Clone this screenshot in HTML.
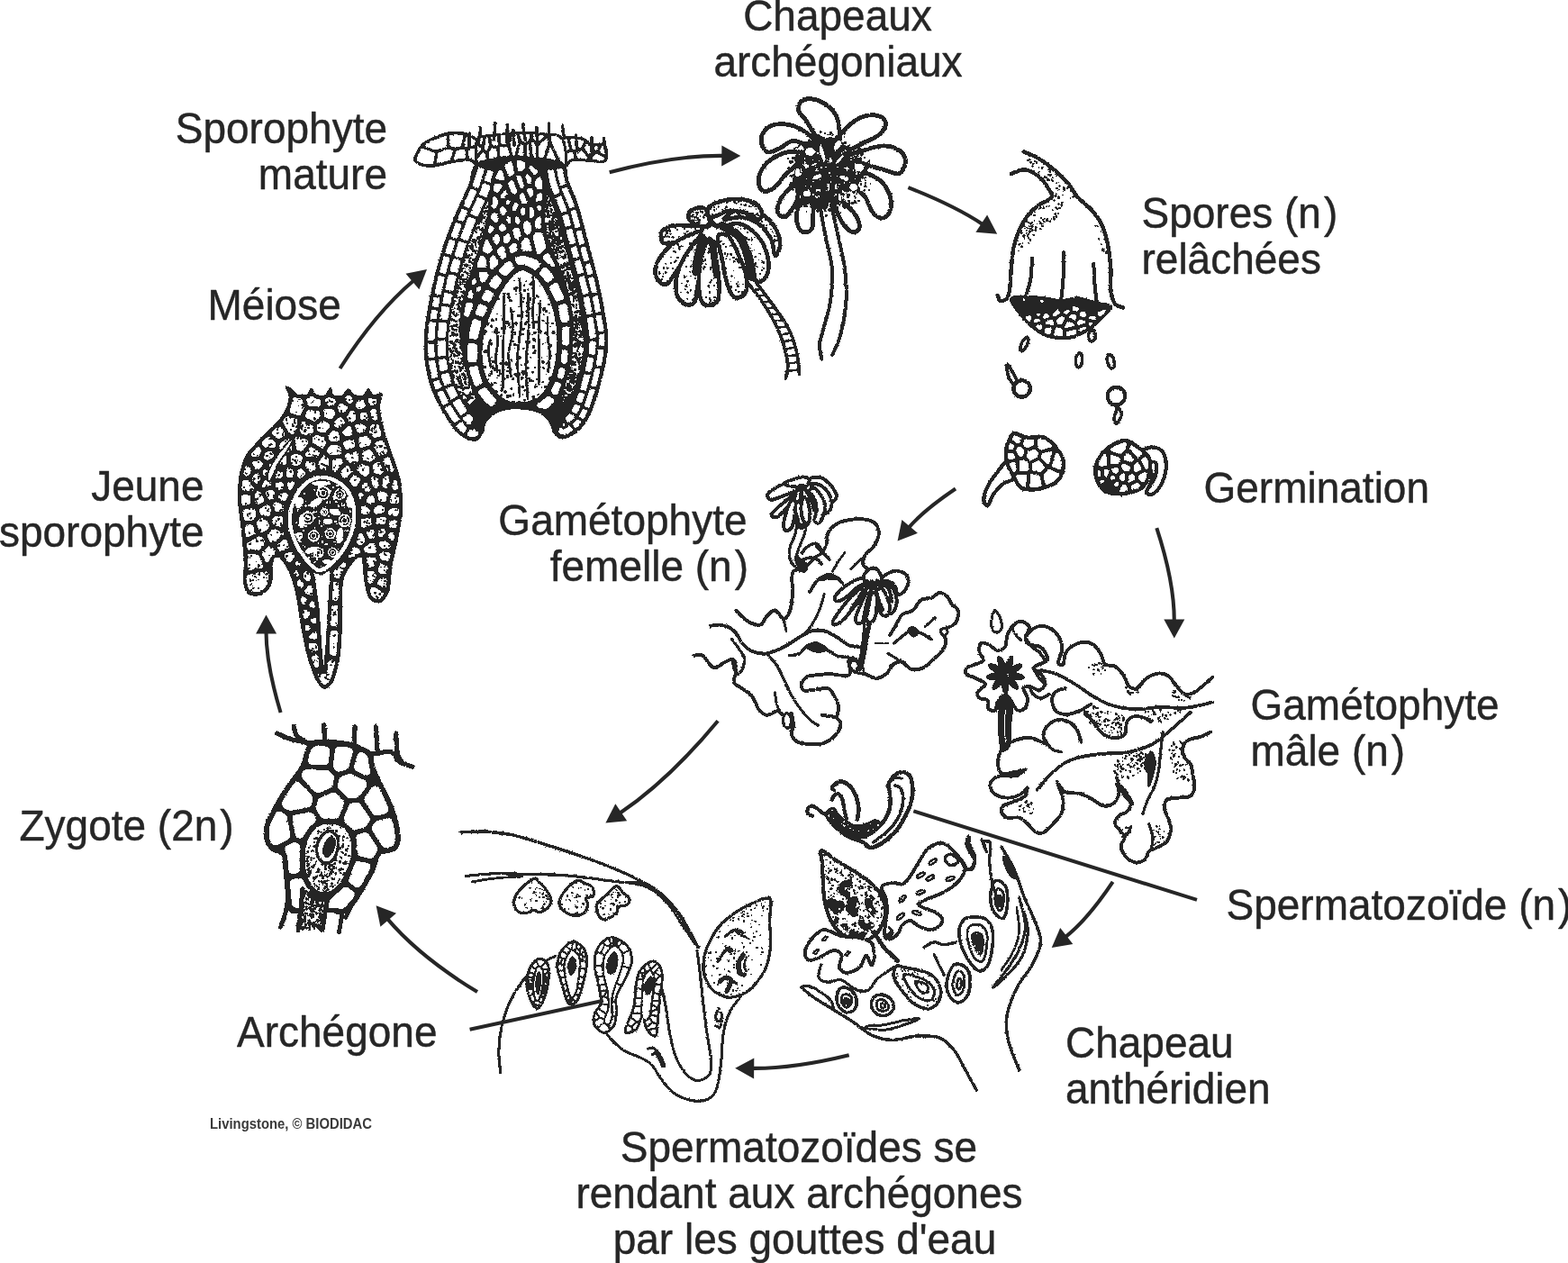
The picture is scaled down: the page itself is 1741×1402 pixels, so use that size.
<!DOCTYPE html>
<html lang="fr">
<head>
<meta charset="utf-8">
<title>Cycle de vie de Marchantia</title>
<style>
html,body{margin:0;padding:0;background:#fff;}
body{width:1741px;height:1402px;overflow:hidden;}
svg{display:block;will-change:transform;}
svg text{font-family:"Liberation Sans",sans-serif;fill:#262626;stroke:#262626;stroke-width:0.45px;stroke-linejoin:round;}
svg text.credit{font-family:"Liberation Sans",sans-serif;font-weight:bold;fill:#3a3a3a;stroke:none;}
.ln{fill:none;stroke:#231f20;stroke-linecap:round;stroke-linejoin:round;}
.fw{fill:#fff;stroke:#231f20;stroke-linecap:round;stroke-linejoin:round;}
.fk{fill:#231f20;stroke:#231f20;stroke-linejoin:round;}
</style>
</head>
<body>
<svg width="1741" height="1402" viewBox="0 0 1741 1402">
<defs>
<filter id="rough" filterUnits="userSpaceOnUse" x="0" y="0" width="1741" height="1402" color-interpolation-filters="sRGB">
<feTurbulence type="fractalNoise" baseFrequency="0.6" numOctaves="2" seed="7" result="n"/>
<feDisplacementMap in="SourceGraphic" in2="n" scale="2.2" xChannelSelector="R" yChannelSelector="G" result="d"/>
<feColorMatrix in="d" type="saturate" values="0" result="g"/>
<feComponentTransfer in="g"><feFuncR type="discrete" tableValues="0.149 0.149 0.149 0.149 0.149 1"/><feFuncG type="discrete" tableValues="0.149 0.149 0.149 0.149 0.149 1"/><feFuncB type="discrete" tableValues="0.149 0.149 0.149 0.149 0.149 1"/></feComponentTransfer>
</filter>
</defs>
<rect width="1741" height="1402" fill="#fff"/>
<g id="art" filter="url(#rough)">
<rect width="1741" height="1402" fill="#fff"/>
<!-- 10_sporo.svg -->
<g id="10_sporo">
<path class="fw" stroke-width="3.2" d="M461.1 175.6C461.8 172.1 466.1 164.4 469.8 160.7C473.5 156.9 478 155.2 483.4 153.1C488.8 150.9 496 148.1 502.4 147.7C508.7 147.2 516.4 148.2 521.3 150.4C526.3 152.5 530.1 155.1 532.2 160.7C534.2 166.2 535.3 180.9 533.5 183.7C531.7 186.5 526.5 178.2 521.3 177.5C516.1 176.7 509.1 178 502.4 179.1C495.6 180.2 486.8 183.5 480.7 184C474.6 184.4 469 183.2 465.8 181.8C462.5 180.4 460.5 179.1 461.1 175.6Z"/>
<path fill="#231f20" stroke="#231f20" stroke-width="2.0" fill-rule="evenodd" d="M461.1 175.6L461.1 177.4L461.5 178.9L464 181L470.7 183.3L477.1 184.1L484.6 183.4L502.4 179.1L514.4 177.4L521.3 177.5L524.4 178.7L532.1 184.2L533.5 183.7L534.3 180.8L534.4 176L533.3 164.9L532.2 160.7L530.7 157.7L528.9 155.3L524.2 151.7L518.1 149.2L510.3 147.8L502.4 147.7L494.5 149.1L483.4 153.1L474.6 157L469.8 160.7L467.6 163.3L463.4 169.9Z"/>
<path d="M503.6 175.3L503.9 176.8L505.3 177.3L516.8 175.7L517.5 174.4L516.7 166.5L515.7 165.8L512.8 165.4L506.5 166.9ZM469.5 164.8L467.8 165.4L464.6 170.6L462.5 175.6L462.9 178.4L466.2 180.5L470.9 182L477 182.7L480.7 182.5L481.5 181.4L483.2 170.5L482.7 169.2ZM520.8 165.6L519.8 166.5L519.6 167.2L520.5 175.4L525.1 177.5L530.5 181.6L531.9 181.9L532.5 181.5L532.9 180.4L533.1 175.9L532.7 170.5L531.4 163.8L530 163.4ZM472.1 160.4L471.6 161.9L472.7 163L484.4 166.7L495.5 163.2L496.5 161.7L495.8 152.1L494.8 150.7L491 151.7L478 156.8ZM484.5 179.9L484.9 181.3L486.3 181.6L499.7 178.1L503.1 168L502.7 166.5L497.6 165.3L486.3 169.4ZM506.3 148.9L499 149.7L498.4 151L499.5 162.5L505.6 164.1L511.8 162.6L514.8 151.4L514.3 149.9ZM515.1 161.3L515.6 162.8L518.4 163.4L528.8 160.9L529.9 159.7L529.5 158.3L526 154.5L520.9 151.6L518.5 151L517.4 152.1Z" fill="#fff"/>
<path fill="#231f20" stroke="#231f20" stroke-width="2.6" fill-rule="evenodd" d="M618.9 158L616.6 168L615.8 179.8L616.2 183.7L617.6 185.7L619.7 186.4L622.3 186.3L627.1 185.1L628.7 184L632.9 178.6L635.2 177.5L642.1 177.3L668.1 179.5L670.4 179.1L672 178.2L673 176.8L673.7 173.4L673.4 166.9L671.9 162.2L670.4 160.7L668.4 160.1L659.6 160.9L656.9 160.7L654.6 159.7L648.5 155L646 153.9L636.2 152.3L632.8 152.3L624.7 153.2L622.4 154L620.5 155.5Z"/>
<path d="M634.3 153.7L633.5 153.9L632.9 155.5L635.2 164.9L635.9 165.9L637.4 166.7L638.7 166.8L645.1 163.9L645.9 163.2L648.3 158.1L648.2 156.6L645.7 155.2L642.9 154.5ZM633.4 168.4L626.9 172L626.7 173.4L628.3 178.3L629.4 179.3L630.8 178.9L632.1 177.5L634.8 176.2L637.1 175.7L637.6 175L636.9 170.2L636.2 169.1L634.8 168.4ZM654.9 161.7L651.6 159.5L650.2 160.3L648.5 164.5L654 172.2L655.6 172.8L658.1 170.3L658.3 168.6ZM651 176.9L652.5 176.2L652.4 174.5L646.4 166.9L645.1 166.9L640.1 169.3L639.8 170.5L640.5 174.7L641.3 175.8ZM618.2 166.8L618.6 168.2L619.3 168.5L623.9 169.9L625 169.8L632 165.9L632.3 164.7L629.7 154.6L628.4 154.1L625.1 154.5L621.7 156.2L620.1 158.7ZM660.4 162.2L659.3 163L659.2 164.3L660.7 167L662.3 167L663.9 164.2L663.8 162.6L662.4 162ZM660.7 171.3L657.1 175.8L657.7 177.2L665 178.1L669.7 177.9L671.3 176.9L671.6 176L670.8 174.6L663.4 170.8L662.3 170.6ZM665.5 167.2L665.6 168.6L666.1 169.2L670.1 171.2L671.6 171.2L672.1 170.6L671.5 164.9L670.5 162.8L669.5 161.9L668.1 162.1L667.7 162.7ZM619.4 171.4L617.8 171.9L617.5 172.7L617.1 179.6L617.7 183.5L618.9 184.7L620.2 185.1L625.7 184.1L626.4 183.7L626.7 182.2L623.8 173.3L622.8 172.4Z" fill="#fff"/>
<path fill="#231f20" stroke="#231f20" stroke-width="2.0" fill-rule="evenodd" d="M529.5 155.2L528.2 160.2L527.8 167L528.1 174.3L529.2 180.6L530.8 184.5L533.2 185.3L536.2 183.9L544.1 178.7L548.4 176.9L558.6 175.2L570 174.3L575.6 174.2L586.5 175.2L602.7 178.3L608.2 180.1L619.4 185L624 186.1L627.1 185.1L628.6 180.8L628.8 174.1L628.1 166.3L626.5 159.1L624.4 153.9L621.3 151.1L617.3 149.7L592.2 147.4L581.1 147.1L570 147.4L535.2 151.2L531.8 152.6Z"/>
<path d="M555.6 159L556.8 160.1L562.8 160.2L563.8 159.8L565.4 150.6L565.1 149.6L564.1 149.2L556 150.3L555.5 151.3ZM591.2 152.6L595.8 158.1L597 158.4L603.7 151.9L604 150.7L603 149.9L592.5 148.9L591.3 149.4ZM574.8 171.3L575.3 172.6L575.9 172.8L580.1 173.1L581.2 172.6L581.8 162L581.3 160.9L579.4 159.8L578.3 159.7L577.6 160.5ZM539.3 171.5L537.3 169.3L536.1 169.1L530.2 175.8L530 176.7L530.5 180.1L531.9 183.3L533.5 183.6L535.5 182.7L540.4 179.2ZM529.3 169.3L529.8 170.3L530.9 170.4L534.4 166.3L534.2 165.2L531.1 161.8L530 161.8L529.4 162.8ZM537.5 164.9L537.9 166L539 167.1L540.4 167.3L543.4 162.2L542 152.9L541.3 152.1L540 152.1L539.4 153ZM588.7 172.6L587 161L585.9 160.6L584.8 161.4L584.2 172.4L584.7 173.4L587.3 173.9L588.3 173.6ZM613.1 150.6L611.9 151.1L611.8 151.8L611.9 157.6L624 183.3L625.5 183.9L626.3 183.2L627.1 180.8L627.4 174.2L626.7 166.6L625.2 159.4L623.3 155L620.8 152.5L617.1 151.1ZM545.9 151.5L544.9 152.3L544.9 152.9L546.4 160.8L551.3 162.3L552.4 162.1L552.9 161L552.5 151.3L551.3 150.8ZM542.2 170.3L543.2 176.7L544.6 177L551.8 174.7L552.2 173.7L551.6 165.5L546.7 164L545.3 164.6ZM591.8 157.9L590.2 157.8L589.7 158.9L591.6 173.8L592.6 174.8L594.6 175L595.3 173.9L595.2 162ZM587.8 148.8L577.4 148.7L576.9 150L578.8 156.1L583.2 158.6L586.8 156.3L588.4 153.1L588.4 149.8ZM531 155.6L531 157.1L533.4 160L534 160.4L535.2 160L536.4 154.2L535.9 153.1L534.7 152.9L532.9 153.7ZM598.2 175L599.1 176.1L602.1 176.7L603.5 175.9L609 157.7L609 153.5L608.2 152.4L606.9 152.7L598.1 161.6ZM555 173L555.7 174L556.4 174.1L565.6 172.9L566 171.7L563.9 163.5L563 163.1L555.4 163.1L554.6 164.7ZM566.5 161.4L569 171.9L569.6 172.7L571.1 172.7L571.8 172L575.6 157L573.9 149.5L573.2 148.7L569.5 148.8L568.6 149.3ZM612 164.4L611.2 163.8L609.8 164.6L606.1 177.3L606.9 178.2L618.5 183.1L619.6 183L620.1 181.5Z" fill="#fff"/>
<path class="ln" stroke-width="3.0" d="M521.3 148C521.3 149.5 521.2 153.8 521.1 156.6C520.9 159.5 520.6 163.8 520.5 165.3M533.5 142C533.4 143.5 533.2 147.9 532.7 150.9C532.2 153.9 531 158.3 530.7 159.8M549.8 136.4C549.7 138 549.6 142.8 549.3 146C549.1 149.2 548.4 154 548.2 155.6M563.4 138.5C563.3 140.2 563.3 145.3 563.3 148.6C563.3 152 563.2 157.1 563.2 158.8M570.1 144.2C570.2 145.6 570.3 149.8 570.4 152.6C570.6 155.4 570.9 159.6 571 161M581 137.7C581.1 139.2 581.3 143.6 581.7 146.6C582.1 149.6 583.1 154.1 583.4 155.6M595.9 141.2C595.9 142.8 596 147.4 596.2 150.5C596.4 153.6 596.9 158.3 597 159.8M609.4 136.9C609.5 138.4 609.5 143.1 609.6 146.2C609.7 149.3 610 154 610 155.6M624.4 139.1C624.5 140.3 624.7 143.7 625.1 146C625.5 148.3 626.5 151.7 626.7 152.9M639.3 150.2C639.4 151.8 639.6 156.4 640 159.5C640.4 162.5 641.4 167.1 641.7 168.7M656.9 152.5C656.9 154.2 656.8 159.1 656.7 162.4C656.6 165.7 656.3 170.7 656.2 172.3M670.4 153.4C670.6 154.7 670.8 158.9 671.3 161.6C671.8 164.4 673 168.5 673.3 169.9"/>
<path fill="#231f20" stroke="#231f20" stroke-width="3.0" fill-rule="evenodd" d="M528.1 184.5L526.6 187.2L525.5 190.5L522.8 202.4L521.3 206.8L507.8 236.6L500.8 253.7L494.2 271.8L485 303.3L478.8 330.8L473.8 360.5L472.9 369L472.5 382.1L472.9 395.6L473.9 404.7L476.5 418.2L479.1 427.3L482.5 436.4L486.9 445.7L491.7 454.7L499.4 467L505 474.6L510.5 480.6L513.3 482.8L519.1 486.2L521.9 487.3L526.8 488.2L528.6 487.9L531.6 485.7L535.7 478.6L536.9 471.6L539 467L542.9 462.8L548 458.8L553.9 455.6L560.6 453.7L568.1 452.6L575.6 452.4L583.1 452.9L590.6 454.1L597.2 456.2L602.7 459.2L607.2 463L610.8 467L613 471.7L615.1 478.8L617.6 482.1L620.8 484.7L622.7 485.5L624.7 485.8L627.1 485.5L633 483L636.4 481L643.1 475.6L648.7 468.9L651.1 465L655.5 455.9L661.7 439.2L669.1 410.8L673 390.3L673.7 377.6L673.3 369L671.3 355.8L666.9 331L662.3 309.8L642.4 234.4L638.7 223L629.8 201.3L628.9 197.8L627.5 186.6L626.5 184.5L623.8 181.5L622.2 180.5L617.2 179L602.5 176.9L581.9 175.7L563.7 176L547.4 177.6L534 180.2L529.9 182.5Z"/>
<path d="M530.6 186.2L524.2 205.8L525.1 206.9L530.5 208.9L531.7 208L533 204.3L538.2 187.9L537.2 186.8L531.7 185.2ZM522.2 210.1L514.2 227.8L515.1 229L520.4 231.2L521.6 230.4L529.6 212.4L528.7 211.2L523.3 209.3ZM512.5 231.5L507.5 243.2L508.5 244.4L513.8 246.3L515 245.4L519.4 234.7L518.5 233.5L513.2 231.3ZM505.5 247.6L500.2 261.9L501.1 263.1L506.6 264.9L507.7 263.9L513 249.8L512.1 248.7L506.7 246.7ZM498.3 266.4L493.9 280.4L494.9 281.5L500.4 283L501.5 282L505.9 268.4L504.9 267.2L499.5 265.5ZM492.3 285L487.7 301.9L488.8 303L494.4 304.2L495.5 303.1L499.9 286.5L498.9 285.4L493.4 284ZM486.3 306.6L482.2 325.6L483.3 326.6L489 327.6L490 326.4L494.1 307.8L493 306.7L487.4 305.5ZM481.4 329.6L479.4 339.8L480.6 340.8L486.3 341.6L487.2 340.5L488.8 331.1L487.7 330.1L482.8 329.2ZM478.7 343.9L477.2 353.2L478.3 354.1L484 354.8L485 353.6L486.2 345.2L485 344.3L480.1 343.4ZM476.3 358L474.8 373.7L474.9 377.9L476.1 378.7L481.9 378.5L482.7 377.3L484.1 358.4L482.9 357.4L477.2 356.8ZM474.6 382.7L475.3 396.9L476.7 397.6L482.4 396.8L483 395.4L482.4 382.1L481.1 381.3L475.3 381.4ZM475.7 401.8L478.3 416.5L479.4 420.2L480.9 420.6L486.4 418.8L486.8 417.4L483.3 400.2L482 399.6L476.3 400.4ZM480.6 424.2L483.5 432.6L485 432.8L490.2 430.4L490.4 428.9L488.2 422.7L487.2 421.7L481.6 423.1ZM485.2 437.1L491.7 450L493.2 450L498.1 447L498.2 445.5L492 433.4L490.6 433.3L485.3 435.6ZM494 454.3L501.7 466.6L504.1 469.5L505.6 469.4L510 465.8L509.9 464.3L500.4 449.8L498.9 449.8L494 452.8ZM507.6 474.4L513.1 480L514.7 480.9L516.1 480.2L518.9 475.2L518.3 473.9L513.2 468.7L511.8 468.1L506.7 472.1L506.6 472.8ZM521.1 484.7L525.5 485.8L526.6 485.7L530.1 483.6L531.6 481.5L531.8 480.1L526.6 476.1L525.8 476.3L524.6 477.6L522.9 476.7L521.5 476.8L518.1 482.3L518.9 483.6ZM541.1 188.9L537.5 199.9L538.5 201L545.8 203.3L546.9 202.3L550.1 191.8L549.1 190.7L542.6 188.6ZM536.2 203.7L531.7 215.4L532.5 216.6L539.6 219.5L540.8 218.6L545.2 206.8L544.2 205.7L537.7 203.4ZM529.5 219.7L521.8 236.7L522.7 237.9L529.8 240.8L531 239.9L538.6 223L537.8 221.7L530.7 218.8ZM519.7 241.1L510.7 264L511.7 265.1L518.9 267.6L520 266.7L528.8 244.2L528 243L520.9 240.2ZM508.8 268.5L504.1 283.3L505.1 284.4L512.4 286.4L513.5 285.4L518.2 271.1L517.2 270L510 267.5ZM502.9 287.2L499.1 300.5L500.1 301.6L507.5 303.4L508.6 302.3L511.9 290L510.9 288.9L504.3 286.8ZM497.6 305.2L494 321.1L495.1 322.1L502.6 323.5L503.6 322.4L507.2 306.9L506.1 305.9L498.7 304.1ZM493.1 325.1L490.9 335.9L492.1 336.9L499.6 338.1L500.6 337L502.4 327.1L501.3 326.1L494.6 324.6ZM490.2 340L487.8 353.7L489 354.6L496.5 355.6L497.5 354.4L499.5 341.7L498.3 340.7L491.6 339.5ZM486.9 358.5L485.6 374.1L486.9 374.9L494.5 374.9L495.3 373.7L496.5 359.2L495.4 358.2L487.8 357.3ZM485.2 378.9L485.8 395.3L487.2 396L494.8 395L495.4 393.7L494.9 378.5L493.6 377.7L486 377.7ZM486.3 401.6L488.4 412.2L489.8 412.6L497.2 410.7L497.6 409.3L495.6 398.5L494.3 397.9L487.5 398.6L486.2 399.4ZM489.6 418.3L493.1 428.1L494.6 428.3L501.6 425.3L501.8 423.8L498.9 414.7L497.9 413.6L489.7 415.5L489.3 416.2ZM494.7 432L500.3 443.6L501.8 443.6L508.4 439.8L508.4 438.3L503.4 428.3L501.9 428.2L495.6 430.8ZM502.5 447.9L511.2 461.3L512.7 461.1L518.7 456.5L518.6 455L510.6 442.6L509.1 442.6L502.5 446.4ZM514.7 466.5L519.6 471.6L521.4 471.9L525.6 465.4L525.8 464.1L521.8 459.5L520.5 458.9L513.7 463.9L513.6 464.6ZM622.1 482.3L627.9 482.9L633.1 480.5L635.9 478.6L636.5 477.2L633.2 472.9L631.8 473.1L625.6 476.4L623.7 475L622.2 474.8L619.1 479.2L619.7 480.5ZM636.2 469.8L635.6 471.2L635.9 471.9L638.3 474.9L639.8 475.5L643.1 472.5L645.9 468.8L645.2 467.4L641.2 465L639.9 465.7ZM649 464.3L652.7 456.5L651.8 455.3L647.4 453.7L646.2 454.6L642.7 461.8L643.3 463.1L646.6 465.2L648.1 465.3ZM654.7 452.1L661 433.2L660 432.1L655.5 431L654.4 432.1L648.3 450.2L649.2 451.4L653.5 453ZM662.5 428.5L666.8 410.4L665.7 409.3L661.1 408.5L660.1 409.6L655.9 427.5L656.9 428.5L661.5 429.6ZM668.1 405.7L670.6 391.8L670.8 388.3L669.6 387.4L664.9 387.2L664.1 388.4L661.4 405L662.5 406L667.1 406.8ZM671.5 382L671.1 371.2L669.7 370.5L665.1 371.2L664.5 372.5L664.7 383.7L665.9 384.5L670.6 384.7L671.2 384.2ZM670.8 366.3L668 349.7L666.6 349.2L662 350.2L661.5 351.6L664.2 367.7L665.6 368.3L670.2 367.7ZM667.3 344.9L664 328.3L662.5 327.8L658 329L657.6 330.4L660.9 346.8L662.3 347.3L666.8 346.3ZM663.2 323.5L659.4 307.4L657.9 307L653.5 308.3L653 309.7L656.8 325.6L658.2 326.1L662.7 324.9ZM658.4 303.4L655.5 292.5L654.1 292.1L649.6 293.5L649.2 295L652.1 305L653.5 305.4L657.3 304.5ZM654.4 287.7L650.4 273.8L648.9 273.4L644.5 274.8L644.1 276.3L648.1 290.2L649.6 290.6L654 289.2ZM649.3 269.1L645.6 255.6L644.2 255.2L639.7 256.5L639.3 257.9L643 271.6L644.5 271.9L648.9 270.5ZM644.6 250.8L639.6 233L638.1 232.6L633.7 234.2L633.4 235.6L638.3 253.2L639.7 253.6L644.2 252.3ZM638.3 228.2L629.7 207.6L628.3 207.4L624 209.3L623.8 210.8L632.1 231L633.6 231.3L638 229.7ZM628.2 203.1L624.5 186.9L623.1 186.4L618.6 187.3L618 188.7L619.3 196.6L620.8 202.5L622.2 206.1L623.7 206.4L628 204.5ZM625.2 472.9L626.9 473L627.7 472.3L627.7 470.8L626.9 470L625.5 469.9L624.8 470.7L624.6 472.2ZM631.2 470.1L635.3 467L638.2 463.1L637.5 461.7L632.9 459L631.5 459.6L627.7 463.4L627.1 464.7L630.5 469.9ZM634.5 455.1L634.5 456.5L635 457L639 459.5L640.5 459.6L644.5 452L644.3 450.5L639.4 448.2L637.9 448.4ZM646.2 447.4L649.7 437.8L648.6 436.7L643.4 435.3L642.3 436.3L639.4 444.6L640.4 445.8L644.7 447.6ZM651.3 433.2L655.5 416.9L654.4 415.9L649.1 414.8L648.1 415.9L643.9 431.8L644.9 432.8L650.2 434.3ZM656.9 412.2L659.7 397.9L658.6 396.9L653.2 396.1L652.2 397.3L649.4 411.2L650.5 412.2L655.8 413.3ZM660.8 393.1L662 381.8L661.8 379.2L660.5 378.4L655.1 378.7L654.3 379.9L653.3 392.6L654.4 393.5L659.8 394.3ZM661.8 370.8L658.7 351.9L657.3 351.4L652 352.5L651.5 354L654.5 375.2L655.8 375.9L661.2 375.6L661.9 374.3ZM658.1 347.1L654.5 329.3L653 328.8L647.7 330.1L647.3 331.5L650.8 349.1L652.2 349.7L657.6 348.5ZM653.7 324.5L649.3 306.4L647.9 306L642.6 307.5L642.2 308.9L646.5 326.8L647.9 327.2L653.2 325.9ZM648.3 301.6L644.5 288.5L643.1 288.1L637.9 289.7L637.5 291.2L641.2 304.2L642.7 304.6L647.9 303.1ZM643.4 284.5L640.4 273.5L639 273.1L633.8 274.7L633.4 276.1L636.4 286.5L637.9 286.8L642.4 285.6ZM639.4 268.8L635.4 253.8L633.9 253.4L628.7 254.9L628.3 256.4L632.3 271.4L633.8 271.8L639 270.2ZM634.3 249.8L631.1 237.7L629.6 237.3L624.4 239.1L624.1 240.5L627.3 251.6L628.7 252.1L633.9 250.5ZM629.8 233L623.5 217.3L622 217.1L617.1 219.5L617 221L622.9 235.9L624.3 236.2L629.5 234.4ZM621.8 212.8L617.6 200.8L615.2 188.4L613.7 187.9L608.4 188.9L607.8 190.3L610.1 202.6L612.9 211.4L615.2 216.4L616.7 216.6L621.6 214.3Z" fill="#fff"/>
<path fill="#fff" fill-rule="evenodd" d="M519.3 451.8L528.3 442.4L518.9 416.8L514.1 396.6L511.6 380.2L510.7 369.2L510.6 359.2L511.1 350.4L513.3 336.8L517.2 320.8L523.9 298.8L533.1 271.7L539 251.9L541.9 236.6L542.9 219.9L532.9 241.4L526.3 257.1L519.8 274.1L514.2 291.4L509.2 309.4L504.7 328.8L500.8 348.7L498.1 367.3L497.5 378.2L497.5 390L498.6 401.1L500.7 412.3L504 423L509.1 434.4ZM621.5 442.3L630.1 451.2L636.1 437L639.7 425.5L643.3 411.8L647.7 390.7L648.5 384.1L648.7 374.4L647.5 364.4L643.7 342.5L636.5 309.1L616.9 236.2L606.4 210.1L606.1 219.6L604.5 236.6L604.5 242L605.4 252L607.2 261.7L609.9 271.7L611.9 276.9L622.6 298.7L626.7 309.7L632.5 331.7L635 346.1L635.9 354.7L636.3 369.1L635.9 380.1L633.6 401.8L631.7 411.8L629.1 421.6Z"/>
<path d="M637.3 322.6h0M625.5 303.5h0M515 311.8h0M623 267.5h0M617.1 287.5h0M618.5 251.9h0M616.7 244.1h0M626.2 444.1h0M535.3 257.9h0M503.1 343.4h0M610.7 222.2h0M512.1 421.6h0M510 346.5h0M614.8 253.5h0M525.4 278h0M640.4 361.7h0M626.8 309h0M512.3 401.6h0M624.2 295.7h0M611.8 269.5h0M617.1 267.1h0M532.4 254.7h0M607.1 252.6h0M639.3 410.5h0M605.3 247.9h0M504.9 412.1h0M498.2 388.2h0M522.2 294.6h0M637.2 376.7h0M616.6 266.5h0M640.2 332.3h0M637.3 331.9h0M640.2 364.6h0M535.2 258.3h0M516.8 313h0M641.7 416h0M641.2 368.6h0M613.4 272.8h0M612.3 228.3h0M642.4 345.1h0M504 346.2h0M622.1 271.1h0M630.1 302.2h0M506.8 362.1h0M627 300h0M507.2 373.3h0M641 359.5h0M630.1 444.4h0M500 373.1h0M630.4 297.2h0M615 276.6h0M516.2 317.8h0M644.4 383.3h0M519.6 444.7h0M508.2 370.6h0M633.2 306h0M512.4 439.4h0M505 379.8h0M637.2 340.9h0M511 377.8h0M635.5 411.9h0M619.4 262.3h0M505.7 400.8h0M613.7 279.8h0M504.4 366.7h0M505.4 407.9h0M514 433.4h0M636.9 376.3h0M506.3 350.5h0M608.1 247.7h0M635.7 434.9h0M524.2 283.6h0M607.6 229.3h0M605.7 250.2h0M626.6 444.6h0M642.7 345h0M636.9 405h0M643.6 360.9h0M643.5 363.7h0M636.4 411.9h0M516.5 301.2h0M515.7 293.6h0M638.8 392.9h0M612 249.8h0M521.6 429.5h0M507.3 338.5h0M617 284.7h0M636.4 361.1h0M517.4 440h0M638.6 361.9h0M524 281.7h0M637.9 347.1h0M618.5 257h0M647.3 366h0M537.9 250.6h0M514.3 315.6h0M646.8 381h0M506.1 360.5h0M533.5 255.1h0M538.2 236.8h0M635.3 316.1h0M644.1 360.1h0M628.6 435.2h0M643.9 366.8h0M637.9 396.3h0M631.7 445.2h0M611.7 231.7h0M637.7 403.6h0M614.2 237.1h0M512.1 308.4h0M612.5 275.9h0M630.5 425.6h0M644.1 366.3h0M529.2 274.4h0M631.9 328.3h0M625.2 302.4h0M624.2 269.6h0M503.9 371.9h0M627.3 447.5h0M638.1 353.3h0M638.7 402.2h0M513.6 419.2h0M619.3 256.2h0M641.8 397.1h0M644.8 370.6h0M627 286.4h0M508.3 371.6h0M635.6 421.7h0M629.3 312.5h0M534.8 246.1h0M628.8 283.4h0M630.1 301.8h0M612 234.5h0M500.4 353.8h0M618.3 262.8h0M616.7 253.8h0M615.8 262h0M634.9 412.9h0M629.3 445.8h0M524.3 291.9h0M630.1 441.2h0M623.2 285.2h0M642.8 404.2h0M519 278.1h0M606.6 219.7h0M514.5 420.9h0M507.7 363.3h0M618.1 270h0M500.8 381.2h0M518.4 293.9h0M509.2 316.9h0M645.1 369.3h0M518.1 296.5h0M620.7 286.7h0M510.1 362.7h0M632.9 442.7h0M634.6 431.8h0M520.4 284h0M517.3 285.5h0M637.1 351.8h0M640.6 347.3h0M535.3 253.7h0M513.8 431h0M631.7 304.9h0M514.3 408.5h0M629 309.7h0M506.4 382.8h0M517.8 419h0M625.4 301.4h0M621.7 266.2h0M639.4 339.7h0M513.7 309.8h0M622.2 257.7h0M637.8 325.2h0M501.6 370.2h0M515.2 324h0M635.7 349.5h0M631.6 298.5h0M632.7 432.7h0M610.7 244.8h0M515.5 313.3h0M626.3 438.5h0M638.7 424h0M640.5 420.7h0M525.8 291.3h0M630.4 286.9h0M501.8 403.4h0M625.1 443.7h0M607.5 262.3h0M538.5 236h0M638.9 321.3h0M637 411.6h0M504.1 411.8h0M641.6 414.6h0M507 427.1h0M636.4 396.2h0M645 374.6h0M516.5 298.4h0M524.7 278.9h0M642.2 356.5h0M518.1 309.2h0M503.4 350.5h0M511.9 321h0M510.6 416.3h0M639.6 329.5h0M633.7 308.5h0M508.9 349.7h0M639.8 375.9h0M640.2 342h0M639.1 416.5h0M640.4 363.2h0M637.9 395.6h0M611.1 231.5h0M504.1 418.8h0M609.7 226.4h0M513.4 429.5h0M515.8 445.9h0M521.3 303.5h0M607.6 234.6h0M614.6 281.8h0M636.8 396.8h0M621.2 270.4h0M524.2 283.2h0M503.6 356h0M627 429.3h0M510.6 337.2h0M505.6 361.3h0M629 296.2h0M524.8 435.1h0M632.7 299.1h0M621.8 269.9h0M646.6 365.4h0M513.2 294.7h0M501.2 398.2h0M507.6 318.2h0M638.5 367h0M630.7 440.1h0M638.7 360.8h0M611.6 258.3h0M510.7 337.3h0M643.6 397.2h0M522.3 269.6h0M509.6 363.2h0M610 227h0M621.9 259.1h0M636.7 426.1h0M626.4 293h0M644.1 349.3h0M611.2 256h0M619.1 274.3h0M509.3 397.6h0M638.9 392.8h0M635.2 424.8h0M505.8 388.9h0M626.7 438h0M521.8 283.2h0M498.8 383.4h0M637.7 367.8h0M516.3 415.9h0M621.7 283.6h0M617 256.9h0M508.3 411.7h0M513 392.5h0M637.3 355.2h0M509.3 336.8h0M633.7 438.9h0M608.8 262.8h0M511.2 386.7h0M527.8 270.8h0M639.1 372.9h0M635.3 324.9h0M631.5 433.8h0M639.4 383.2h0M517.9 317.1h0M502.4 378.9h0M525.5 435.6h0M635.8 322.3h0M617.8 249.6h0M610.3 269.2h0M507.3 327.6h0M632.6 426h0M509.9 364.1h0M534.4 247h0M629.7 295.1h0M629.4 290.8h0M506.7 368.1h0M608.3 226.7h0M512.7 335.8h0M633.3 417.5h0M639.7 333.3h0M646.2 359.5h0M620.5 292.5h0M612.5 270.9h0M624.8 267.5h0M607.6 248.9h0M642.9 409.9h0M509.4 365.5h0M517.6 292.5h0M503.7 360.3h0M619.1 245.8h0M641.1 420h0M605.7 230.2h0M542.1 234h0M519.8 305.6h0M626.1 286.9h0M634.3 400h0M501.5 399.3h0M638.6 401.7h0M630.7 322.3h0M626.1 274.8h0M640.3 393.8h0M617.9 281.5h0M648.2 376.6h0M640.2 422.4h0M518.5 302.5h0M609.3 249.9h0M623.8 284.7h0M514.7 312.3h0M539 240.5h0M519.7 286.1h0M626.3 292.1h0M618.9 278.1h0M616.8 262.2h0M616.2 247.9h0M633.4 318h0M539.2 246h0M615.4 282.2h0M617.9 275h0M635.9 314.1h0M610.5 244.7h0M630.3 304.5h0M508.7 349h0M606.1 256h0M634 429h0M627.9 299.5h0M637.7 360.5h0M635.1 406.6h0M507.3 391.7h0M637 318.9h0M613 263h0M642.8 409.5h0M500.4 379.7h0M642.9 406.9h0M618.1 264.8h0M632.5 311.1h0" fill="none" stroke="#231f20" stroke-width="1.3" stroke-linecap="round"/><path d="M643.4 368.1h0M526.2 268.6h0M508 395.3h0M538.2 231.2h0M619 283.6h0M606.4 226.7h0M629.2 310.9h0M630.6 303h0M504.5 362.2h0M638.6 384.7h0M501.7 405.6h0M633.7 325.3h0M608 239.8h0M512.1 411.2h0M633.1 422.7h0M640.4 371.1h0M643.8 347.4h0M634.5 313.9h0M613.8 261.6h0M636.8 313.5h0M631.7 431.1h0M504.3 355h0M510.8 408.4h0M532.2 271.3h0M647.7 374.2h0M508.4 377.2h0M525 273.5h0M637.2 382.9h0M539.8 248.4h0M618.5 245.6h0M513.6 435.7h0M639.5 419.1h0M502.3 361.7h0M517.4 426.5h0M614.9 239h0M514.2 400.8h0M510.8 333.9h0M513.2 415.6h0M628.1 443h0M514.3 432.2h0M627.6 307.3h0M637.8 364.5h0M638.8 392h0M641.3 383.8h0M614.7 272.9h0M628.9 441.4h0M499.7 396.2h0M613 269.2h0M501.1 394.4h0M639 416.2h0M510.2 403.4h0M635.3 435.5h0M607.4 224.3h0M617.8 265.4h0M641.5 359.8h0M641 364.7h0M604.9 241.2h0M606.2 221.5h0M514.5 414.6h0M630.7 449.7h0M502.6 402.9h0M525.6 267.4h0M519.2 307.7h0M504.2 355.9h0M612.3 264.7h0M527.9 280.4h0M633.2 441.3h0M521.7 441.9h0M633.6 430h0M516.7 295.3h0M613.2 265.9h0M512.8 399.9h0M506.7 386.7h0M609.6 223.5h0M517.8 444.1h0M501.6 379.3h0M638.9 415.3h0M505.9 394.8h0M644 393h0M625.2 438.1h0M612.4 272.5h0M512.5 397.8h0M611.7 276.1h0M638.5 410.4h0M528.1 256.8h0M606.3 254.9h0M510.8 417.7h0M641.9 354.8h0M619.2 267.4h0M641.2 389.6h0M644 366.7h0M619.3 276.2h0M504.3 395.4h0M613.5 266.7h0M621.1 280h0M639.2 384.7h0M540.8 237.7h0M501.6 408.5h0M610.1 252.5h0M612.4 250.8h0M612.3 239.1h0M638.5 360.2h0M511.8 430.6h0M532.8 267.7h0M504.8 341.7h0M614.3 281.1h0M610.9 229.3h0M511.2 308.6h0M513.3 428h0M617.6 286.3h0M618.3 280.9h0M637.5 414.2h0M623.5 438.6h0M630.5 443.3h0M614.6 260h0M504.8 329.9h0M607.9 257.7h0M636.2 317h0M626.7 437.1h0M634.3 326.7h0M611.8 236h0M616.1 280.6h0M628 295h0M648 383.6h0M517.5 285.9h0M626.1 297h0M616.1 253.7h0M522.2 272.7h0M503.2 400.4h0M506.9 377.6h0M621.9 296.2h0M517.2 447.9h0M637 325.9h0M514.9 325.7h0M635.3 421h0M527.2 255.5h0M627.8 283.5h0M536.2 241.4h0M618.3 247.8h0M510.2 332.7h0M510.4 425h0M641.9 377.7h0M523.2 286h0M502.4 346.9h0M506.7 328.7h0M503.4 389.7h0M529.8 278.2h0M626.3 285.1h0M514.6 400.7h0M536 255.6h0M631.7 312.8h0M622.9 268h0M633.2 335h0M524.4 436.6h0M643.8 355.4h0M520.9 283.4h0M511.8 324.2h0M537.2 248h0M512.8 309.8h0M632 315.5h0M638.3 402.1h0M639.5 346.3h0M605.2 238.2h0M632.7 411.6h0M635 403.8h0M513.9 313.2h0M637.5 391.8h0M515.7 302.3h0M505.8 328.1h0M508.4 421.3h0M618.5 251.6h0M637.1 376h0M625.9 440.5h0M647 384.7h0M510.3 425.8h0M613.4 260.9h0M505.2 395.1h0M636.4 401.2h0M505.9 327.4h0M521 288.8h0M639.8 378.1h0M511 315.5h0M626.8 292.6h0M644.1 406.4h0M508.5 316.5h0M642.2 387.2h0M524 271.4h0M628.1 313.1h0M504.7 385.4h0M635.1 432.9h0M631.3 314.5h0M520.6 424.7h0M508.2 319.1h0M629.2 283h0M517 318.2h0M508.7 390.5h0M518.4 430.4h0M610.7 261.5h0M633.2 413.3h0M512.5 301.4h0M534.3 261.4h0M636.1 402.7h0M506.4 372.5h0M519.3 311.3h0M524.6 292.6h0M622.7 275.9h0M504.3 393.5h0M615.2 274.6h0M507 348.5h0M610.4 226.2h0M609.5 252.6h0M638.8 377.2h0M537 258.1h0M518.4 438.9h0M634.9 322.1h0M641.2 417h0M642.1 380.6h0M640.6 382.9h0M506.8 428.3h0M503 339.2h0M621 255.7h0M626.9 429h0M605.9 252.2h0M631.6 415.9h0M502.2 392h0M523 291.2h0M504.1 384h0M510.8 378.1h0M516.1 316h0M500.7 406.4h0M610.4 264.2h0M628.9 308.7h0M615.6 273.3h0M610.4 223.4h0M638.7 404.7h0M632.8 312.2h0M630.5 446.6h0M504.1 348.5h0M529.2 266.7h0M627.1 434.4h0M520.7 427.3h0M512.2 337.8h0M514.7 297.7h0M638.5 372.6h0M534.8 255.7h0M637.6 418h0M628.8 292.8h0M519.7 277.6h0M501.3 389.5h0M516.7 301.7h0M536.7 235.2h0M533.7 240.7h0M646.7 384.4h0M610 248.3h0M501.2 412.3h0M637.9 396h0M513 310.1h0M646.8 392.8h0M508 317.5h0M537.5 256.8h0M609.6 241.2h0M613.4 242.8h0M637.6 384.2h0M512.1 335.4h0M612.7 270.8h0M503.6 413.2h0M507.4 412.6h0M636.6 339.6h0M533.8 260.4h0M614.1 257.8h0M626.3 295.2h0M614 237.6h0M514.2 406.8h0M643.7 379.4h0M500.9 405.7h0M631.5 432.6h0M609.5 234.4h0M508.8 379.8h0M625.1 441.4h0M507.3 418.4h0M640.5 381.3h0M635.6 337.8h0M521.7 427.2h0M635 437.3h0M536.2 241.1h0M636.2 327.6h0M628.8 292.9h0M504.3 337.2h0M515 311.9h0M640.2 337.8h0M634.5 419.7h0M511.1 411.7h0M645 397.4h0M623.9 284.7h0M613 248.2h0M626.9 435h0M606.3 240.2h0M633.7 419.9h0M515.9 411.8h0M536.1 253.4h0M521.9 286.9h0M636.1 417.7h0M610.9 249h0M540.1 231.1h0M628.7 437h0M512.8 440.7h0M513.3 328.2h0M506.6 356.9h0M608.2 220.2h0M507.7 324.6h0M619.6 266.2h0M505.1 407.2h0M507.3 360.3h0M607.3 231.4h0M532.9 244.5h0M638 368.2h0M624.9 301.5h0M515.6 309.8h0M635.6 308.9h0M637.4 323.4h0M506.1 378.8h0M504.1 419h0M637.3 325.1h0M630 305.6h0M622.2 268h0M625.1 296h0M528.2 272h0M516.3 443.6h0M644.1 357.6h0M612.7 247.3h0M611.5 256.8h0M501 371.7h0M627.8 444.7h0M529 258.1h0M507.5 330.6h0M619 286.4h0M500.5 403.7h0M636.8 333.6h0M633 325.7h0M499.5 379.6h0M642.9 375.1h0M514.9 298.3h0M632.6 410.9h0M647.2 383h0M625.6 437.1h0M633.3 424.9h0M613.3 270.1h0M619.6 278.3h0M631.6 439.9h0M637.9 354.1h0M622.2 274.6h0M631.6 297h0M522.5 301.1h0M609.4 267.1h0M640.5 396.9h0M634.1 438.1h0M633.3 315.5h0M616.3 240.2h0M624 263.1h0" fill="none" stroke="#231f20" stroke-width="2.1" stroke-linecap="round"/><path d="M643.3 393.3h0M506.5 402.7h0M645.8 368.9h0M503.7 381.4h0M626.9 294.3h0M640.5 329.1h0M617 240.6h0M636 422.5h0M540.2 244.6h0M510.2 363.4h0M644 372.6h0M631.9 441.6h0M605.8 233.6h0M511.2 409.8h0M513.4 305.4h0M531.7 248.1h0M636.7 313.3h0M516.2 445.4h0M622.2 279.8h0M519 303.5h0M503.1 372.3h0M642.6 355.1h0M516.2 318.1h0M638 330.9h0M615.4 250h0M508.4 429.4h0M533.4 245.4h0M625 302.2h0M510 423.4h0M501.1 362.5h0M511 313.5h0M504.8 382.5h0M515.6 289.9h0M512.7 439.8h0M609.7 261.2h0M519 294.8h0M634.5 402.7h0M639.8 357.5h0M512.5 426.8h0M615.1 269.7h0M631.6 438.8h0M512.4 300h0M608.6 227.4h0M641.8 345.5h0M516.1 421.3h0M637.9 329.4h0M616.1 262.9h0M535.7 241.9h0M639.7 368.9h0M509.1 337.5h0M517.8 282.7h0M637.5 417.6h0M521.3 439.1h0M511 330.3h0M636.2 375.7h0M618.7 252.7h0M507.2 371.3h0M646.5 360.6h0M637.7 430.4h0M520.1 443.1h0M506.9 413.4h0M645.7 371.9h0M509.2 419.1h0M606.7 222.6h0M627.1 436.1h0M631.5 326.8h0M615.5 236.5h0M633.7 401.2h0M625.1 303.4h0M511.1 344.8h0M511.4 309.3h0M511.5 423.7h0M636.6 355.3h0M640.1 353.9h0M638.4 429.4h0M532 269.2h0M531.7 263.6h0M532.7 263.6h0M645.8 356h0M513.3 329h0M617.1 277.7h0M611.5 228.1h0M522.5 274.6h0M637.8 367h0M608.3 237h0M630.3 293.8h0M622.1 259.5h0M610.3 259.4h0M636 338.4h0M506.1 350.6h0M630.1 441.9h0M636.5 353.8h0M632.6 433.3h0M634.4 401.4h0M518.2 315.9h0M510.2 319.8h0M621 268.6h0M635.2 416.2h0M640.9 363.4h0M612.4 233.2h0M635.9 317.4h0M508 323.6h0M643.4 399.2h0M634.7 411.4h0M636.8 425.3h0M627.7 283.2h0M634.5 424.5h0M608 240h0M516 430.7h0M623.1 296.7h0M634.9 319.3h0M611.4 249.8h0M507.2 324.3h0M623 279.9h0M515.1 437.8h0M502.9 369.1h0M500.5 390.1h0M616.1 263.2h0M611.9 254.6h0M612.3 248.9h0M517.8 444.2h0M626.7 306.9h0M620.7 264.6h0M639.6 357.8h0M527.2 288.1h0M632.1 443.7h0M537.5 241.7h0M633.2 320.8h0M621.9 258.4h0M639 423.2h0M629 446h0M621.4 254.9h0M502.4 355.7h0M620.3 255.8h0M636.3 322.9h0M638.6 415.1h0M510.1 393h0M509.9 407.4h0M609.5 263.5h0M613.5 254.2h0M530.9 264.4h0M606.3 234.7h0M632.6 316.5h0M613.9 252.8h0M611.7 253.8h0M613.6 278.5h0M520.1 430.3h0M612.4 261.7h0M632 445.5h0M609.3 239.6h0M644.7 380.3h0M515.2 417h0M635.8 404.8h0M537.1 257.1h0M635.5 391.5h0M614.1 245.4h0M613.5 277.8h0M636.6 420.6h0M513.3 408.5h0M629.4 449.2h0M516.5 418.2h0M614.6 241.8h0M646.7 362.9h0M624.5 273.8h0M634.6 421.2h0M518.9 313h0M645.4 358.8h0M639.3 372.6h0M509.3 340.7h0M636.6 314.8h0M639.5 356.1h0M627.5 284.7h0M510.7 419.4h0M511 403.4h0M642.5 384.8h0M624.7 435.2h0M614.7 237.5h0M636.9 324.8h0M510.4 391.9h0M510.9 308h0M517.1 446h0M524 276.8h0M629.4 430.1h0M635.3 319.5h0M517.9 316.2h0M634.5 401.7h0M519.1 439.5h0M501.5 354.6h0M632.8 432.3h0M609.2 217.7h0M643 382.5h0M643.7 352.6h0M634.1 321.1h0M514.3 312h0M625.1 278.9h0M623.8 267.6h0M640.8 346.4h0M640.1 397.8h0M512.9 427.9h0M614.5 262.3h0M648 367.7h0M511.6 429.5h0M510.6 342.3h0M630.1 298.7h0M624.7 437.1h0M504.9 411.9h0M521.9 436.4h0M514.6 404.1h0M623.1 441.5h0M632.5 428.3h0M628.5 441.4h0M636.3 370.1h0M610.6 254.6h0M501.9 413.1h0M632.5 318.5h0M541.4 229.5h0M635 392.5h0M510.3 356h0M643 402.1h0M519.3 449.4h0M532.5 267.6h0M647.6 383h0M639.4 368.7h0M624.3 444h0M633 408.7h0M518.2 439.8h0M621.8 261.7h0M638.3 352.1h0M630.9 420.3h0M511.6 385.8h0M503.4 347.7h0M506.9 378.3h0M504.8 371.2h0M631.3 432.5h0M640.5 377.3h0M523.9 441.3h0M504.2 412.5h0M639.3 363.6h0M639.2 381.4h0M633.7 442.9h0M499.8 387.5h0M502.6 365.2h0M621.2 274.4h0M511.2 381.9h0M511.4 410.4h0M524.7 437.4h0M531.6 252.4h0M625.8 285.6h0M519.6 284.9h0M527.4 279h0M531.3 264.6h0M510.4 335.2h0M518.4 285.5h0M610.6 272h0M639 323.4h0M641 355.2h0M503.3 386.4h0M508.3 320h0M610.9 249.8h0M630.1 447.7h0M621.7 260.1h0M632 306.6h0M539.8 234.3h0M613.8 254.8h0M615.3 267.2h0M638.7 375.7h0M524.3 274.1h0M506.5 388.9h0M518 447.6h0M647.7 380.5h0M630.3 432.2h0M619.3 249.3h0M631.2 310h0M610.2 246.1h0M633.5 402.3h0M616.8 238h0M525.4 288.5h0M521.6 290.6h0M508.8 342.9h0M638.9 394.7h0M631 426.3h0M498.8 367.1h0M628.9 442.3h0M506 366.2h0M607.1 215.4h0M607.4 229.3h0M604.7 234.5h0M638.6 318.3h0M506.9 371.4h0M637.7 404.2h0M507.9 401.6h0M534.3 243.7h0M610.6 249.4h0M534.4 243.4h0M612.2 249.7h0M634.4 416.6h0M618.9 271.6h0M634.9 416.9h0M626.7 285.1h0M641.7 359.9h0M618.7 265.6h0M627.6 430.3h0M511.9 382.4h0M527.5 268.5h0M627.1 446.9h0M514.9 324h0M617.8 280.5h0M639.8 350.8h0M606.8 248.2h0M641.5 399.7h0M611 228.2h0M526.7 268.4h0M635.3 397.2h0M510.3 367.6h0M619.7 269.8h0M519.8 442.3h0M525 267.8h0M635.8 417.5h0M646.4 369.2h0M610.5 248.7h0M535.1 238.8h0M503.1 417h0M501.2 411.9h0M612.6 264.2h0M627 444.2h0M609.3 263.5h0M639.6 393.6h0M505 334.7h0M623.3 295h0M637.1 431.6h0M529.1 253.5h0M614.6 248.3h0M510.9 435.3h0M521.3 297.7h0M617.9 246.9h0M636.6 352.8h0M638.3 317.9h0M613.7 244.4h0M633.8 417.5h0M630.2 427h0M516.4 424.8h0M647.8 371.2h0M636.7 364.2h0M526 266.1h0M613 249.7h0M630 450.7h0" fill="none" stroke="#231f20" stroke-width="2.9" stroke-linecap="round"/>
<path fill="#231f20" stroke="#231f20" stroke-width="1.5" fill-rule="evenodd" d="M572.8 173.7L568.7 174.3L564.7 176L557.1 181.5L551.2 187.8L549.1 190.8L546.6 197.5L543.8 214.3L542.4 236.6L540.7 247.1L533.5 271.8L519.3 315.4L514.9 331.8L512.9 341.7L511.2 354.8L511 364L511.6 374.5L512.8 385.7L516.7 406.7L521 421.5L528.9 442.4L533.7 451.7L536.2 454.8L538.9 456.6L541.7 457.3L544.5 457.2L568.2 453.1L575.6 452.4L583 453.3L593.9 455.8L605.9 457.5L608.5 457.5L611 456.7L613.5 454.8L616 451.7L618.5 447.4L623.2 437L627.1 426.4L631.2 411.7L633.8 396.5L635.4 380.1L635.6 359.2L634.6 346.1L630.8 326.4L626.2 309.8L622.1 298.9L611.5 277.1L609.4 271.8L606.7 261.8L604.9 252L604 242L604.4 231L606 214.3L605.3 201.2L603.8 194L602.3 190.8L600 187.8L592.3 181.5L582.3 176L577.3 174.3Z"/>
<path d="M602.1 444.4L596.3 448.3L595.7 449.8L596 451.3L596.9 452.5L605.6 454.3L608.7 453.1L614.1 447.9L615.6 445.4L615.4 443.8L614.3 442.6L610.2 439.7L608.8 439.2L607.3 439.4ZM618.9 423.8L617.5 423.6L616.1 424.2L615.2 425.4L611.2 434L611.6 435.4L612.5 436.4L615.2 438.3L616.9 438.8L618.6 438.3L619.7 437L622.9 428.5L623.1 426.9L622.4 425.5ZM623.9 407.8L622.4 407.9L621.1 408.7L620.4 410L618.5 417.9L619.1 419.2L620.4 420.1L623.8 420.9L625.2 420.1L626.1 418.7L627.9 411.8L627.8 410.2L627 408.8ZM626.7 388L625.2 388.2L624 389.2L623.5 390.6L622.3 400.4L622.4 401.9L623.3 403.2L626.3 404.2L627.8 404.1L629.1 403.2L629.8 401.8L631.3 391.4L631 389.8L630 388.6ZM629.2 362.1L624.8 363.1L623.8 364.3L623.6 365.8L624 380.9L624.4 382.3L625.4 383.5L628.9 384.1L630.4 383.8L631.6 382.8L632.1 381.3L632.5 365.1L632.1 363.5L630.8 362.4ZM630.3 340.4L628.9 337.5L627.5 336.7L625.9 336.9L621.2 338.5L619.9 339.4L619.3 340.8L622.4 356L623 357.4L624.2 358.3L629.6 358.1L631 357.5L631.9 356.3L631.9 350.7ZM624.6 333.1L625.9 332.2L626.6 330.8L626.4 329.2L619.8 315.2L618.7 314.1L617.2 313.7L615.7 314.1L611.4 316.7L610.3 317.8L609.9 319.2L610.3 320.7L617 334.3L618.4 334.9L619.9 334.8ZM602.4 297.4L598.7 302.7L598.8 304.2L606.5 313.4L607.9 313.7L609.3 313.2L613.6 310.7L614.8 309.5L615.1 307.9L614.5 306.3L611.1 301.7L606.8 297.1L605.3 296.4L603.7 296.5ZM599.3 294.9L600 293.4L599.7 291.8L597.3 289.6L592.1 286.6L581.4 283.4L579.7 283.4L573.6 285.2L572.1 286.2L571.5 287.9L571.9 289.7L575.2 294.5L577.8 294.8L580.4 294L586.8 296.1L593.5 299.9L595 299.7L596.2 298.8ZM554.9 303L560.2 306.7L561.7 306.6L562.9 305.8L570.7 297.9L571 296.5L570.5 295.1L567.9 290.8L566.7 289.7L565.1 289.4L563.6 290L558.3 294.6L554.5 298.7L553.8 300.2L554 301.7ZM543.2 314.2L542.7 315.8L543.1 317.3L544.3 318.4L548.7 320.8L550.1 321.2L551.6 320.8L556.9 313.3L557.5 311.9L557.2 310.4L552.4 306.1L550.9 305.5L549.3 305.7L548.1 306.8ZM542.3 321.9L540.8 321.5L539.2 322L538.2 323.2L535 329.5L534.7 331L535.3 332.5L536.5 333.5L542.5 335.9L544 335.3L545 334.2L547.9 328.3L548.2 326.8L547.8 325.4L546.7 324.3ZM534.8 337.2L533.2 336.9L531.7 337.5L530.8 338.7L527.6 346.4L527.5 348L528.1 349.4L529.4 350.3L535.7 352.1L537 351.5L537.9 350.3L540.9 343.1L541.1 341.6L540.5 340.2L539.3 339.2ZM528.1 354.1L526.6 354L525.1 354.7L524.3 356L521.9 364.4L520.2 373L520.4 374.6L521.4 375.8L522.9 376.4L527.8 377L529.3 376.8L530.6 375.9L534.7 359.5L534.8 358L534.1 356.6L532.8 355.8ZM519.1 399.8L519.7 401.3L520.9 402.3L522.5 402.5L527.4 401.9L528.9 401.3L529.8 400.2L530 384.2L529.7 382.7L528.8 381.5L522.4 380.4L520.8 380.6L519.6 381.6L519.1 383.1L518.7 391.4ZM523.4 406.5L521.9 407.1L521 408.5L520.9 410.2L524 420.4L526.4 427.2L527.4 428.6L529.1 429.2L530.7 428.7L534.5 426.5L535.5 425.5L536 424.1L532.9 415.5L531.3 408.4L530.7 407L529.5 406.1ZM532.1 432.6L531 433.7L530.6 435.3L531.1 436.8L536.8 444.2L543.2 450.6L544.7 451.3L546.2 451.1L547.5 450.2L550.6 446.2L551.2 444.9L551 443.4L545 436.8L540.5 431L539.3 430L537.9 429.6Z" fill="#fff"/>
<path d="M576 241.3L575.1 240.4L573.9 240.1L572.7 240.5L571.9 241.4L571.8 246.6L573 248.5L575.1 248.9L576.5 248.5L577.4 247.3L578 244.9ZM590.2 197.1L586.4 193.1L585.1 193L584 193.6L583.3 194.6L585 202.7L585.6 203.8L586.7 204.4L588 204.4L589.2 203.7L590.7 199.3ZM567.2 213.1L568.1 214.3L571.2 215.9L572.5 215.6L573.4 214.7L574.6 212.2L570.4 201.3L569.7 200.3L568.6 199.8L565.1 201L563.8 203.9ZM533.5 313L536.6 314.5L538.6 313.3L542.6 306.8L543 305.5L542.7 304.2L541 302L533.9 301.2L532.8 301.4L531.3 303L533 312ZM552 276.7L551.2 278.7L551.5 279.8L556 286.9L557 287.8L558.3 288L561.5 285.9L562.2 284.9L562.3 283.6L561.1 276L560.1 274.4L557.1 273L555.7 273.5ZM565.5 279.5L566.8 281.3L567.9 281.5L574.2 279.1L575 277L574 270.7L571.8 269.4L570.3 269.2L569 269.9L565 274.5ZM550.1 196.6L550.1 197.9L550.8 199.1L552 199.6L559.3 200.4L560.3 199.7L560.8 198.6L558 190L557.3 189L556.2 188.5L554.9 188.6L553.5 189.8L551.8 192.5ZM602.8 284.6L602.2 285.8L602.3 287.1L603.1 288.2L612.1 296.1L613.3 296.8L614.7 296.8L615.8 296L616.3 294.7L616 293.4L609.4 280.8L607.2 280.4ZM544.8 241.7L545.5 243.8L548.8 247.1L550.1 247.7L551.5 247.5L552.6 246.6L554.4 243.1L551.7 237L550.7 235.9L549.2 235.6L546 236.6L545.3 238ZM542.8 251.5L541.4 258L542.1 259.1L543.2 259.7L544.5 259.6L548.6 255.2L549 253L546.8 250.4L545.7 249.8L544.5 249.8L543.4 250.4ZM566.5 225L566.6 223.7L565.9 222.5L564.8 221.9L563.4 222L562.4 222.8L561.4 224.4L562 226.5L563.2 227.4L564.5 227.5L565.6 226.9ZM577.2 254.4L576.4 253.2L575 252.7L572.2 252.6L570.3 253.4L568.9 255.5L571.1 264L571.6 264.8L573.6 266L575.7 266L579 261.4ZM514.9 349L515.6 351L516.5 351.5L519.5 352.2L520.6 351.7L525.6 339.6L525.7 338.3L525.1 337.1L519.9 335.2L518.6 335.2L517.5 335.9L516.8 337.5ZM582.7 245.6L581.6 246.9L580.4 250.2L580.4 251.7L582.4 258.5L583.2 259.6L584.5 260.2L587.8 260.1L590.6 256L590.8 254.3L589.6 248.5L588.6 247L586.1 245.3L584.8 244.9ZM595.4 198.3L594.6 199.5L593.3 204.1L593.6 206.1L596.4 209.9L600.3 210.3L601.5 209.9L602.4 209L602.7 207.7L601.6 197.7L600 196L598.9 195.9ZM578.1 270.7L579.2 277.6L581 278.7L587.7 279.7L589 279.8L590.1 279.2L590.8 278.1L590.8 276.9L588 265.9L587.2 264.6L585.8 264.1L582.4 264.1L578.5 269ZM568.4 231.3L568.4 232.6L569 233.7L570.1 234.4L571.3 234.4L573.1 233.6L575.3 228.8L575.4 227L574.1 224.7L573.1 224.1L570.9 224.7ZM575.9 177.2L574.8 177.4L573.3 178.9L574.6 188.7L575.8 190.5L579.5 190.5L582.6 187.3L583.1 186.1L583.8 182.2L583.6 180.6L581.2 178.9ZM566.1 260.6L564.6 259.1L563.5 259L559 262.2L558.8 267.7L559.1 268.8L560.7 270.2L562.9 270.5L566.7 266.8L567.3 265.7L567.3 264.5ZM587 186L587.5 188L592.9 193.9L594.1 194.1L595.2 193.6L597.3 191.5L597.4 190.1L596.7 189L590.8 184.3L589.7 183.8L588.5 184L587.5 184.7ZM554.7 232.2L554.7 234.3L556.5 237.9L557.3 238.9L558.4 239.3L559.6 239.1L560.5 238.3L563 234.7L562.4 232.6L558.7 228.9L556.4 229.2ZM567.8 242.1L566.6 240.2L565.5 239.8L564.3 240L562.4 242.2L561.9 243.5L562.2 244.8L564.4 248L565.6 248.3L566.9 247.9L567.7 247ZM523.2 313.4L523.2 314.6L523.7 315.7L524.7 316.3L526 316.4L527.1 315.9L529.1 313.6L529.2 312.4L528.2 309.3L527.2 308.7L525.9 308.6L524.8 309.2ZM554.2 269.8L555 268L554.9 262.7L553.3 259.9L552.2 259.2L550.8 259.2L549.6 259.9L546.7 263.4L546.2 264.6L546.4 265.9L549.3 271.5L551.4 271.9ZM555.8 219.2L556.5 220.2L557.7 220.7L558.9 220.5L559.9 219.8L563.4 214.7L563.1 213.1L562.3 212.1L561.1 211.6L559.8 211.8L558.9 212.6L555.9 216.7L555.5 217.9ZM580.2 209.3L581.7 208L582 206.1L579.4 196.3L578.2 194.8L574.5 194.8L573.4 195.9L573.3 198.1L577.2 207.9L579 209.4ZM597.7 228L596.6 228.6L596 229.7L596.5 232.5L597.2 233.6L598.4 234.2L599.7 234.1L600.8 233.3L601.2 232L601.2 229.2L599.4 227.7ZM595.8 281.1L596.4 282.2L597.5 282.8L598.8 282.8L599.8 282.2L606.1 275.7L606.7 274.5L603.1 259.9L602.4 258.5L600.9 257.9L594.3 257.8L591.6 261.9L591.3 263.7ZM544.1 297.6L545.2 299.5L547.5 299.7L553.9 292.5L553.7 290.4L549.8 284.2L548.8 283.3L547.5 283.1L546.2 283.7L544.1 285.8ZM546 229.4L546.3 230.7L547.4 231.7L548.8 231.9L550.6 231.3L553.5 225.8L553.6 223.8L551.8 219.7L550.1 218.1L548.9 217.8L547.7 218L546.8 218.9ZM562.1 252.3L559.1 247.7L558 247.4L556.8 247.7L553.7 251.9L553.4 253.3L553.9 254.7L556.6 257.5L558.9 257.2L562.1 254.6ZM598.7 240.3L597.3 240.5L596.3 241.4L593.6 245.9L593.3 247.7L594.2 251.9L595 253.2L596.4 253.8L599.2 254L600.5 253.7L601.5 252.7L601.7 251.4L601 242.5L599.9 240.7ZM550.9 203.3L549.7 203.4L548.7 204.2L547.4 210.4L547.6 211.8L548.6 212.8L551.7 214.3L553.7 213.3L558 206.7L557.8 205.5L557.1 204.5ZM560.9 182.4L560.1 183.6L560.2 185.1L563.8 194.7L564.5 195.7L565.6 196.2L568.6 195.5L570.8 193L571.1 191.3L569 179.5L566.9 178.6L565.8 178.9ZM529.3 294L529.3 295.4L530.1 296.7L531.4 297.2L537.7 297.7L539 297.4L539.9 296.5L540.3 295.2L539.7 286.1L535.9 283.6L534.6 283.3L533.3 283.8L532.5 284.9ZM580.8 230.2L579.3 230.5L578.2 231.7L577.1 235.2L578.9 238.6L579.7 239.4L580.9 239.7L582.1 239.4L582.9 238.6L583.5 232.8L582.5 230.7ZM535.2 276.7L535.6 278.8L536.4 279.5L540.3 281.7L541.6 282L543 281.4L546.9 277.9L546.9 275.8L542 266L540.9 265.6L538.8 266.2ZM518.9 328.6L518.9 329.8L519.5 330.9L520.5 331.5L523.8 332.1L524.8 331.6L525.6 329.4L524.3 322.8L523.3 322.1L522 322L520.8 322.6ZM596.2 215.8L594.6 222.3L595.3 223.4L596.4 224L600.6 223.1L601.8 222.4L602.5 219.4L602.4 215.4L601.6 214.4L600.3 214.1L597 214.5ZM576.5 217L576.3 219L579.3 225.9L582.6 226.6L583.8 226.5L584.8 225.7L585.3 224.6L585.1 223.4L582 215.2L581.2 214.1L580 213.7L578.7 213.9ZM587.4 231.5L587.2 241.1L588.4 242.3L589.6 242.7L590.9 242.4L591.8 241.5L593.9 237.6L592.1 231L591.4 229.8L590.2 229.3L588.9 229.4L587.8 230.3ZM586.4 208.8L585.3 209.5L584.7 210.7L584.9 212L587.8 218.8L590 219.3L591.7 217.7L592.9 212.4L591.1 209.2L589.9 208.3ZM528.4 320.1L529 323.8L529.9 324.6L531.1 324.8L532.2 324.4L534.5 320.7L534.7 319.5L534.3 318.3L533.3 317.4L531.9 317.2L530.7 317.8Z" fill="#fff"/>
<path fill="#fff" stroke="#231f20" stroke-width="3.0" fill-rule="evenodd" d="M575.6 299.5L569.7 304.2L566.4 307.6L559.7 315.9L553.4 326L546.9 338.9L541.2 352.4L537.2 364.3L534.8 375.4L533.5 391.1L534.1 401.6L535.8 411.7L539 420.9L543.9 429.4L550.2 436.9L553.4 440L559.6 444.7L565.6 447.4L568.8 448.2L575.6 448.6L583.6 447.8L588 446.9L596.4 443.7L600 441.3L603.1 438.2L606 434.4L611 425.5L614.9 415.5L616.4 410.2L618.8 398.5L620.3 380.3L619.4 362.3L616.2 345L612.5 334.1L605.1 319.2L600.2 311.8L597.7 308.9L590.1 302.6L581.9 298.1L580 297.9L578 298.3Z"/>
<path class="ln" stroke-width="2.2" d="M559.3 326C559.3 331.9 559.2 349.5 559.1 361.3C559 373 558.8 384.8 558.6 396.5C558.4 408.3 558.2 425.9 558.1 431.8M567.4 342.3C567.8 346.5 569.9 359.2 569.4 367.6C569 376.1 565.1 384.5 564.7 392.9C564.4 401.4 567 414 567.4 418.2M576.9 309.8C577.3 317 579.5 338.7 579.1 353.2C578.7 367.6 575 382.1 574.6 396.5C574.3 411 576.7 432.7 577.1 439.9M586.4 326C586.5 332.5 587.4 352 587 364.9C586.6 377.9 584.1 390.8 583.9 403.8C583.7 416.7 585.7 436.2 586 442.6M591.8 307.1C592 310.2 593 319.7 592.9 326C592.9 332.4 591.6 338.7 591.6 345C591.5 351.4 592.4 360.8 592.6 364M600 336.9C599.6 341.9 598.3 356.8 598.1 366.7C597.9 376.7 598.4 386.6 598.5 396.5C598.6 406.5 598.7 421.4 598.7 426.4M608.1 353.2C608.1 356.5 607.7 366.4 608.1 373C608.5 379.7 610.3 386.3 610.4 392.9C610.4 399.6 608.7 409.5 608.4 412.8M551.2 364C551.4 366.7 552.7 374.8 552.6 380.3C552.5 385.7 550.6 391.1 550.5 396.5C550.4 402 551.7 410.1 552 412.8M544.4 377.6C544 379.2 542.4 384.2 542.2 387.5C542 390.8 542.8 394.1 543.2 397.4C543.7 400.8 544.7 405.7 544.9 407.4"/>
<path d="M590.3 319.9h0M552 348.4h0M565.7 440h0M607.4 395.4h0M560.9 325.8h0M543.5 358.5h0M582 317.2h0M586.2 393.2h0M566.6 341.3h0M578.9 405.1h0M574.2 319.5h0M597.2 438.2h0M594.4 379.3h0M552.3 419.3h0M565.6 358.8h0M564.1 402.3h0M566 413h0M558.5 326.5h0M538.3 370.7h0M560.4 433.8h0M543.5 384.1h0M580.4 438h0M591.3 376.1h0M567.6 399.2h0M581.4 332.4h0M592.1 347.4h0M595.7 349.6h0M592.2 423h0M610.9 408.2h0M610.8 362.7h0M571.3 311.4h0M564.7 401.3h0M575.5 309h0M605.6 380.4h0M599.6 317.5h0M599 338.6h0M586.3 321.7h0M615.8 369.5h0M573.1 326.4h0M573.6 319.4h0M603.7 349.2h0M606.5 415.3h0M610 347.6h0M556.2 427.5h0M536.7 382h0M612 383.2h0M611.2 396.7h0M565.8 334.1h0M542.1 387.1h0M592.4 443.3h0M546.1 396.3h0M585.7 354.6h0M591 371.3h0M598.4 355.9h0M571.4 445.3h0M578.8 420.9h0M584 311.9h0M556.5 350.3h0M601.3 396.9h0M564.6 356.3h0M556.2 373.1h0M565 385.9h0M551.1 433.3h0M590.9 358.2h0M559.4 427.3h0M601.4 430h0M602.3 381.8h0M594.9 426.5h0M571.6 386.5h0M582.2 330.9h0M561 359.6h0M582.7 445.9h0M575.8 340.4h0" fill="none" stroke="#231f20" stroke-width="1.3" stroke-linecap="round"/><path d="M568 400.2h0M554.7 411h0M569.7 446.1h0M613.3 359h0M583.9 380.2h0M553.6 416.8h0M595.9 328.3h0M551.5 435h0M573.2 417.3h0M576.8 415.6h0M547 406.3h0M606.7 358.8h0M573.7 405.1h0M545.8 414.8h0M549.3 425h0M547.2 355.7h0M561 362.3h0M596.4 421.2h0M609.6 337.9h0M603.2 356.2h0M576.9 437.1h0M560.1 369.4h0M567 411h0M599.8 334.1h0M585.6 424.1h0M580.3 346.8h0M551.1 354.6h0M569.5 420.7h0M555.6 403.4h0M569.4 378.9h0M572 370.3h0M575.1 400.5h0M610.1 421.2h0M582.6 433.4h0M562.2 357h0M570.1 438.4h0M538.7 407h0M603.1 407.8h0M581.6 415h0M584 427.7h0M570.4 345.8h0M591 350.1h0M544.5 415.2h0M543.4 417.2h0M580.4 371.2h0M594.1 389.5h0M581.2 386.8h0M580.6 415.3h0M608.1 352.1h0M567.7 431.6h0M594.1 408.2h0M584.5 350.6h0M588.2 342.3h0M602.7 424.3h0M541.6 360.6h0M560.2 420.4h0M578.1 323.6h0M606.9 403.3h0M565.2 360.5h0M548.8 368.5h0M589 397h0M566.6 363.5h0M582.5 443.8h0M584.2 399.8h0M573 323.2h0M585.4 357.4h0M585.3 340.1h0M581.6 365.3h0M591.6 413.3h0M563.6 439.3h0M560.7 364.4h0M556.5 403.9h0M545.7 412.5h0M554.1 368.9h0M585.4 427.9h0M585.5 357.9h0M610.8 419.5h0M597.2 329.3h0M594.4 330.8h0M563.3 412h0M556.8 438.7h0M587.5 420.4h0M541.5 421.5h0M542.6 385.4h0M586.2 408.7h0M604.1 408.9h0M580.8 334.9h0" fill="none" stroke="#231f20" stroke-width="2.3" stroke-linecap="round"/><path d="M547.7 408.5h0M579.9 365.6h0M552.9 331.7h0M565 329.8h0M538 407.7h0M588.6 332h0M563.2 358h0M589.1 422.6h0M587.2 380h0M591.4 313.6h0M585.3 401.9h0M610.9 395.1h0M572.3 415.6h0M563.3 404.6h0M606.2 369.7h0M558.5 354.5h0M592.9 442.7h0M599.1 337.3h0M545.9 426.8h0M539.7 390h0M603.5 343.7h0M550.7 366.6h0M593 376.8h0M592.6 384.9h0M545.4 362.2h0M555.6 414.1h0M538.3 390.1h0M587.3 370.2h0M583.5 359.1h0M606.6 345.2h0M576.2 446.3h0M572 320.6h0M572.9 358.8h0M573.1 320h0M567.1 333.4h0M563.8 440.6h0M558.1 364.5h0M557 432.8h0M549.6 410.5h0M557.5 414.3h0M585.3 345.9h0M606 429.6h0M584.7 379.5h0M579.7 419.8h0M576.9 397.2h0M564.3 326.3h0M540.9 359.2h0M585.7 435.4h0M594.9 429.3h0M547.8 401.3h0M589.3 315.3h0M576.1 350.4h0M574.1 405h0M539 367.8h0M563.4 418h0M614.2 369.1h0M599.8 367.9h0M581 412.5h0M592.2 440.3h0M593.1 391.6h0M568.6 368.1h0M614.4 368.5h0M582.3 322.4h0M545.3 381.8h0M546.6 355.1h0M604.2 342.3h0M580.2 429.5h0M592.4 333.1h0M603 402.1h0M585.6 336.4h0M611.6 383.7h0M592.7 357.4h0M587.6 362h0M561.8 403.2h0M565 407.5h0M572 382.4h0M561 434.9h0M566.3 439.4h0M595.3 357.6h0M593.9 369.3h0" fill="none" stroke="#231f20" stroke-width="3.3" stroke-linecap="round"/>
</g>
<!-- 20_young.svg -->
<g id="20_young">
<path fill="#231f20" stroke="#231f20" stroke-width="1.6" fill-rule="evenodd" d="M317.9 429.8L321.3 437L321.8 441.3L320.1 449.8L316.8 457.2L311.3 465.4L292.8 483.9L277.2 501L274.3 505L272.2 509.2L270.3 514L267.4 524.1L266.4 528.8L265.3 539.8L265.1 557.9L269 589.5L271.4 615.7L271.7 626.6L271.2 647.6L272.8 653.6L275.4 658.1L277 659.5L279 660.3L284.8 660.7L290.2 659.5L294.8 656.1L297.2 653.6L299.3 650.8L300.7 647.6L301.5 643.2L302.2 625L302.8 621.2L304 619.2L305.7 618L307.6 617.5L309.5 617.8L311.3 618.6L315.4 623.3L321.8 634.4L325.2 643.8L328.5 655.4L330.9 666.8L334 688.8L337.5 708L340.3 721.3L343.2 732.2L347.2 744L350.9 753.2L354.5 759.1L356.5 761.4L358.4 763.1L360.1 763.8L361.9 763.5L363.9 762.4L367.8 758.4L369.4 755.9L372.3 747.8L376 732.1L377.4 720.4L378.6 700.4L378.6 663.5L379.6 648.2L381.3 639.7L385.5 631.5L393.1 621.2L397.2 618.2L399.3 617.4L401.1 617.4L402.4 618.6L403.2 621.6L405 642.3L407.7 656.3L410.3 663.5L412.2 665.5L414.7 667L420 668.5L422.2 668.2L424.1 667L428.3 662L431.4 655.5L432.2 651.4L434.1 629.1L440.7 600.1L445.3 574.3L445.9 568.4L446.1 555.8L444.6 536.7L443.5 531.6L440.2 520.5L427.5 483.9L422.9 466.2L421.3 457.1L420.9 449.6L423.6 439.2L423.5 437.7L422.4 437.4L415.9 439.5L414.3 439.6L413.1 438.5L409.9 433.1L409 432.4L408.1 433.1L405 438.5L403.7 439.6L402 440L397.3 439.9L393.1 439L391.7 438L387.7 433L386.5 432.4L385.4 433.1L381.4 438.5L379.9 439.6L373.2 440L369.4 439L368.5 437.8L367.3 431.8L366.7 431.1L362.7 437.8L361.5 439L359.7 439.6L354.9 439.8L350.9 439L349.6 437.9L346.4 432.3L345.6 431.7L344.9 432.2L342.8 437.4L341.7 438.5L334.4 439.1L329.8 438.5L328.5 437.8L324.5 433.2L319.9 430.3Z"/>
<path d="M294.4 622.9L295.3 624L296.6 624.5L298 624.3L299.2 623.4L300.2 620L301.7 617.5L305.4 614.4L305.8 612.9L305.3 611.5L302.7 607.5L301.2 606.4L298.3 605.9L296.9 606.7L291.6 612.7L290.9 614.1L291.2 615.7ZM329.7 633.2L328.4 633L327.1 633.3L326.2 634.2L325.7 635.5L326.5 638.5L327.3 639.8L328.7 640.4L330.2 640.3L331.7 639.4L332.6 637.4L332.7 636L332.2 634.8ZM362 453.6L360.4 454L359.3 455.1L358.9 456.7L359.8 462.4L365.2 465.5L367 465.8L368.5 465L372 461.3L372.7 459.9L372.5 458.3L370.5 454.7L369.1 454.2ZM307.5 508.4L308 510.7L311.8 515.5L314.1 516.6L315.8 516.3L317.8 514.9L318.9 507.9L318.7 506.7L317.1 505L311.9 503.2L310.4 503.1L309 503.8L308.2 505.2ZM409.2 597.3L410.2 598.5L413.4 599L414.9 598.6L415.9 597.4L416.2 595.8L415.4 589.6L414.7 588.1L413.3 587.3L411.6 587.4L407.2 589.6L406.7 591L406.9 592.4ZM392.1 480.1L389.5 473.3L388.3 472.7L386.9 472.7L380.9 477.6L380.1 478.9L380.1 480.5L381.5 483.7L383.8 484.5L389.8 483.8L391.3 483.1L392.2 481.7ZM385.9 438.2L382.4 442.1L382.4 443.7L383.4 445.1L387.5 448.1L389 448.6L390.6 448.2L391.7 447L392.8 443.7L392.5 442.5L388.9 439.1L387.5 438.2ZM422.1 586.5L420.5 587L419.5 588.1L419.2 589.7L419.8 594.3L420.4 595.8L421.8 596.6L423.4 596.6L426.1 595.5L428.3 590.4L428.5 589L428 587.8L427 586.9ZM342.9 693.9L341.7 693.2L340.3 693.2L339.1 693.8L338.3 695L338.6 698.5L339.2 699.8L340.4 700.7L341.9 700.8L343.2 700.2L345 698.1L345.1 696.5ZM279.1 503.3L278.6 504.8L279 506.3L280.1 507.4L281.7 507.7L286.9 507.2L288.4 506.5L289.3 505.1L290.4 499.6L288.9 497L287.6 496.1L286 496L284.6 496.8ZM431.4 582.9L431.4 584.5L432.3 585.8L433.8 586.4L439 586.7L440.1 585.9L440.7 584.6L441.5 580.3L441.3 578.7L440.3 577.5L438.8 577L434 577.3L432.4 579.1ZM316.6 614.6L315.4 615.7L315.1 617.3L315.6 618.8L319.9 624.2L321.1 624.5L322.4 624.3L326.7 619.5L327.3 617.9L326.9 616.2L325.1 613.4L324.1 612.4L322.8 611.9ZM359.9 747.9L355.6 746.7L354.2 746.9L353.2 747.8L352.7 749.2L352.9 750.6L355.1 754.9L358.4 759.2L360.1 760.3L361.4 760.3L363.7 758.8L365.3 756.9L368.1 751.3L372.4 735.5L372.3 734L371.5 732.8L369.2 732L367.9 732L366.7 732.7L365 734.3L364.2 736L363.6 742.1L362.7 746.1L361.6 747.2ZM390.8 487.5L381.6 489L380.7 490L380.2 491.7L383.1 498.6L384.2 499.2L385.5 499.2L393.8 496.8L394.6 495.6L394.7 494.2L393.3 488.5L392.1 487.7ZM423.5 613.3L422.2 613.7L421.2 614.8L420.8 616.3L422.1 620.3L422.9 621.4L429.6 623L431 622.8L432.2 622.1L433.9 616.2L433.9 614.9L433.3 613.8L432.3 613L431 612.8ZM398 503.4L397.4 501.9L396.1 500.9L394.5 500.9L384.9 503.2L383.7 503.9L383 504.9L382.9 507.3L384.7 511.2L386.1 512.7L391.9 515.3L393.5 515.5L394.9 514.8L398.4 511.4ZM408.8 618.4L407.3 618.8L406.3 620L406.1 621.5L407.1 628.6L408.1 629.5L409.5 629.9L415.1 629.5L416.1 628.5L418.9 623.3L417.9 620L416.8 618.6L415.2 618.2ZM346.2 471.5L337.1 467.1L334.9 468.2L332.6 478.3L332.7 479.6L333.3 480.7L334.4 481.5L341.6 484.1L343.2 484.2L344.6 483.4L348 479.5L347.7 473.7L347.2 472.4ZM364.7 440.4L361 442.5L360.1 444.7L360.6 448.5L361.5 449.4L369.3 450.4L370.8 450.1L373.2 446.8L373.6 445.5L373.3 444.2L372.5 443.2L368.3 441.7L366.2 440.5ZM388.6 531.9L387.9 533.2L387.9 534.7L391.6 539.6L393 540.6L395.6 540.3L397.1 539.1L400.6 533L400.4 531.7L399.6 530.6L395.2 527.2L393.8 527.3L392.6 528ZM322.9 450.5L321 456.5L321.6 457.9L322.9 458.8L331.2 461.4L333.7 461L337.8 453.7L338 451.6L335.9 444L335 442.6L327.2 440.8L325.9 441.2L324.9 442L324.4 443.2ZM345.2 439.6L340.9 442.1L340.1 443.4L340.1 444.8L341.3 449.1L342.2 450.5L343.8 451.2L353.5 451.6L355 451.2L356.1 450.2L356.3 445.3L356 444L355.1 443.1L349.8 441.7L346.6 439.6ZM287.8 567L289.2 571.4L290.6 572.1L296.9 573.6L298.4 573.5L299.6 572.7L301.7 569.9L301.7 568.5L299.8 561.8L298.9 560.4L297.3 559.8L295.7 560.2L289.2 564L288 565.2ZM374.9 489.9L376.4 489.4L377.6 487.8L377.8 485.7L376.2 480.8L374.7 479.1L371.3 477.7L369.6 477.5L368.1 478.4L364.7 482.3L364 483.7L365.3 488.3L366.4 489.6L368 490.1ZM420.3 554.9L421 556.1L422.3 556.8L425.3 557.5L426.7 557.5L428 556.7L428.7 555.4L430.1 549.5L430 548.1L429.3 546.8L423.7 544.9L421.6 545.1L419 546.8L418.6 549.3ZM371.2 633.2L370.1 635.4L370.4 640.2L371.2 641.2L372.4 641.8L376.2 642.2L377.4 641.5L380.4 634.6L384.2 628.2L384.6 626.9L384.4 625.6L383.6 624.5L382.3 623.9L380.9 624ZM434.7 590.4L432.4 591.2L430.7 594.9L430.7 596.6L431.6 598L433.6 599.6L434.9 600.2L436.3 600.1L437.5 599.3L438.1 598L438.9 593.9L438.8 592.4L437.9 591.2ZM337.7 662.4L336.2 662L334.7 662.5L333.7 663.8L333.6 665.3L334.7 670.5L335.9 671.4L337.3 671.6L338.6 671L339.5 669.9L341 665.7L340.5 664.4ZM305.2 526.7L305.4 529.8L306.4 530.9L308 531.3L312.9 530.7L313.9 529.6L314.2 528.1L313.4 522.9L312.2 521.9L310.7 521.7L309.3 522.3L306.2 524.9ZM385.2 455L386 453.6L385.8 452.1L384.9 450.9L380.6 447.8L379.2 447.2L377.7 447.5L376.6 448.6L374.5 452.6L376.3 457.4L377.1 458.5L378.3 459L380.8 459.2ZM302.3 575.5L301.7 576.7L301.7 578L302.6 581.8L303.4 583.2L304.8 583.9L311 585L313.4 584.3L314.3 582L314.1 575.5L313.7 574.1L312.8 573.1L311.4 572.7L305.2 572.6ZM329.6 529L330 530.5L331.2 531.6L332.7 531.8L338.2 528.2L339.1 527.1L339.3 525.6L338.7 524.2L336 520.9L334.6 519.9L332.9 520L330.2 521.5L329.7 523.1ZM327.7 624.2L327.1 625.8L327.5 627.4L328.7 628.6L331.3 629.3L332.7 628.8L333.6 627.6L333.8 626.2L333.2 624.8L331.1 622.9L329.4 622.9ZM370.9 671.3L369.5 671.6L368.5 672.5L368 673.9L367 693L367.3 694.4L368.3 695.5L372.9 696L374.4 695.7L375.4 694.7L375.8 693.2L375.6 674.1L375.3 672.8L374.3 671.8ZM309.8 495.9L310.6 498.3L311.6 499L319.6 501.9L320.9 502.1L323.4 500.8L324.4 499.6L324.6 498.1L322.8 487.4L321.8 486.5L320.5 486.2L319.2 486.6L311.7 491.1L310.3 493ZM402.3 508.9L402.9 510.4L404.3 511.3L411.2 513L415.8 509.7L416.6 508.7L416.9 507.3L412.6 500.2L411.2 499.1L409.4 499L402.7 501.2L401.8 503.5ZM298.6 585.8L299.1 583.4L298.1 579.3L297.3 578L296 577.3L289.7 575.8L288.1 575.9L285 579.2L284.4 580.6L284.6 582.1L288 589.8L289.7 591.3L293.1 591.9L294.5 591ZM393 456L391.8 455.5L390.4 455.6L389.3 456.3L385.3 460.5L384.6 462.1L384.9 463.7L387 467.5L388.7 468.9L390.7 469.1L391.8 468.6L395.3 465.6L395.8 459.6L395.5 458.3ZM318.9 537.4L319.4 542.8L320.4 543.8L321.8 544.2L323.2 543.9L327.1 538.6L327.7 537L327.4 535.5L326.2 534.4L324.6 534.1L320.1 535L319.2 536ZM400.1 583.2L400.9 585.6L402.1 586.3L404 586.3L411.7 583.3L413 582.1L413.4 580.4L412.5 575.8L411.4 574.9L409.9 574.7L402 576L400.8 578.1ZM413.8 471L412.1 471.8L411.1 473.4L410 478.7L410 480L410.7 481.1L414.6 485.5L415.9 486.3L417.5 486.3L423.1 484.3L423.8 483L423.8 481.6L420.8 471.6L419.8 470.8L418.5 470.6ZM417.2 580.2L417.7 581.5L418.7 582.4L419.9 582.7L426.5 582.5L428 580.7L429.1 575.3L428.4 574.1L427.2 573.3L425.8 573.3L419.1 574.8L417.9 575.4L417.2 576.5ZM362 493.1L362.2 490.8L360.4 486.1L359.7 485L358.5 484.4L352.4 482.8L351 482.9L349.7 483.6L346.1 487.6L346.6 491.3L356.2 497.6L357.6 498L359 497.6ZM291.8 522.5L291.1 524.1L291.4 525.7L293.3 528.5L298.1 529.1L299.5 528.8L300.5 527.9L301 526.6L300.8 525.3L296.5 521.3L295.2 520.7L293.8 520.8ZM423.6 641L422.1 641.4L421 642.5L419.2 646L418.8 647.3L419.2 648.7L425.2 652.6L426.5 653L427.9 652.7L428.9 651.8L429.4 650.5L429.9 644.2L429.6 642.8L428.7 641.7L427.3 641.3ZM414.9 541.3L415.9 542.3L417.3 542.7L419 542.2L420.1 541.2L420.5 539.8L420.5 532.8L419.5 530.7L414.8 529.1L413.4 529.1L411.5 530.4L410.5 532.6ZM280 532.7L284 537L285.4 537.2L286.7 536.7L289.2 532.1L289.2 529.6L287.8 527L286.8 525.9L285.4 525.5L283.4 525.7L282.4 526.4L279.5 530.2L279.4 531.5ZM396.1 521.5L397.1 523.4L404.8 529.6L406.1 529.6L407.2 529L410.6 525.7L410.1 518.8L409.5 517.3L408.1 516.4L401.2 514.8L396.9 518.1L396.2 519.2ZM427 508.5L426 509.4L425.5 510.7L425.7 512.1L429.8 522.5L430.7 523.6L432 524.2L435.4 524.4L436.7 523.6L437.3 522.3L437.2 520.8L433.2 509L432.3 507.7L430.8 507.1ZM305.2 538.6L305.8 540.9L307.5 543.2L308.9 544.1L310.6 544.1L313.2 543.3L314.7 542.3L315.2 540.5L314.7 536.3L313.6 535.3L312.2 534.9L306.9 535.4L306 536.2ZM377.9 524L377.3 525.4L377.6 527L378.7 528.1L381.9 530.2L384.4 530.4L391.5 523.8L392.1 522.7L392.3 521.2L391.8 519.8L390.6 518.8L385 516.6L382.9 517.7ZM413.4 454L411.9 454.6L411.1 455.9L411.1 457.5L413 464.9L414.7 466.8L416.9 466.9L418.3 466.4L419.3 465.1L418.3 456.2L417.7 454.8L416.5 453.9ZM421.1 635.9L422 636.8L423.3 637.2L427.5 637.5L429 637.2L430 636.2L431.1 629.8L430.9 628.4L430 627.2L424.2 625.9L422.5 626.1L421.3 627.2L419.1 631.8ZM292.3 534.4L290.5 539L290.9 540.2L291.8 541.2L293 541.7L294.3 541.5L301 538.7L301.8 536.3L301.7 534.7L300.7 533.5L299.2 533L295 532.8L293.4 533.2ZM351.2 687.8L350.8 686.5L349.9 685.6L348.6 685.2L347.3 685.4L345.3 687.3L344.7 688.5L344.8 689.9L346.6 692.1L347.7 692.8L349.1 692.8L350.3 692.3L351.1 691.2ZM333.6 500.9L335.3 500.9L336.7 499.9L341.9 492.9L342.3 489.9L341.7 488.6L340.5 487.7L330.2 484.2L328.5 484.9L327.3 486.1L327.1 487.7L328.4 497.6L329 499L330.3 499.9ZM270 525.6L270.2 527.3L271.3 528.5L273.9 528.9L275.9 528L278.8 524.7L279.5 523.2L279.2 521.5L277.1 517.8L276 516.6L274.4 516.3L272.9 516.9L272 518.3ZM314.5 598.8L307.2 605L306.9 606.4L307.4 607.7L309.6 611.1L310.6 612L311.9 612.4L319.6 608.9L320.7 608L321.2 606.7L318.9 600.1L318.2 599L317 598.4L315.7 598.3ZM273.7 607.6L274.9 609.7L276.1 610.1L287.3 611.3L294.1 604.2L294.8 602.7L294.6 601.2L292.3 596.5L287.4 594.9L274.8 602.4L273.7 603.5ZM318 528.1L318.5 529.5L319.7 530.5L321.2 530.7L324.6 529.9L325.5 529L325.8 527.7L325.9 522.9L325.5 521.4L324.3 520.3L321.5 519L320 518.8L318.7 519.3L317.8 520.4L317.5 521.8ZM331 644L329.9 644.8L329.3 646L330.5 651.8L331.3 653.1L332.7 653.8L334.3 653.7L337.2 650.3L337.7 649L337.5 647.7L334.3 644.4L332.9 643.7ZM297.7 553.8L298.7 555L300.2 555.4L303.5 553.9L304.7 552.2L305.6 547.4L303.6 544.2L302.1 543.3L300.4 543.3L296.7 544.7L295.4 545.6L294.9 547L295.1 548.5ZM277.5 614.2L275.9 614.4L274.7 615.5L274.4 617.1L274.4 630.4L274.8 632L276 633.1L277.7 633.3L290.2 631.1L291.7 630.4L292.5 628.9L292.3 627.2L287.5 616.8L286.6 615.7ZM342.2 634.5L339.8 633.8L338.1 634.7L337.1 636L336.2 638.7L336.1 640.3L337 641.7L340.6 644.9L341.8 645.5L343.2 645.5L344.4 644.9L345.1 643.7L345.2 642.4L344.7 637.8L343.8 636ZM415.2 551.3L414.4 550L413.1 549.3L411.6 549.4L408.7 550.7L406.5 555L406.3 556.3L406.7 557.6L410.9 560.4L412.6 560.7L414.1 560L416.5 557.2L416.5 555.7ZM410.1 633.7L408.7 634.1L407.6 635.2L407.3 636.7L407.9 641.8L408.6 645.9L409.3 647.3L410.6 648.1L412.2 648.1L414.6 646.4L417.8 640.4L418.1 639L417.7 637.7L415.1 634.1ZM343.5 649.6L341.5 650.8L338.6 655L338 656.4L338.4 657.9L339.4 659L343.4 661.3L345.5 661.6L346.9 660.9L347.6 659.7L346.7 651.9L346.1 650.6L345 649.8ZM342.9 523.2L344.4 524.2L349 523.1L350.2 522.4L350.9 521.2L351 519.9L350 514.6L349.2 513.1L347.7 512.4L340.7 511.4L338.9 513.1L337.9 516.6L338.5 518ZM271.2 565.5L270 566.1L269.3 567.2L269.1 568.5L270.6 577.1L271.6 578L272.9 578.3L279.4 578.3L281.6 577.3L284.9 572.7L283.4 565.3L280.6 563.5ZM354 729.6L353.4 728.1L352.2 727.2L350.6 727L346.7 728.3L345.9 729.6L345.9 731.1L348.7 739.5L349.4 740.7L350.7 741.3L352.1 741.3L353.3 740.6L354.5 739ZM425.8 529.6L424.7 530.6L424.3 532L424.3 539L424.9 540.7L426.3 541.7L429.4 542.1L430.7 541.2L431.3 539.8L432.4 531L432.2 529.5L431.3 528.4L429.8 527.9ZM304 587.6L302.5 587.7L301.3 588.6L297.2 593.7L296.6 595.1L298.4 600.5L299.1 601.4L301.6 602.5L303 602.6L304.2 602L314.3 594.2L315.2 592.9L315.3 591.3L314.5 590L313.1 589.3ZM416.3 651.7L413.9 651.5L411.2 652.7L410.5 653.9L410.5 655.3L411.6 659.3L412.5 661.4L414.3 663.4L417.9 665.2L420.6 665.5L422.5 664.5L425.6 660.9L426.1 659.5L425.8 657.9L424.7 656.8ZM276.3 637.4L274.3 638.8L274 640L274.1 647.5L274.6 650.2L276.4 654.4L278.9 657.2L284.5 657.8L288.6 657L293 653.9L296.9 649.1L298 646.4L298.6 643L298.9 637L298.5 635.4L297.2 634.4L295.5 634.1ZM399.5 443L398 443.4L396.9 444.6L394.3 450.9L395.4 453.1L398.2 454.8L404.1 453.3L405.4 452.4L406.1 451.1L405.9 449.6L404.1 444.7L403 443.4ZM417.9 490.1L416.1 491.8L414.7 496L420.2 504.9L421.2 505.8L422.5 506.2L423.8 505.9L429.7 502.7L430.2 501.4L430 500.1L426.5 490.4L425.8 489.2L424.5 488.6L423.1 488.6ZM413.8 442.4L411.2 441.4L409.8 441.7L408.7 442.6L408.2 443.8L408.3 445.2L410.3 449.5L412.6 450.3L415.9 449.8L417.5 449L418.6 446L418.7 444.7L418.1 443.5L417.1 442.7ZM398.3 592L394.9 601.5L395.4 602.8L399.2 605L400.9 605.2L402.4 604.4L405 601.8L405.8 600.3L405.6 598.6L402 591.7L400.8 591.2L399.5 591.3ZM404.4 479.6L405.7 478.8L406.4 477.4L406.9 474.9L406.9 473.6L406.2 472.4L399.2 469.4L397.8 469.2L395 470.9L394.1 472.3L394.1 474L396.6 480.4L397.9 481L399.3 481ZM271.2 532.8L269.9 533.2L268.9 534.1L268.5 535.4L268.1 541.8L268.4 543.2L269.3 544.2L270.6 544.7L278.2 545.6L280.5 544.9L281.9 543.1L282 541.7L281.4 540.4L275 533ZM369.4 699.7L368 700L367 701L366.5 702.4L365.2 723.6L365.4 724.8L367.5 727.3L370.5 728.4L372 728.3L373.3 727.3L373.9 725.9L375.6 702.8L375.3 701.3L374.3 700.3ZM302.5 478.4L301.8 479.7L301.8 481.2L302.6 482.5L307.5 486.8L309.1 487.5L310.8 487.1L316.2 483.5L316.6 482.1L316.2 480.7L312.3 473.8L310.2 472.4L307.9 473.2ZM404.8 561.3L403.3 561L401.9 561.4L400.9 562.6L401 569L401.5 570.4L402.7 571.4L404.2 571.6L410 570.5L410.8 569.5L411.1 568.1L410.7 565ZM274.2 582.1L272.7 582.5L271.7 583.7L271.4 585.2L272.5 594.6L273 595.9L274 596.8L275.4 597.1L282.7 593L283.6 592.1L284 590.8L281.2 583.8L280.2 582.6L278.6 582.1ZM440.5 563.7L432.7 563.5L431.6 564.3L431.1 565.6L430.6 569.1L431.7 572L433.9 573.2L441.3 572.9L442.3 572L442.8 570.7L443.1 566.6L442.8 565.2L441.8 564.1ZM405.4 483.2L398.2 485.6L397.5 486.8L397.4 488.1L398.7 494.9L399.4 496.3L400.7 497.1L402.2 497.1L410.6 494.4L412.3 491L412.5 489.4L411.8 488L408.2 484L406.9 483.2ZM426 599.8L421.4 601.5L420.7 602.8L420.7 604.2L421.5 607.3L423.2 609.2L431.3 609L432.5 608.6L433.5 607.6L433.9 606.4L433.7 605.1L428.5 600.4L427.3 599.8ZM350 673L348.9 668.1L347.8 667.3L346.4 667.1L345 667.6L343.1 671.2L343.2 673.6L345.6 675.7L347.1 676.2L348.7 675.8L349.7 674.6ZM302.6 513.2L299.1 514.9L298.5 516.2L298.7 517.7L299.5 518.8L302.9 521.3L304.2 521.3L306.7 519.6L307.5 518.4L307.7 517L305.8 514.1L304.3 513.1ZM322.2 513.1L322.5 514.8L323.8 515.9L326.9 517.3L329 517.4L332.7 516L334.3 514.4L336 510L336 507.8L334.7 505.5L333.6 504.9L328.4 503.3L326.1 503.6L323.2 505.8ZM350.4 713.8L343.9 713.6L342.3 715.5L343.1 720.7L344.1 723.1L345.3 723.9L346.7 724L352.2 722.5L353 721.4L353.3 720.1L352.6 715.1L351.7 714.2ZM368.4 521.5L368.8 523.2L370.2 524.3L372 524.4L373.5 523.4L380.4 514.7L381 513.3L380.1 510.3L378.9 509L377.1 508.6L371.3 509.5L369.2 510.9ZM283.1 547.7L282.2 549.9L282.7 558.6L283.2 559.9L284.2 560.9L285.6 561.2L292.4 557.7L293.4 556.7L293.8 555.4L290.2 547L288.8 545.7L286.4 545.1ZM347.6 701.5L343 705.7L342.8 707L343.2 708.2L344.1 709.2L349.3 709.9L350.9 709.6L352 708.5L352.4 706.9L352.1 703.4L351.6 702L350.5 701L349 700.8ZM416.9 604.9L416 603.4L414.3 602.8L410.7 602.8L408.7 603.6L403.9 608.8L403.9 610.2L405 613.6L407.3 614.6L415.5 614.4L417 613.9L418.2 612.3L418.4 610.3ZM415.8 563.6L414.8 565.8L414.9 568.4L415.5 570L416.7 571L418.3 571.1L424.9 569.6L426.3 568.8L427 567.3L427.3 563.2L426.5 562L425.3 561.4L419.8 560.4ZM354.3 504.8L355 503.4L354.8 501.8L353.8 500.6L345.9 496L344.6 496.3L343.5 497.2L339.4 502.7L338.9 504.1L339.1 505.5L340 506.8L349 508.7L350.4 508.6L351.5 507.9ZM414.9 515.3L414.1 516.5L413.9 517.8L414.4 523.3L415.1 524.8L416.5 525.7L421.1 526.9L423.2 526.7L425.4 525.1L425.9 523.8L425.7 522.5L421.6 513L419.2 512.3ZM304.5 504.5L304.4 502.9L303.4 501.6L301.8 501.1L295.3 501.3L293.7 503.1L292.7 508.3L293.8 510.3L295.3 511.3L297.1 511.2L303.2 508.5ZM405.2 467.6L406.7 467.8L408.1 467.1L408.9 465.8L408.9 464.3L407.6 459.2L406.8 457.9L405.5 457.2L404.1 457.3L401.5 458L400.1 459L399.5 460.6L399.4 463.4L399.9 465L401.2 466.1ZM314.7 556.2L316.1 556.4L317.5 555.8L319.9 551.1L319.8 548.6L316.8 546.5L311.1 548L309.9 548.7L308.9 551.1L308.9 552.4L309.4 553.6ZM373.1 645.8L371.5 646L370.2 646.9L369.7 648.4L368.6 664.5L368.9 665.9L369.9 667L371.3 667.5L374.2 667.2L375.3 666.2L375.7 664.8L376.6 649.1L376.4 647.8L375.6 646.7ZM268.1 559L268.7 560.5L269.9 561.4L271.5 561.5L277.8 559.7L278.6 558.7L278.8 557.4L278.1 550.6L276 549.2L271 548.6L269.5 548.8L268.3 549.9L267.9 551.4ZM432.4 556.1L432.5 557.6L433.5 558.9L435 559.5L440.2 559.8L441.7 559.5L442.8 558.5L443.2 557L442.6 549.3L441.6 548.3L440.3 547.9L435.4 548L433.8 550ZM366.2 471.4L364.7 469.5L359.6 467L358 466.7L356.5 467.3L351.6 471.9L351.8 476.9L352.5 478.4L353.9 479.3L359 480.6L360.5 480.6L361.8 479.8L365.9 475.2L366.5 474ZM435 540.9L435.3 542.4L436.2 543.6L437.7 544L440.9 543.7L442 542.5L442.2 541L441.8 537.3L440.5 533.5L439.2 532.8L437.6 532.8L436.4 533.7L435.8 535.1ZM355.2 457.9L354.8 456.6L353.9 455.7L352.6 455.4L343.3 454.9L341.7 455.3L340.6 456.4L338.4 461.5L338.9 462.9L339.9 463.9L347.4 467.8L349 468.1L350.5 467.5L355.4 462.9ZM362.9 499.4L362.5 500.7L362.8 502L367.8 506L377.4 504.8L378.9 504L379.7 502.6L379.6 500.9L377.3 495.4L376.2 494.1L374.6 493.7L367.5 493.9L366.1 494.3ZM382.8 467.9L380.2 463.6L377.7 462.8L376.3 462.8L375.1 463.6L370 469.5L369.9 470.8L370.8 473L375.4 475.3L376.9 475.5L378.3 474.8L383 470.3ZM314.3 466.3L313.8 467.8L314.1 469.3L321.5 481.9L323.4 482.5L325.4 482.3L328.1 480.5L330.8 467.8L330.7 466.5L330 465.3L319.9 461.8L318.1 461.9L316.7 462.9ZM392.2 607.3L386.4 616.8L386.7 618.2L387.5 619.3L388.7 619.8L390 619.8L395.7 615.7L399.6 613.9L400.2 612.7L400.1 610.7L398.6 608.9L394.9 607.2L393.5 606.9ZM397.4 549.1L398.9 553.5L400 554.2L401.4 554.3L402.6 553.7L403.9 551.5L403.9 549.1L401.9 547.2L400.5 546.7L399.1 546.8L397.9 547.7ZM307.6 557.2L306.2 557L304.9 557.4L303.5 559L303.5 560.8L305.2 566.7L306.1 568.1L307.7 568.7L313.4 568.7L314.4 567.8L315 566.6L315.6 563.3L315.7 562L315.1 560.9ZM354.2 510.6L353.6 511.7L353.5 513L355.3 520.7L357.4 521.8L361.4 522.1L362.9 521.9L364.1 521L364.7 519.5L365.2 510.6L364.9 509.3L364.1 508.2L361.6 506.3L360.4 505.7L359 505.9ZM401.6 539L401.2 540.3L401.4 541.6L406.3 545.9L407.6 546.4L409 546.3L410.8 545.2L411.4 543.7L411.1 542.1L408 536.6L407.1 535.6L405.7 535.2L404.3 535.5ZM290.4 512L289.3 511.1L287.9 510.9L282.4 511.4L281.1 511.9L280.2 512.9L279.9 514.2L280.2 515.5L283.8 521.3L285.2 521.7L287.2 521.5L291.4 517.1L292.1 514.8ZM292.9 496.1L295.1 497.2L304.6 497L305.6 496.2L306.2 495L306.4 491.4L299.6 484.9L298.4 484.3L297 484.3L294.9 485.9L290.5 491L290.4 492.3L290.9 493.5ZM336.4 684.8L337.1 686.2L338.4 687.1L340 687L341.3 686.2L344 682.9L344.7 681.5L344.5 680L343.5 678.8L339.4 676.2L336.6 677L335.8 678.1L335.6 679.5Z" fill="#fff"/>
<path d="M271.2 585.6h0M350 513h0M403.2 484.2h0M412.6 590.6h0M392.2 450.2h0M331.6 623h0M338.3 479.8h0M382.4 623.7h0M379 445.1h0M322.8 491.4h0M315.9 567.2h0M332.9 443.2h0M370 748.9h0M411.6 644.2h0M285.3 618.8h0M376.2 477.9h0M306.5 527.9h0M372.7 517.4h0M402.2 530.9h0M425.1 612.1h0M393.6 475.9h0M340.1 484.7h0M423.4 475.8h0M358.6 475.6h0M308 554.3h0M398 490.7h0M398.6 562.4h0M425.3 590.7h0M294.9 526.4h0M287.1 652.9h0M396.6 485.4h0M337.1 451.2h0M298.1 599.9h0M431 629.6h0M419.5 502.3h0M414 505.5h0M286.7 534.6h0M412.8 535h0M391.5 447.2h0M375.6 507.9h0M396.2 462.8h0M361 488h0M400.5 511.3h0M415 593.7h0M426.5 510.5h0M335.2 467.4h0M296 641h0M277.2 618.9h0M372.5 645.5h0M281 564.9h0M319 543h0M275 570.7h0M279.1 521.1h0M403.2 550.9h0M356.9 448.8h0M336.3 689.3h0M296.3 583h0M373.3 476.5h0M293.2 603.1h0M320 486.5h0M431.6 530.4h0M290.7 547.6h0M398.8 518.1h0M310 518.6h0M423 576.7h0M375.6 504.7h0M417.1 471.2h0M427.6 585.6h0M293.8 503h0M329.2 457.5h0M290.8 594.1h0M368.7 733.6h0M318.6 467h0M378.7 643.6h0M284.4 640.8h0M426.6 599.1h0M362.2 459h0M344.3 521.5h0M434.2 585.7h0M290 498.5h0M282 579.2h0M284.8 623.7h0M311.1 549.4h0M423.1 475.3h0M435 534.8h0M341.4 709h0M287.4 498.4h0M381.5 507.2h0M383.6 624h0M399.2 598.3h0M397.7 554.8h0M372.9 682.4h0M403.2 466.5h0M277.8 544h0M283.9 553.7h0M335.6 486.3h0M345.4 494.5h0M324.6 514.2h0M300.4 608.1h0M416.5 552.5h0M415.4 539.4h0M362.2 487.8h0M278.7 609.3h0M380 444.7h0M345.3 481.4h0M347.1 720.2h0M276.4 506.9h0M317.1 518.9h0M413.2 597.8h0M346.8 649h0M344.6 722.6h0M320.8 552.3h0M297.4 579.1h0M397.5 445h0M280.5 639h0M297 567.7h0M314.9 605.6h0M310.3 553.3h0M407.6 529.1h0M306.9 499.3h0M353.3 720.2h0M320.1 616.8h0M321.9 523.8h0M381.5 475.6h0M376 653.4h0M377.1 451.5h0M349.8 742.7h0M414.4 452.7h0M312.4 551.9h0M292.6 535.5h0M267.1 533h0M349.4 732.7h0M435.8 588.8h0M309.7 571.4h0M418.7 591.4h0M425.5 622.9h0M441.6 538.3h0M313.8 567.9h0M274.3 583.5h0M330.2 530h0M391.6 503.9h0M383.5 518.1h0M307.2 613.1h0M374.8 732.8h0M412.2 539.5h0M418.1 479.7h0M378.9 447.1h0M266.2 555.3h0M387 536.3h0M426.2 633.1h0M350.2 521h0M302.5 504.6h0M318.1 515.7h0M344.6 456.1h0M404.3 519.7h0M424.5 585.1h0M342.8 441.6h0M314.1 569.6h0M332.3 624.4h0M354.8 742.7h0M310.8 473.5h0M415.3 646.8h0M396.9 519.9h0M344.1 696.2h0M407.4 508.5h0M431.7 632.8h0M356.9 484.5h0M427 629.2h0M312.6 594.1h0M431.5 647h0M426.1 594.2h0M324.5 611.5h0M325 472.9h0M340.5 510.9h0M303.7 563h0M402.1 543.5h0M272.6 524.8h0M422 488.2h0M283.4 498.5h0M302 477.1h0M344.3 488h0M431.6 620.5h0M419.4 626.6h0M400.6 607.7h0M313.7 566h0M421.6 641.7h0M308.5 489.3h0M267.3 530.3h0M435.7 535.7h0M377.3 496.7h0M356.8 495.3h0M304 560.2h0M299.9 536.3h0M414.9 588.3h0M349 510h0M370.2 736.8h0M376.5 687.4h0M342.6 492.9h0M352.6 724.4h0M290.8 626.5h0M339.9 703.3h0M311.6 543.9h0M392.1 618.9h0M275.4 545.7h0M338.9 474.4h0M429.9 650.8h0M278.3 544.3h0M331.6 450.2h0M306.4 500.4h0M293.9 612.4h0M326.8 635h0M378.2 637.6h0M423.2 536h0M275.3 619h0M413.9 505.4h0M339.8 479.8h0M328.8 440.1h0M436.8 582.7h0M298.3 576.1h0M277.5 538.7h0M430 526.9h0M422.6 598.5h0M290.1 542.2h0M436.9 538.2h0M290.9 547.3h0M334.4 678.7h0M283 639.9h0M286.8 643.5h0M379 528.7h0M374.4 676.4h0M441.4 564.9h0M431.8 583.6h0M357.1 442.8h0M291.1 541.5h0M438.9 544.4h0M275.7 570.9h0M406.3 558.2h0M362.2 519.7h0M420.2 517.4h0M330.8 510.9h0M368.4 502.4h0M303.1 600.4h0M416 592.3h0M351.4 485.6h0M337.3 630.7h0M398 555.3h0M312.5 475.6h0M430.7 626h0M271.5 580.3h0M406 493.7h0M298.7 487.3h0M286 600.8h0M384.6 473.1h0M433.3 577.1h0M284.8 644.7h0M423.5 644.2h0M405.9 546h0M286.2 601.7h0M366.8 503.4h0M370.5 672.3h0M368.8 652.4h0M280.7 526h0M340.1 687.6h0M415.8 545.8h0M433.9 573.3h0M364.7 732.6h0M434.7 576.3h0M417.6 477.9h0M426.4 642.3h0M345.9 446.3h0M314.3 577.1h0M435.6 570.4h0M360.6 455.4h0M322.2 487.3h0M303.8 570h0M327.3 639.4h0M396.2 516.2h0M277.8 643.2h0M433.6 601.6h0M403.3 476.9h0M352.2 467.7h0M415.4 477.1h0M346.7 722.6h0M304.8 545.1h0M370.4 714.2h0M325.9 538.6h0M342 678.6h0M330.5 633.7h0M342.6 526.4h0M375 676.9h0M392 519.8h0M282.6 545h0M398.5 523.4h0M423 629.3h0M314.5 479.8h0M377.2 692.3h0M408.9 640h0M333.1 512.5h0M392.9 453.6h0M274.8 571.1h0M379.6 489h0M316.9 496.2h0M370.3 460.6h0M426.2 562.2h0M399.7 445.3h0M373 444.9h0M304.4 501.2h0M271.9 603.9h0M379.1 524.5h0M396.8 502.9h0M277.5 643.2h0M430.3 588.6h0M372.9 691.2h0M372.4 730.2h0M372.6 517.4h0M372.5 670.8h0M340.8 499.6h0M426.3 485.1h0M299.5 507.5h0M376.2 663.6h0M297 605.9h0M341.3 657.6h0M425 509.1h0M310 575.7h0M322.3 530.4h0M379.6 630.8h0M399.3 610.3h0M267.7 539.5h0M336.3 525.9h0M400.4 578.6h0M432.8 561.6h0M347.5 648.6h0M373.5 489h0M389.6 502.3h0M406.3 613.5h0M330.6 524.1h0M333.6 529.6h0M279.7 648h0M276.4 546.9h0M331 467.6h0M380.3 531.1h0M370.3 655.1h0M276.4 633.3h0M433.8 559h0M275.3 580.8h0M271.8 586.8h0M363.3 471.6h0M330.7 445.3h0M305.6 541.7h0M351 474.6h0M374.5 463.9h0M283.2 637.6h0M286.7 630.8h0M281.8 509.8h0M418.7 635.5h0M401.9 551.4h0M375.8 520.9h0M289 504.1h0M408.4 646h0M373.9 724.4h0M403 590.9h0M399.5 543.5h0M350.6 716.9h0M288.5 618.1h0M412.8 492.9h0M352.9 465.6h0M302.1 573.6h0M399 452.1h0M299.3 616.7h0M418.3 504.7h0" fill="none" stroke="#231f20" stroke-width="1.1" stroke-linecap="round"/><path d="M376.6 473.3h0M303.5 502.7h0M426.1 530.3h0M326.5 534h0M282.3 544.2h0M372.4 705.2h0M271.8 594.9h0M285.1 575.3h0M281.9 521.5h0M316.3 592.3h0M328.3 644.8h0M433.9 589.5h0M332.2 478.4h0M440.2 557.2h0M317.3 589.4h0M406.1 512.7h0M399.2 470.4h0M272.5 514.9h0M352.3 733.5h0M418.6 496.4h0M411.4 453.9h0M407.8 651.2h0M292.8 633.7h0M285.3 557h0M369 677.3h0M293 640.6h0M372.4 510.3h0M308.1 541.7h0M335.1 476.5h0M414.9 646h0M410.1 574.9h0M418.5 602.8h0M350.2 726.2h0M423.7 481.7h0M331.2 534.6h0M295.2 511h0M339.5 446.2h0M364.2 759.3h0M427 594.1h0M301.8 526.1h0M332.9 463.9h0M400.8 615.6h0M426.5 648.1h0M402.8 616h0M372.8 465.6h0M411.9 570.3h0M337.8 478.7h0M408.8 538.7h0M299.1 560.2h0M370 683.1h0M394 533h0M394.3 455.1h0M335.9 490.3h0M429 634.6h0M320.7 520h0M403.3 505.7h0M428.1 531.5h0M293.2 635.4h0M334.4 527.6h0M407.3 622.1h0M417.9 603.4h0M282.4 549.2h0M281.2 523.8h0M379.9 443.2h0M385.4 472.1h0M299.1 573.5h0M313.1 612h0M397 475.5h0M276 597.2h0M272.8 559h0M303.1 581.7h0M327.3 478.9h0M413.6 595.1h0M371.5 470.2h0M401.1 517h0M401.8 602.2h0M342.1 637.3h0M382.5 489.2h0M425.4 519h0M334.8 642.2h0M284.6 569.2h0M403.7 469.3h0M411.3 606.6h0M345.4 735.4h0M326.2 627.4h0M397.1 598.7h0M408.6 484.1h0M416 445.6h0M277 517.6h0M418.4 635.9h0M281.9 504.3h0M408.1 569.2h0M282.9 632h0M330.9 478.9h0M292.6 572.3h0M364.5 748.8h0M401.6 589.6h0M409.9 580.9h0M413.4 507.4h0M405.5 533.9h0M387.4 472.2h0M278.7 654.8h0M283.1 545.9h0M327.3 500.5h0M417.5 620.1h0M272.1 582.6h0M294.9 541.4h0M376.9 712.2h0M297.7 588.6h0M348 523.4h0M432.9 564.5h0M344.3 634.7h0M384 512h0M326.6 634.1h0M274.1 596.9h0M321.8 513.4h0M267.8 532.3h0M429.3 616h0M370.7 506.9h0M426.3 577.8h0M375.8 446h0M401.1 506.4h0M443.6 538.6h0M292.2 592.6h0M376.2 662.9h0M383.8 617.5h0M329.4 514.1h0M359.8 520.4h0M284.8 576.9h0M422.5 536.4h0M426.4 571.9h0M331.7 480.1h0M354.3 500.7h0M275 572.4h0M421 591.3h0M424.7 529.8h0M279.1 523.9h0M388 444.2h0M283 496.3h0M354.2 487.8h0M300.6 569.4h0M370 644.7h0M375.3 666.6h0M369.2 469.3h0M328.6 474h0M402.8 559.6h0M279.1 616.8h0M407.4 622.3h0M333.4 469h0M349 500.9h0M299 574.3h0M295.9 514h0M326 486.2h0M432.5 506.7h0M362.9 517h0M401.7 553.2h0M407.5 583.8h0M353.5 744h0M315.8 545.3h0M336.2 452.8h0M324.9 510.3h0M338.8 639.2h0M423.3 554.8h0M292 657h0M398.3 554.3h0M355.5 456h0M420 640.4h0M425.1 513.7h0M408.7 561.1h0M369.4 506h0M319.2 488.2h0M421.8 571.7h0M327.3 481.6h0M347.1 645.4h0M406.3 599.5h0M355.3 748.1h0M288.4 506h0M431.7 605.8h0M353.5 730.8h0M301.3 593.9h0M313.7 499.1h0M406.2 617.9h0M390.4 522.3h0M341.2 471.2h0M287.1 513.1h0M421.1 545.5h0M386.1 520.9h0M370 522.6h0M380.4 496.3h0M348.4 684.9h0M301 481.3h0M303.5 509.3h0M372.5 664.4h0M272.8 623.5h0M300.8 557.4h0M337.6 493.8h0M397.1 528.2h0M313.4 514.4h0M317.5 609.8h0M433.4 620.3h0M316.2 562.9h0M349.5 486.9h0M319.1 457h0M424.7 600h0M439.5 566.3h0M271.5 584.4h0M354 475.1h0M354.7 510.6h0M278.5 530.5h0M362.9 506.9h0M355.8 450.6h0M357.8 489.7h0M351.4 497.7h0M367.5 696.8h0M427.9 517h0M422.9 506.7h0M366.5 493.7h0M366.1 445.2h0M369.6 666.5h0M289.6 634.2h0M435.9 534.1h0M408.1 578.4h0M385.7 623h0M362.4 516.9h0M376.4 496.5h0M363.4 753.8h0M292.7 503.7h0M415.3 623.2h0M423.6 505h0M399.8 444h0M392.8 453.9h0M291.5 599.3h0M345.4 643.4h0M374 631.6h0M279.6 529.7h0M296.7 636.9h0M401.7 571.2h0M357.5 514.7h0M420.7 463.5h0M415.8 625.6h0M302.5 538h0M290.3 498.1h0M341.9 635.9h0M362.9 749.4h0M422.9 541.4h0M380.4 502.3h0M429.3 609h0M425.8 654.4h0M381.1 483.4h0M322.6 604.6h0M286.2 553.4h0M378.1 630.2h0M374.9 500.4h0M280.5 543h0M408.7 509.2h0M423.9 641.8h0M354.7 482.7h0M427.5 588.1h0M394.9 453.2h0M362.9 495.9h0M317.5 562.1h0M276.9 626.8h0M284.2 541.8h0M377.4 659.6h0M317.3 489.7h0M442.7 577h0M417.3 472.6h0M405.3 477.5h0M417.7 609.8h0M347.9 445.5h0M391.1 443.3h0M280.7 644.2h0M335.9 440.5h0M301 554.5h0M348.1 504.8h0M286.7 530.8h0M374 638h0M349.7 668.1h0M397.5 469.7h0M362.9 519.7h0M355.8 748.2h0M282.5 521.5h0M320.8 494.8h0M428.6 516.3h0M379.3 456.3h0M389.4 519.8h0M369.1 670.7h0M424.4 596.8h0M324.7 484.1h0M425.2 566h0M399.7 492.1h0M412.6 482.2h0M342.5 669.1h0M394.6 477.7h0M362.8 732h0M278.3 648.8h0M343.5 504.3h0M422.4 597h0M426 526.1h0M357.8 468.4h0M406.7 442.2h0M397.4 588.4h0M376.7 695.1h0M346.8 509.1h0M321.6 534.9h0M272.9 544.2h0M371.2 485.9h0M371.5 681.7h0M426.8 606.2h0M353.7 498.9h0M358 444.7h0M363.6 446.1h0M321.3 455.3h0M421.3 534.5h0M422.4 503.3h0M399.6 578.8h0M332 531.1h0M322 482.1h0M406.5 540.8h0M275.3 612.6h0M370.8 718.4h0M308.5 474.7h0M407.1 464h0M308.3 477.3h0M373.9 451.3h0M395.3 525h0M444 544.1h0M402.1 586.3h0M391.1 480.5h0M317.6 611.2h0M367.5 738.3h0M284.5 599.1h0M398.3 512.3h0M379.5 471.6h0M320.8 611.2h0M328.9 637.4h0M430.2 639.2h0M295.6 525.4h0M311.3 519h0M294.4 590.1h0M292.3 600.4h0M308.1 606h0M438.9 552.7h0M370.8 670.5h0M346.9 720.3h0M391 488.3h0M299.6 628.1h0M377.7 501.1h0M330.5 629h0M289.9 600.2h0M396.5 595.6h0M378.6 467h0M306.2 550.3h0M337.7 691.6h0M344.9 488h0M270.3 577.5h0M340.3 489.7h0M417.1 594.9h0M307.2 542.9h0M348.6 723.1h0M300.9 608h0M419.8 533.6h0M315.2 471.7h0M280 579.3h0M321.3 491.9h0M273.7 525.6h0M369.6 669.2h0M284.5 554.9h0M306.9 578.4h0M268.8 548.8h0M292.8 610.7h0M362.9 447.2h0M411.9 532.4h0M414.4 446.4h0M288.4 659h0M375.2 670.7h0M377 653.9h0M285.7 505.5h0M274.9 517.5h0" fill="none" stroke="#231f20" stroke-width="1.7" stroke-linecap="round"/><path d="M408.8 477.3h0M330.7 486.3h0M322.7 490.1h0M338.7 509.9h0M416.2 474.5h0M440.8 581.6h0M348.9 702h0M421.8 659.4h0M396.8 488.2h0M405.8 623.8h0M345 646.8h0M350.5 506.3h0M375.6 626.9h0M375.9 462.7h0M412.6 570.2h0M287.8 637.4h0M313.9 482.6h0M381.5 631.4h0M319.1 606.9h0M347.6 735.1h0M293.5 625.5h0M391.6 447.5h0M416.8 503.9h0M377.5 445.7h0M434.1 555.3h0M313.1 614.1h0M281.2 652.7h0M423.1 590.5h0M413 477.6h0M349.4 464.3h0M311.5 523.2h0M308.1 591.1h0M350.5 744.7h0M311.7 566.3h0M281.1 535.3h0M285.3 610.9h0M333.4 638.5h0M345.2 702h0M334.5 474.4h0M289.3 549.7h0M370.7 705.4h0M287.1 536.4h0M429.9 584.1h0M361.4 752.7h0M352.3 723.6h0M336.3 502.7h0M315.6 497.9h0M329 513.5h0M418.2 636.2h0M427.3 497.3h0M377.6 696.6h0M331 628h0M281.6 549.2h0M432.5 522.3h0M303.4 602.5h0M389.4 614.7h0M424.9 501.8h0M298.9 494.3h0M277 591.9h0M416.6 589.3h0M284 495.4h0M287 629.2h0M333 657.9h0M354.7 750.4h0M319 470h0M283.2 589.6h0M358.6 448.9h0M427.6 645.1h0M341.5 521.1h0M279.2 557.6h0M375.3 694.1h0M346.4 675.3h0M364.8 706.3h0M414.5 638.7h0M335.6 639.7h0M426.7 489.9h0M277.4 658h0M278.4 644.5h0M291.9 520h0M427.3 615.3h0M312.4 549.8h0M403.9 542.8h0M417.2 624.4h0M395.7 517.7h0M320 491h0M285.3 600.8h0M349.5 465.3h0M364.7 753.8h0M342.6 500.6h0M334.4 641.4h0M430.6 539.2h0M311.9 587.2h0M316.5 541.9h0M418.8 650.5h0M345.6 658.7h0M416.6 480.1h0M409.8 589.3h0M376 668.6h0M389.5 503.2h0M347.6 685.7h0M276.4 630.8h0M430.6 632.8h0M372.5 462.5h0M358.9 458.6h0M315.8 580.3h0M309.6 527.5h0M282.2 531.6h0M432.8 528h0M342.3 474.9h0M405.5 532.8h0M305.6 582.4h0M406.2 515.8h0M296.3 520.7h0M312.5 583h0M437.5 592.7h0M385 625h0M287.3 627.5h0M374.4 648.5h0M271.5 520.7h0M294.9 563.9h0M306.9 524.4h0M312.1 590.4h0M352.9 480.8h0M331.9 635.6h0M432.4 523.2h0M367.8 728.4h0M351.7 470.2h0M403.2 611.2h0M320.5 458.7h0M284.6 510.2h0M307.8 535.2h0M415.9 628h0M303.4 509h0M277.4 604.2h0M298.5 578.9h0M296.6 505.9h0M300.8 504h0M435.6 576.7h0M377.4 626.6h0M398 538.1h0M313.5 540.8h0M390.7 521.9h0M407.6 626.3h0M339 519.6h0M423.5 495.3h0M410.6 608h0M433.5 540.1h0M443.4 543.7h0M335.8 472.6h0M388.5 454.6h0M327.9 511.6h0M424.2 656.9h0M428.1 627.8h0M292.7 498.4h0M312.1 594.9h0M413.4 463.2h0M419.3 663.7h0M297.6 496.5h0M430.1 518.1h0M327.4 466.5h0M359.6 515.9h0M432.4 587.7h0M279 543.7h0M414.1 616.3h0M300.6 486.6h0M377 474.5h0M379 458.7h0M310.7 556.2h0M365.5 489.8h0M301.3 578.1h0M415.8 643.9h0M385.5 512h0M346.8 510.5h0M426.3 651.1h0M289.5 577.7h0M392.3 482h0M348.9 508.4h0M409.6 476.1h0M361.6 751.5h0M390.9 519.2h0M332 653.8h0M309.7 532.5h0M355.1 475.1h0M386 522.4h0M339 444.8h0M397.5 528.8h0M309.9 497h0M416.8 594.2h0M305.2 539.1h0M379 635.1h0M297.7 645.2h0M373.4 485.3h0M370.8 450h0M402.3 528.5h0M395.4 469.8h0M278.6 575.5h0M325.4 472.5h0M275.9 611.2h0M297.9 566.1h0M352.8 441.9h0M347.8 662.8h0M325.2 445.1h0M350.3 440.1h0M380.5 503.9h0M421.7 588h0M361.1 496.8h0M350.1 457.7h0M442.9 541.7h0M320.9 518.7h0M282.8 554.4h0M277 565h0M413.7 559.6h0M335 687.6h0M295.8 531.2h0M404.9 454.8h0M422.7 608.2h0M301.5 604.4h0M300.2 527.7h0M321.6 502.8h0M318.2 617.6h0M315.7 620.3h0M369.2 734.4h0M393.4 544.5h0M337.1 679.5h0M395.5 491.3h0M327.2 510.9h0M349.9 677.9h0M285 631.3h0M411.4 527.1h0M282.6 558.2h0M412.9 579h0M415.9 494h0M407.3 604.3h0M406.7 614.5h0M405.3 466.7h0M300.5 586.1h0M312.5 591.1h0M308.4 480.8h0M283.9 597.9h0M312 581.5h0M441.3 587.8h0M297.2 547.4h0M430 568.6h0M355.3 498h0M295.7 637.3h0M376.3 644.1h0M346.8 711.7h0M335.2 672.6h0M299.8 557h0M408.3 454.9h0M319.2 461h0M440.8 550.5h0M291.3 606.9h0M391.4 492.1h0M287.6 529.6h0M343 471.3h0M431.8 520h0M298 549.3h0M345.3 722.5h0M340.4 469.8h0M352.6 752.8h0M300.8 493.2h0M362.2 746.8h0M391.7 507.9h0M284.6 560.5h0M348 722.8h0M361.7 508.5h0M362.9 518.5h0M311.2 598.9h0M317.6 486.9h0M290.3 537.1h0M325.5 614.9h0M309.1 576.5h0M370.7 732.4h0M399.9 615.1h0M329 507.2h0M405.4 452.9h0M406.9 641.2h0M299.8 633.7h0M350.1 663.1h0M388.4 464.3h0M359.3 521.2h0M375.2 463.2h0M377 711.8h0M351 718.5h0M303.6 508.7h0M377.6 517.1h0M403.1 521.5h0M442.9 582.1h0M303.9 549.8h0M434 563.6h0M357.7 504.5h0M403 536.7h0M322.1 499h0M385.6 466.2h0M295.9 539.2h0M326.9 628.3h0M409.1 628h0M393.6 458.9h0M344.2 512.5h0M385.5 460.5h0M318.4 461.6h0M288 534.2h0M355 748.6h0M277.5 570.3h0M346.5 507.7h0M398.5 591h0M308.8 473.1h0M401.5 615.2h0M339.4 669.2h0M332.3 652.1h0M368.2 466.4h0M334 486.6h0M297.4 525.9h0M370 733h0M343.1 470.5h0M420.6 515.1h0M351.9 696.3h0M423.8 521.6h0M416.5 494.6h0M408.8 514.2h0M432.9 599.1h0M360.7 447.6h0M303.9 550.9h0M407.4 580.3h0M426.2 610h0M282.4 632.6h0M405.1 461.8h0M339.2 477.3h0M370.9 518.8h0M342.7 482.4h0M296.1 577.1h0M352 675.8h0M325.3 496.8h0M416 624.5h0M316.9 533h0M267.6 543.2h0M305.1 514.7h0M383.8 512.4h0M427 569.9h0M319.3 517.4h0M301.8 499.1h0M427.7 582.8h0M330.4 618.4h0M316.7 561.5h0M273.2 514.2h0M323.1 518.9h0M297 517.6h0M416.3 586.1h0M394.7 513.2h0M413.7 545h0M327.7 628.2h0M318 465.5h0M331.7 623.6h0M300.3 524.2h0M322.5 463.5h0M368.3 446.2h0M374.4 695.5h0M270.8 541.1h0M306.7 522.6h0M391.8 513.5h0M425.6 570.2h0M335.8 449.6h0M435.4 572.3h0M320 508.7h0M270.5 527.6h0M338.5 513.6h0M397.7 481.2h0M314.2 563.2h0M422.1 475h0M324 513.9h0M399.4 564.9h0M358.6 501.1h0M329.7 534h0M327.3 469.3h0M330 501.2h0M347.8 515.7h0M426.1 503.1h0M421 582.1h0M321.4 601.4h0M404.6 579.4h0M416.6 658.3h0M322.9 523.4h0M380.6 635.1h0M309.8 605.7h0M335.5 484.9h0M289.1 588.7h0M323.1 477.3h0M357.7 453.2h0M383.7 443.3h0M431.1 565.9h0M421.7 495.4h0M415.9 531.4h0M363.2 521.4h0M324.2 519.1h0M413.6 475.6h0M418.3 662.3h0M412.3 600.1h0M308.3 471h0M371.5 680h0M431.7 517h0" fill="none" stroke="#231f20" stroke-width="2.3" stroke-linecap="round"/>
<path fill="#fff" fill-rule="evenodd" d="M348.3 633.9L354.1 674L357.7 727.3L359.3 744L362 713.6L365.9 647.3L366.2 633.9L365.2 633L357.5 638.6L351.1 634L349.2 633Z"/>
<path fill="#fff" stroke="#231f20" stroke-width="1.8" fill-rule="evenodd" d="M356.2 526.2L348.6 527.8L341.4 531.3L335 536.2L329.7 542.5L325.2 550.1L320.6 561.7L318.9 569.4L318.4 577.5L319.3 585.9L321.7 595L325.2 603.9L329.4 612L337.7 623.3L345.2 631.4L349.3 634.8L351.3 635.9L355.6 636.5L360.8 634.9L369.3 629L377.6 620.5L383.1 613.2L387.9 605.4L393.2 592.5L395.6 583.4L396.6 574.5L396.4 565.3L395.8 560.8L393.7 552.6L390.3 545.4L385.7 539.2L379.9 534.1L372.7 530L364.3 527.1Z"/>
<path fill="#231f20" fill-rule="evenodd" d="M356.4 532L350.6 533.2L344.5 536.3L339 540.4L334.4 545.8L330.4 552.7L326.2 563.3L324.7 570.3L324.2 577.4L325 584.8L327.2 593.2L330.5 601.5L334.3 609L339.4 616.2L347.1 625.1L352.4 629.9L355.1 630.7L360.5 628.4L368 622.3L375.8 613.4L380.7 606.3L384.5 598.9L387.7 590.7L389.9 582.3L390.8 574.3L390.6 565.8L389.2 558L386.9 551.4L383.4 545.6L379.1 540.8L373.7 537L366.6 533.8L362.9 532.7Z"/>
<circle cx="341.7" cy="575" r="6.3" fill="none" stroke="#fff" stroke-width="2.2"/>
<circle cx="341.7" cy="575" r="2.9" fill="none" stroke="#fff" stroke-width="1.6"/>
<circle cx="348.3" cy="594.8" r="5.8" fill="none" stroke="#fff" stroke-width="2.2"/>
<circle cx="348.3" cy="594.8" r="2.6" fill="none" stroke="#fff" stroke-width="1.6"/>
<circle cx="358.8" cy="547.3" r="6.9" fill="none" stroke="#fff" stroke-width="2.2"/>
<circle cx="358.8" cy="547.3" r="3.1" fill="none" stroke="#fff" stroke-width="1.6"/>
<circle cx="377.3" cy="548.6" r="5.3" fill="none" stroke="#fff" stroke-width="2.2"/>
<circle cx="377.3" cy="548.6" r="2.4" fill="none" stroke="#fff" stroke-width="1.6"/>
<circle cx="382.6" cy="577.7" r="6.3" fill="none" stroke="#fff" stroke-width="2.2"/>
<circle cx="382.6" cy="577.7" r="2.9" fill="none" stroke="#fff" stroke-width="1.6"/>
<circle cx="366.7" cy="592.2" r="5.3" fill="none" stroke="#fff" stroke-width="2.2"/>
<circle cx="366.7" cy="592.2" r="2.4" fill="none" stroke="#fff" stroke-width="1.6"/>
<circle cx="353.5" cy="613.3" r="5.3" fill="none" stroke="#fff" stroke-width="2.2"/>
<circle cx="353.5" cy="613.3" r="2.4" fill="none" stroke="#fff" stroke-width="1.6"/>
<circle cx="369.4" cy="613.3" r="4.8" fill="none" stroke="#fff" stroke-width="2.2"/>
<circle cx="369.4" cy="613.3" r="2.1" fill="none" stroke="#fff" stroke-width="1.6"/>
<circle cx="360.1" cy="568.4" r="3.7" fill="none" stroke="#fff" stroke-width="2.2"/>
<circle cx="360.1" cy="568.4" r="1.7" fill="none" stroke="#fff" stroke-width="1.6"/>
<circle cx="332.4" cy="594.8" r="3.2" fill="none" stroke="#fff" stroke-width="2.2"/>
<circle cx="332.4" cy="594.8" r="1.4" fill="none" stroke="#fff" stroke-width="1.6"/>
<ellipse cx="350.9" cy="557.9" rx="7.9" ry="4.2" transform="rotate(-30 350.9 557.9)" fill="#fff"/>
<ellipse cx="372" cy="568.4" rx="6.9" ry="3.7" transform="rotate(20 372 568.4)" fill="#fff"/>
<ellipse cx="335" cy="579" rx="3.7" ry="7.9" transform="rotate(0 335 579)" fill="#fff"/>
<ellipse cx="364.1" cy="579" rx="5.8" ry="3.2" transform="rotate(0 364.1 579)" fill="#fff"/>
<ellipse cx="377.3" cy="594.8" rx="4.2" ry="9" transform="rotate(10 377.3 594.8)" fill="#fff"/>
<ellipse cx="345.6" cy="610.7" rx="7.4" ry="3.7" transform="rotate(-20 345.6 610.7)" fill="#fff"/>
<ellipse cx="364.1" cy="623.9" rx="6.3" ry="3.2" transform="rotate(10 364.1 623.9)" fill="#fff"/>
<ellipse cx="332.4" cy="557.9" rx="4.2" ry="6.9" transform="rotate(20 332.4 557.9)" fill="#fff"/>
<ellipse cx="387.9" cy="557.9" rx="3.7" ry="6.9" transform="rotate(-10 387.9 557.9)" fill="#fff"/>
<ellipse cx="356.2" cy="536.7" rx="9.5" ry="3.2" transform="rotate(0 356.2 536.7)" fill="#fff"/>
<path d="M349.6 596.9h0M357.4 595.8h0M386.4 580.3h0M362.6 603.5h0M379.7 581.7h0M359.4 582.3h0M358 600.8h0M350.8 549.1h0M336.2 575.1h0M363.3 560.9h0M350.2 588.5h0M379.2 553.3h0M333.1 589.2h0M339.8 552.1h0M354.1 543.5h0M373.3 595.6h0M379.9 551.9h0M380 563.2h0M344 592.3h0M351.8 567.9h0M377.8 590.7h0M378.8 568.6h0M375.7 609.7h0M369.5 541.4h0M331.2 591.7h0M381.1 596.1h0M345.9 536.7h0M372.1 591h0M345.9 561.7h0M336.6 605.5h0M361.6 623.5h0M382.6 589.6h0M379.8 584.1h0M350.7 536.4h0M349.2 624.4h0M352.7 594h0M334.3 601.7h0M361.5 562.2h0M375.8 604.7h0M367.5 566h0M371.1 549.8h0M374.3 554h0M331.4 582.4h0M368.2 566.5h0M341.6 600.1h0M350.9 600h0M342.2 583.5h0M338.7 600h0M377.4 596.4h0M357.2 602.2h0M345.6 596.2h0" fill="none" stroke="#fff" stroke-width="1.4" stroke-linecap="round"/><path d="M354.5 580.9h0M331 555.6h0M349.7 544h0M383.5 589.2h0M348.3 617.9h0M339.4 556.6h0M338.3 607.1h0M354.1 573.4h0M332.1 583.4h0M348.5 611.1h0M355.8 547.9h0M354.5 545.2h0M353.6 603.2h0M371.5 578.6h0M350.7 567.9h0M372.1 601.5h0M374.1 581.6h0M370.8 552.4h0M339.7 561.7h0M349.1 624h0M379.4 559h0M342.7 573.6h0M377.2 581.8h0M350.3 596.3h0M334.1 592h0M348.3 564.6h0M358.8 544h0M371.8 566.7h0M350.4 574.7h0M375.8 542.6h0M361.1 604.2h0M346.3 618.3h0M333.8 564.6h0M351.6 549.3h0M388 584.6h0M385.8 561h0M374.8 612.8h0M364.1 596.4h0M356 549.4h0M377.4 569.3h0M382.8 563.3h0M367 609h0M379.6 561h0M380.8 576.2h0M348.6 591.1h0M350 585.9h0M372.8 604.3h0M362.4 594.9h0M346.5 615.6h0M356.3 628.4h0M370.2 554.8h0M364.2 572.3h0" fill="none" stroke="#fff" stroke-width="2.2" stroke-linecap="round"/><path d="M333.4 601.2h0M330.7 556.9h0M366.7 577.4h0M351.6 620.2h0M329.3 593h0M347.1 599.9h0M382.2 560.6h0M331.5 599.7h0M338 547.5h0M342.5 573.9h0M349.6 613.7h0M382.8 549.9h0M374.6 566.1h0M340.2 572.7h0M357.9 601.5h0M373.3 567h0M353.8 541.1h0M364.3 581.1h0M364.7 535.2h0M348.8 574.8h0M340.1 583.8h0M380.2 582.9h0M375.8 561.6h0M379.7 599.2h0M378.3 591.5h0M348.6 574.3h0M356.9 584.2h0M342.9 561.2h0M343.2 618.9h0M373.5 557.2h0M355.1 617h0M367.5 568.4h0M335.6 557.7h0M339.6 561.3h0M378.5 587.1h0M372.8 579.3h0M374.5 538.9h0M364.9 573.1h0M385.7 588.9h0M356.9 568.4h0M345.2 598.8h0M356 545.4h0M379.4 581.3h0M339.3 583.9h0M367.1 545h0M347.7 600.6h0M365.4 546.8h0M369.7 540.7h0M337.2 589.1h0M388.9 567.6h0M340.5 568.3h0M347.6 568.9h0M365.9 536.7h0M348.5 568.4h0M363 558.2h0M365.9 581.3h0M362.6 604.2h0M354.7 578.5h0M366.3 557.5h0M382.2 552.1h0M371.7 553.5h0M352 621.1h0M383.8 574.1h0M363.8 596.5h0M329.4 580.2h0M370.5 551.3h0M330.6 566.4h0" fill="none" stroke="#fff" stroke-width="3" stroke-linecap="round"/>
<path stroke-width="1.5" fill="#fff" stroke="#231f20" d="M296.8 527.5C297.5 523.5 301.4 515.8 304.7 510.3C308 504.8 313 498.4 316.6 494.5C320.1 490.5 325.4 485.7 325.8 486.6C326.2 487.4 322.1 494.9 319.2 499.8C316.3 504.6 311.8 509.9 308.6 515.6C305.5 521.3 302.2 532.1 300.2 534.1C298.2 536.1 296 531.5 296.8 527.5Z"/>
</g>
<!-- 30_zygote.svg -->
<g id="30_zygote">
<path class="ln" stroke-width="4.6" d="M307.8 814.1C310.3 815.2 317.1 818.8 322.7 820.6C328.2 822.5 337.7 822.3 341.2 825.3C344.8 828.2 343.4 834.2 344 838.2C344.6 842.3 344.8 847.5 344.9 849.4M326.4 805.8C326.8 807.5 326.7 812.7 329.2 816C331.6 819.2 339.2 823.7 341.2 825.3M359.8 804.8C360.1 807.9 359.5 818.8 361.6 823.4C363.8 828 370.3 828 372.8 832.7C375.2 837.3 375.9 848.1 376.5 851.2M341.2 825.3C344.6 824.9 353.3 823.1 361.6 823.4C370 823.7 382.7 824.9 391.3 827.1C400 829.3 406.5 835.1 413.6 836.4C420.7 837.6 429 833 434 834.5C438.9 836.1 439.2 842.9 443.3 845.7C447.3 848.4 455.6 850.3 458.1 851.2M394.1 806.7C393.9 810.1 393.6 819.7 393.2 827.1C392.7 834.5 391.6 847.2 391.3 851.2M417.3 806.7L419.1 834.5M439.6 814.1C439.9 817.8 440.2 830.8 441.4 836.4C442.6 841.9 446 845.7 447 847.5M413.6 836.4C413 837.9 409.9 840.4 409.9 845.7C409.9 850.9 413 864.2 413.6 867.9"/>
<path class="ln" stroke-width="4.2" d="M319.9 994.1C319.4 997.2 318.5 1006.8 317.1 1012.6C315.7 1018.5 312.5 1026.5 311.5 1029.3M333.8 1008.9L331 1031.2M361.6 1008.9L357.9 1033M380.2 1012.6L376.5 1034.9M391.3 1003.4L383.9 1018.2"/>
<path fill="#231f20" stroke="#231f20" stroke-width="4.6" fill-rule="evenodd" d="M344.9 827.1L342.4 830.5L340.7 835.1L337.9 845.9L335.7 851.2L332.5 856.4L320.6 872.2L314.1 882L306.3 895.4L298.7 909.9L296.3 916.2L295.6 919.3L295.1 925.4L295.8 931L297.6 936L298.9 938.3L302.3 942.1L304.5 943.4L312.4 945.8L314.3 947.7L315.5 950.4L316.1 953.7L320.8 1005.2L321.5 1007.8L322.7 1009.9L324.3 1011L326.2 1011.3L335.7 1010.8L369.1 1010.8L372.7 1011.2L378.3 1012.9L380.2 1012.6L384.6 1010.1L389.1 1005.9L393.5 1000.6L398 994L411.6 970.3L415.2 962.2L419 950.5L421 947.7L423.9 945.8L435 943.4L437.7 942.1L439.5 940.4L441.6 936.3L442.3 931L441.4 920.5L438.4 908.2L433.9 894.7L430.1 885.6L421 867.9L414.8 854.4L412.8 848L412.2 841.8L411.5 839L409.9 836.4L407.2 834.1L399.9 830L391.3 827.1L386.8 826.2L377 825.4L352.8 824.6L348.5 825.3Z"/>
<path d="M341.8 842.9L341.9 845.9L343.7 848.2L346.4 849.2L360 849.8L362.5 849.3L364.4 847.7L365.2 845.4L366.5 833.5L366.1 830.9L364.4 828.9L362 828L353.5 827.6L348.7 828.5L346.2 830.4L344.8 832.6ZM369.6 849.6L369.8 851.6L370.8 853.4L372.6 855.4L375.1 856.9L378.1 856.8L384.6 854.4L386.6 853.1L387.7 851L392 835.8L392 833.1L390.6 830.8L386.6 829.2L376.5 828.4L374.2 828.9L372.3 830.5L371.5 832.8ZM393 850.1L392.9 852.4L393.8 854.5L395.6 855.9L404.6 860.4L406.9 860.9L409.2 860.3L410.9 858.7L411.8 856.5L409.9 848.7L408.9 840.9L407 837.9L403.8 835.4L401.6 834.7L399.3 835L397.4 836.3L396.3 838.3ZM340.6 853.8L338 854.4L336.1 856.1L335 858L334.2 861.1L335.5 864L349.1 879.1L351.8 880.6L354.8 880.3L367.1 874.9L369.1 873.4L370.1 871.1L371.2 863.9L371.1 861.7L370 859.8L365.6 855.3L363.6 854.8ZM374.8 872.1L375 874.5L376.2 876.5L384.9 885.1L386.8 886.3L389 886.5L396.3 885.7L398.3 885L399.8 883.6L407 873.4L407.9 870.7L407.2 868L405.2 866L390.8 858.9L388.9 858.4L386.9 858.7L379.1 861.5L376.9 863.1L375.8 865.5ZM421 874.6L419.3 872.7L416.9 871.9L414.4 872.4L412.5 874L404.8 884.8L403.9 887.7L404.8 890.6L414 903.7L416.4 905.5L419.4 905.7L428.1 903.5L430.4 902.1L431.7 899.6L431.5 896.9L429.3 891.3ZM312.8 889.9L312.2 892.4L312.8 894.9L314.5 896.7L319.3 899.6L322.8 900.3L342.4 896.6L344.9 895.3L346.3 892.9L347.6 887.9L347.6 885.5L346.5 883.3L333.9 869.4L331.5 867.9L328.6 868L326.2 869.7L323 874.1ZM355.9 906.8L358.1 908.7L360.8 909.1L366.2 908.7L373.8 909.1L375.8 908L377 906.1L381.9 893L382.1 890.2L380.7 887.7L373.7 880.8L371.1 879.4L368.2 879.7L355.2 885.4L353.4 886.7L352.4 888.7L350.6 895.6L350.5 897.6L351.2 899.5ZM381.5 907.8L381.2 910L381.9 912.1L387.3 916.9L389.6 919.7L392 921.5L395.1 921.5L405.1 918.5L408 916.3L410.5 912.2L411.2 909.4L410.3 906.7L400.5 892.7L398.4 891L395.8 890.6L390.6 891.2L388.1 892.2L386.5 894.4ZM312.6 901.1L310 900.4L307.5 901.1L305.6 903L300.2 913.9L298.6 919.6L298.2 925.6L299.3 932.2L301.2 936.3L303 938L305.4 938.7L307.8 938.2L320 932.2L322.3 929.9L322.7 926.7L318.7 906.8L317.9 904.9L316.4 903.5ZM327.6 927L328.8 929.4L331.1 930.8L333.9 931.1L336 930.2L343 919.3L350.6 912L351.1 909.4L350.3 907L348.2 903.6L345.9 901.7L343 901.4L328.2 904.1L325.9 905.3L324.4 907.4L324.3 910ZM418.5 910.8L415.5 913.1L413 917.2L412.3 919.9L413.2 922.6L424.3 939.3L426.5 941.1L429.3 941.5L435.2 940L436.8 938.9L438.3 936.6L439.3 930.6L438.4 921.2L436.2 911.4L434.9 909.2L432.7 907.9L430.1 907.9ZM398.3 925.6L396.2 926.8L395 928.9L396.5 948.1L397.9 950L400 951L410.2 953.2L412.5 953.2L414.5 952.1L418.7 945.8L419.8 942.9L418.9 939.9L409.6 925.9L407.1 924L404 923.9ZM318.4 938.3L316.3 940.3L315.6 943.1L318.4 949.8L319.1 953.4L320.1 966.1L321.2 968.7L323.4 970.3L326.2 970.4L329.7 969.6L331.9 968.5L333.3 966.5L333.6 964.1L332.8 953.6L333.5 938.8L332.2 936.8L328.2 935L324.6 935.3ZM393.4 959L386.7 976.5L387.2 978.7L388.6 980.5L393.7 984.5L396.3 985.5L399.1 984.9L401.1 983L402.1 981.3L410.9 964.8L411.4 961.4L410 958.9L407.6 957.6L399.2 955.7L396.8 955.8L394.7 957ZM325.4 975.5L323.3 976.6L321.9 978.5L321.6 980.9L323.7 1003.6L324.6 1006L326.6 1007.7L329.1 1008.1L347.7 1007.8L350.1 1007.2L351.8 1005.6L352.7 1003.3L353.2 998.9L352.6 996L350.5 993.9L345.7 990.5L343.3 988L339.9 983.1L335.6 975.3L333.5 974.2L331.2 974.2ZM357.7 1002.1L358.1 1004.8L360 1006.9L362.6 1007.7L373.1 1008.2L378.6 1009.6L380.5 1009.2L384.9 1005.8L391.2 998.6L393.1 996L393.9 993.7L393.6 991.2L392 989.2L386.8 985.2L384.6 984.2L382.1 984.5L375.1 990.5L370.2 993.7L367.1 995L360.1 996.9L358.6 998.4Z" fill="#fff"/>
<path fill="#fff" fill-rule="evenodd" d="M335.7 986.7L365.3 986.7L357.9 1033L331 1033L333.8 1009.9Z"/>
<path class="ln" stroke-width="4.2" d="M335.7 986.7C335.3 990.5 334.6 1002.1 333.8 1009.9C333 1017.6 331.5 1029.2 331 1033M365.3 986.7C364.7 990.5 362.9 1002.1 361.6 1009.9C360.4 1017.6 358.5 1029.2 357.9 1033"/>
<path d="M353.4 1001.5h0M346 1005.2h0M344.4 1026.8h0M348.9 1012.5h0M348.5 1031.5h0M353.5 996h0M355.4 1027.5h0M362.4 995.2h0M347 1011.2h0M348.2 1024.2h0M360.8 1001.6h0M352.8 1013.7h0M342.3 997.2h0M358 1019.7h0M355.7 990.7h0M352.9 1000h0M339.7 1026.1h0M345.8 1019.3h0M338 1017.3h0M351.7 1020.4h0M336.2 1002.8h0M350.8 1005.2h0M348.4 1030.8h0M354.6 999.3h0M348.8 1008.3h0M342.3 1016h0M345.4 1009.2h0M344.2 1028.7h0M338.6 1013h0M357.4 999.8h0M345.9 1017.6h0M341.9 998.2h0M353.4 1017.7h0M360.3 1008.2h0M338.3 1010.3h0M354.5 1008.7h0M339.7 1015.1h0M345.1 1017.1h0M354.7 1026.5h0M352.8 1023.6h0M355.2 1014.5h0M339 1030.1h0M343.1 999.7h0M356.9 1005.7h0M353.6 1022.3h0M359.4 994h0M337.7 1004.7h0M342.2 1016.3h0M358.7 992.2h0M357.3 1015.4h0M342.2 998.3h0M336.2 1023.7h0M344.4 1004h0M343.3 1026.3h0M355.6 1020.7h0M341.7 1015.2h0M347.4 1026.9h0M338.5 1029.8h0M341.5 1015.8h0M351.6 1002.8h0M344.2 1021.5h0M359 1006.8h0M356.8 993.9h0M351.6 1005.3h0M349.3 1030.9h0M346.7 1006h0M357.3 988.5h0M353.4 992.1h0M353.8 1026.1h0M361 995.2h0M352.1 997.3h0M344.4 1001.1h0M345 1022.8h0M357.8 1012.6h0M356.3 1031h0" fill="none" stroke="#231f20" stroke-width="1.2" stroke-linecap="round"/><path d="M351.4 1014.5h0M356.3 1022.4h0M350.2 1028.1h0M354.3 995.4h0M352 991.4h0M357.8 995h0M344.6 990h0M356.4 1020.3h0M353.1 1001.9h0M348.6 994.4h0M351.4 1006.4h0M339.9 1007.5h0M340.5 1013.8h0M339.9 997.6h0M339.3 1027.5h0M346.1 1010.4h0M350.7 990.4h0M357.5 1004h0M339.1 1013.7h0M344.8 1008.3h0M356 1005.3h0M335.2 1025h0M352.5 1029.8h0M354.1 989.2h0M355 1009.8h0M341.9 998.2h0M347.8 999.4h0M358 992.3h0M337.2 1006.2h0M352.7 993.7h0M346.3 1010.9h0M354.8 999.3h0M354.6 1028.8h0M356.2 1025.1h0M333.2 1029.1h0M335.8 1023.5h0M355.7 1013.6h0M346.1 999.2h0M350.2 1008.4h0M347.7 1024.5h0M353 1020.9h0M348.2 989.4h0M349.3 1004.7h0M358.2 1001.4h0M352.7 1022.7h0M352.3 1005.1h0M349.1 1025.1h0M341.3 1029.7h0M346.4 1000.8h0M357.3 998.3h0M345.1 1023.9h0M353.4 1004.1h0M349.5 998.4h0M358.4 1005.1h0M337.4 1001.9h0M361.3 992.3h0M337.1 997h0M340.5 1006.4h0M340.4 1003h0M340.3 998.6h0M348.9 990.2h0M336.7 1028.8h0M353.7 1027.9h0M338.1 994.5h0M334.2 1027.1h0M350 994.2h0M338.9 1028h0M336.8 993.2h0M336 1023.6h0M346 1006.7h0" fill="none" stroke="#231f20" stroke-width="2" stroke-linecap="round"/><path d="M350.7 995h0M355 1031.3h0M346.4 999.8h0M347.1 1002h0M340 989.2h0M342.7 994.1h0M343.6 1030.7h0M356 1019.2h0M347.8 1028.3h0M343.6 1026.5h0M355.1 1009.3h0M339.6 1002.2h0M360.7 999.8h0M348.3 1010.6h0M348.5 1028.7h0M360.7 996.5h0M336 1010.8h0M359.1 998.8h0M339.2 1026.4h0M335.3 1029.6h0M338.4 1018.2h0M347.3 997.9h0M335.9 1007.6h0M359.7 993.7h0M337.1 990.6h0M335.7 1015.7h0M352 1022.9h0M345.8 1011h0M345.3 993h0M355.1 998.6h0M345.6 1010.9h0M338.3 992.2h0M348.7 1028.1h0M351.6 1000.7h0M358.7 1017.3h0M335.1 1020.9h0M353.1 1021.9h0M343.8 1008h0M349 1008.9h0M343.7 1031.4h0M336.2 1011.6h0M335.7 1010.6h0M354.4 1005.7h0M350.4 994.4h0M346.3 989.4h0M351.1 1026.4h0M347.6 1005.7h0M355.7 1016.7h0M356.4 996.8h0M338.6 1023h0M337 1014.7h0M347.7 1017.4h0M335.2 1020.9h0M338.1 1020.7h0M347.1 1001h0M346.4 1025.9h0M347.6 1011.5h0M361 991.5h0M352.9 1005.2h0M346.8 998.2h0M342.5 991.5h0M346.8 995.4h0M346.4 1015.9h0M338.6 1017.6h0M344.3 1003.6h0M357.7 1015.6h0M354 1029.3h0M356 1030.6h0M344.9 995.7h0M343.5 1003.7h0M356.2 1007.1h0M348.9 1024.8h0M343.1 1021.5h0M347.3 1015h0M342.5 1024.5h0M351.2 1013.7h0M336.1 1031.3h0M336 1003.4h0M340.2 1009h0M348.2 990.8h0M358.1 1010.8h0M337 1009.5h0M344.4 1015.2h0M354.9 1010.2h0M347.3 1000.5h0" fill="none" stroke="#231f20" stroke-width="2.8" stroke-linecap="round"/>
<path fill="#fff" stroke="#231f20" stroke-width="1.6" fill-rule="evenodd" d="M363.5 913.4L358.2 914.4L353.1 916.6L348.6 919.9L346.7 922L343.2 927.3L340.4 933.5L338.6 939.8L337.6 946.7L337.5 957L338.1 963.5L340.2 972.8L342.4 978.1L346.9 985.1L350.5 988.5L354.6 990.6L359 991.6L363.5 991.3L368 989.6L374.5 985L378.3 980.7L383.1 972.3L388.2 960.2L390.9 950.8L391.5 944.5L390.9 934.8L389.5 929.1L387.2 924.3L384.1 920.2L380.2 917.1L375.1 914.9L369.2 913.5Z"/>
<path d="M351.3 955.7h0M369.7 961.8h0M361.7 984.8h0M361.3 961.9h0M381.1 957.9h0M357.1 967.8h0M355.5 942.3h0M350.6 975h0M344.5 939.2h0M371.6 975.2h0M355.2 938.7h0M360.8 980.7h0M358.2 982h0M352.6 949.8h0M359.1 942.6h0M363.4 943.7h0M351.2 968.6h0M351.5 929.4h0M369.4 956.5h0M362.4 938.5h0M341.5 952.8h0M380.3 970.9h0M370.9 940.9h0M372.2 982.2h0M376.2 977.4h0M376.1 940.1h0M344.7 957.6h0M350.4 957.1h0M360.6 963.5h0M356.2 947.3h0M370.1 984.5h0M359.8 989.4h0M356.7 970.4h0M362.6 954.4h0M366 955.1h0M340.1 947.4h0M359.9 941.5h0M353.5 925.1h0M359 988.7h0M388.5 933.6h0M356.7 970.9h0M381.5 927.8h0M358.1 938.9h0M361.5 961.2h0M360.7 978.3h0M358.7 988.2h0M383.3 958.7h0M366.4 983.8h0M376.4 976.8h0M358.9 953.3h0M354.4 982.2h0M366.1 961.4h0M385.2 944.8h0M361.6 957.3h0M356.4 969.7h0M376.3 941.4h0M366.3 983.9h0M368 953.3h0M364.7 966.4h0M363.7 970.2h0M366.7 965h0M383.7 925.6h0M343.6 973.6h0M353.5 967.2h0M352.7 971.9h0M360.8 938.2h0M385.8 958.5h0M340 950.5h0M343.6 965.4h0M360.5 968.1h0M353.1 931.6h0M350.9 982.3h0M367.5 944.9h0M385.2 956.7h0M349.5 983.8h0M356.6 927.9h0M377.9 951.2h0M347.9 978.3h0M383.3 956.1h0" fill="none" stroke="#231f20" stroke-width="1.2" stroke-linecap="round"/><path d="M369 937.7h0M379.5 945.8h0M343.3 959.9h0M365.5 956.1h0M360.2 958.4h0M345.5 954.7h0M381.3 964.6h0M353.9 940.6h0M376.8 928.1h0M363.3 973.4h0M367.3 968.5h0M361 943h0M378.2 918.6h0M368.4 974.6h0M380.9 933.3h0M348.7 935.2h0M368.8 938.7h0M354.2 967.7h0M382.2 958.7h0M363.4 959.8h0M387.5 950h0M381.2 937h0M356.2 947.7h0M353.2 964.7h0M358.2 972.7h0M357.1 968.7h0M366.6 970.3h0M353 922.7h0M378.4 969.3h0M351.9 973.4h0M375.5 942.6h0M349.2 930.9h0M347.7 961.5h0M369.1 915.6h0M385.7 942.3h0M350.9 973.2h0M369.8 968.1h0M343.5 963.5h0M343.3 941h0M354 984.7h0M353.8 923h0M360 921.1h0M342 955.9h0M360.4 934.7h0M360.9 961.9h0M367.1 936.1h0M340.9 958h0M386.7 938.9h0M371 976.1h0M366.8 918.8h0M373.2 963.4h0M348.9 976.4h0M366.2 943.7h0M365.7 972.2h0M353.6 987.1h0M361 979.8h0M355.5 936.3h0M369.4 921.6h0M370.9 964.3h0M356.5 923.6h0M370.9 948.2h0M361.8 951.9h0M380.7 930.4h0M381.3 970.9h0M367.6 943.9h0M348.1 944.6h0M364.7 927.7h0M365.2 944.8h0M363.3 947.6h0M368.8 944.1h0M347.9 962.9h0M381.9 969.3h0M385.6 930.4h0M362.3 989.2h0M341.1 953.8h0M366.8 959.7h0M379.2 952.5h0M345.5 952.4h0M351.8 984h0M374.9 979.9h0M363.1 937.6h0M346.1 961.8h0M348.4 952.6h0M363.4 943.4h0M349.2 981.5h0M361.2 926.1h0M381 946.7h0M377.2 976.2h0M359.8 940.1h0M363.8 973.2h0M340 955.8h0M362 970.6h0M353.5 964.5h0" fill="none" stroke="#231f20" stroke-width="1.9" stroke-linecap="round"/><path d="M363 977.4h0M364.8 944h0M367.9 968.3h0M341.6 961h0M384.3 943.4h0M365.5 963.1h0M370.3 962.3h0M357.9 959.6h0M358.3 972.7h0M367.9 969.9h0M383.8 948.8h0M353 941h0M342.8 959h0M384.5 958.2h0M372.6 954.3h0M371.8 958.9h0M349 939.7h0M358.5 974.8h0M379.1 964.9h0M357 946.4h0M364.5 987.6h0M377.3 965.4h0M368.5 965.5h0M359 955.7h0M354.2 965.5h0M342.9 968.5h0M377.9 941.6h0M357.1 978.2h0M346.8 944.9h0M365.9 957.5h0M372.6 951.8h0M369.5 984.2h0M361.3 971.5h0M365.9 959.6h0M359.6 927.8h0M364 919.7h0M342 945.3h0M362.7 984.6h0M354.1 978.4h0M373.4 922.5h0M371.7 958.8h0M366.2 929.3h0M369.2 975.8h0M360.4 985.7h0M344.2 969h0M365.4 962.8h0M358.1 927.3h0M357.4 978.7h0M362.6 981.2h0M369.6 946.1h0M360.1 978.5h0M350.9 930.2h0M353.6 986.7h0M352.8 951.2h0M342.2 971.7h0M367.9 949.8h0M366.5 948.1h0M381.1 929h0M380.8 939.9h0M368.6 981h0M365.7 957.9h0M372.6 954.6h0M361.1 938.5h0M359.5 944.2h0M359.2 955.4h0M364 958.3h0M377.6 956.4h0M359.9 958.1h0M342.2 951.1h0M344.4 967.6h0M355.8 971.9h0M358.1 980h0M352.6 967.4h0M361.7 964.9h0M372.6 969.9h0M341.8 965.5h0M343.6 970.6h0M363.3 930.4h0M368.7 960.7h0M383.7 957.3h0M349.3 960.3h0M354.1 978.8h0M361.6 984.3h0M352 930.4h0M369.1 934h0M358.2 942.2h0M364.3 948.9h0M348.2 974.4h0" fill="none" stroke="#231f20" stroke-width="2.6" stroke-linecap="round"/>
<path stroke-width="3" fill="#fff" stroke="#231f20" d="M364.4 922.7C361.3 923.3 357.3 927.4 355.1 931C353 934.6 351.3 940 351.4 944C351.6 948 353.9 952.8 356.1 955.1C358.2 957.4 361.8 958.5 364.4 957.9C367 957.3 370 954.7 371.8 951.4C373.7 948.2 375.2 942.4 375.5 938.4C375.9 934.4 375.5 929.9 373.7 927.3C371.8 924.7 367.5 922 364.4 922.7Z"/>
<path stroke-width="1" fill="#231f20" stroke="#231f20" d="M367.2 928.2C365.4 929.1 362.1 933.6 360.7 936.6C359.3 939.5 358.5 943.4 358.8 945.8C359.2 948.3 361 951.1 362.6 951.4C364.1 951.7 366.6 949.9 368.1 947.7C369.7 945.5 371.3 941.2 371.8 938.4C372.4 935.6 372.1 932.7 371.3 931C370.5 929.3 369 927.3 367.2 928.2Z"/>
<path class="ln" stroke-width="1.2" stroke="#fff" d="M363.1 936.6C362.9 937.6 361.4 941.4 361.6 943.1C361.8 944.8 363.5 946.6 364.4 946.8C365.3 946.9 366.7 944.5 367.2 944"/>
<path stroke-width="1" fill="#231f20" stroke="#231f20" d="M342.2 982.9C342.2 981.4 346.9 987.1 350.5 988.5C354.1 989.9 359.2 992.1 363.5 991.3C367.8 990.5 375.5 983.1 376.5 983.9C377.4 984.7 371.5 993.3 369.1 995.9C366.6 998.6 364.7 999.3 361.6 999.6C358.5 1000 353.7 1000.6 350.5 997.8C347.3 995 342.2 984.5 342.2 982.9Z"/>
</g>
<!-- 40_arch.svg -->
<g id="40_arch">
<path class="ln" stroke-width="2.8" d="M512.1 923.8C516.2 923.6 527.1 922.6 536.4 923C545.7 923.5 557 924.5 567.9 926.7C578.8 928.9 590.5 932.9 601.9 936.4C613.2 939.8 624.5 943.4 635.8 947.3C647.1 951.1 658.8 955.2 669.8 959.4C680.7 963.7 691.2 967.7 701.3 972.8C711.4 977.8 721.9 983.3 730.4 989.7C738.9 996.2 746.1 1003.9 752.2 1011.6C758.3 1019.2 762.9 1029.1 766.8 1035.8C770.6 1042.5 773.8 1048.9 775.2 1051.6"/>
<path class="ln" stroke-width="2.5" d="M517 972.3C522.2 971.9 537.6 970.2 548.5 969.8C559.4 969.5 571.1 970.1 582.5 970.3C593.8 970.5 605.9 970.5 616.4 971.1C626.9 971.6 635 972.3 645.5 973.5C656 974.7 671.4 977.1 679.5 978.1C687.5 979.1 688.3 979.2 694 979.5C699.7 979.9 706.9 978.1 713.4 980C719.9 981.9 725.9 984.9 732.8 990.9C739.7 997 748.6 1007.7 754.6 1016.4C760.7 1025.1 766.8 1038.6 769.2 1043.1"/>
<path class="ln" stroke-width="2.2" d="M524.3 978.8C528.3 978.2 539.2 976.2 548.5 975.2C557.8 974.2 574.8 973.2 580 972.8"/>
<path class="ln" stroke-width="2.0" d="M694 979.5C698 980.4 710.6 981.2 718.3 984.9C725.9 988.6 733.6 995 740.1 1001.9C746.5 1008.7 751.8 1018.4 757.1 1026.1C762.3 1033.8 769.2 1044.3 771.6 1047.9"/>
<path class="ln" stroke-width="2.5" d="M774 1055.2C774.6 1060.1 776.5 1073.8 777.7 1084.3C778.9 1094.8 779.9 1106.5 781.3 1118.3C782.7 1130 784.7 1144.5 786.2 1154.6C787.6 1164.7 789.6 1172.4 789.8 1178.9C790 1185.3 790 1190 787.4 1193.4C784.7 1196.9 778.5 1199.9 774 1199.5C769.6 1199.1 764.7 1195.6 760.7 1191C756.6 1186.4 752.6 1178.9 749.8 1171.6C746.9 1164.3 745.3 1155.4 743.7 1147.4C742.1 1139.3 741.3 1130.4 740.1 1123.1C738.9 1115.8 737.7 1109 736.4 1103.7C735.2 1098.4 733.4 1093.6 732.8 1091.6"/>
<path class="ln" stroke-width="2.5" d="M822.5 1106.1C820.5 1109 813.6 1116.2 810.4 1123.1C807.2 1130 804.7 1138.1 803.1 1147.4C801.5 1156.6 801.9 1168.8 800.7 1178.9C799.5 1189 798.3 1201.1 795.9 1208C793.4 1214.8 791 1217.9 786.2 1220.1C781.3 1222.3 773.2 1222.5 766.8 1221.3C760.3 1220.1 753 1217.1 747.4 1212.8C741.7 1208.6 736.8 1201.1 732.8 1195.9C728.8 1190.6 726.7 1184.9 723.1 1181.3C719.5 1177.7 715.8 1176.5 711 1174C706.1 1171.6 699.3 1170 694 1166.8C688.7 1163.5 683.5 1158.7 679.5 1154.6C675.4 1150.6 671.4 1144.5 669.8 1142.5"/>
<path class="ln" stroke-width="2.5" d="M616.4 1061.3C613.2 1063.1 603.1 1067.5 597 1072.2C590.9 1076.8 585.3 1082.3 580 1089.2C574.8 1096 569.3 1104.9 565.5 1113.4C561.6 1121.9 558.9 1131.2 557 1140.1C555 1149 554 1158.3 553.8 1166.8C553.6 1175.2 555.5 1187 555.8 1191"/>
<path class="fw" stroke-width="2.7" d="M593.4 975.2C590.5 976.4 583.7 981.2 580 984.9C576.4 988.5 572.8 993 571.5 997C570.3 1001 570.9 1006.3 572.8 1009.1C574.6 1012 579.2 1013.8 582.5 1014C585.7 1014.2 589.3 1010.5 592.2 1010.3C595 1010.1 596.6 1013.4 599.4 1012.8C602.3 1012.2 607.1 1009.3 609.1 1006.7C611.1 1004.1 612.4 1000.6 611.6 997C610.7 993.4 606.7 988.1 604.3 984.9C601.9 981.6 598.8 979.2 597 977.6C595.2 976 596.2 974 593.4 975.2Z"/>
<path d="M591.8 991h0M602.1 987.4h0M590.5 997.5h0M595.9 985.5h0M584.2 1002.7h0M590.3 980.1h0M582.3 1005.4h0M599.7 990.8h0M603.7 1000.5h0M579.7 996.9h0M581.5 1011.3h0M594.7 992.5h0M595 990.3h0M594.2 986.9h0M590.5 979.7h0M599.1 986.4h0M606.3 997.7h0M589.5 1000.2h0M595.6 994h0" fill="none" stroke="#231f20" stroke-width="1" stroke-linecap="round"/><path d="M588.4 985.8h0M583.1 1003.7h0M606.5 1001.1h0M588.9 998.4h0M590.5 1007.6h0M603.2 1007h0M608.4 997.3h0" fill="none" stroke="#231f20" stroke-width="1.6" stroke-linecap="round"/><path d="M604.4 1003.7h0M606.8 994.6h0M603.1 1008.9h0M584.8 1007.8h0M602.8 992.6h0M576.6 996.3h0M599.2 996.2h0M603.3 995.9h0M608.9 998.2h0M595.6 1000.1h0M601.1 1008h0M592.9 990.5h0" fill="none" stroke="#231f20" stroke-width="2.2" stroke-linecap="round"/>
<path class="fw" stroke-width="2.7" d="M640.7 977.6C637.4 978.8 631.8 983.7 628.5 987.3C625.3 990.9 622.1 995.8 621.3 999.4C620.4 1003.1 621.3 1006.4 623.7 1009.1C626.1 1011.9 631.8 1015.1 635.8 1015.9C639.8 1016.7 645.1 1015.9 647.9 1014C650.8 1012 652.4 1007.1 652.8 1004.3C653.2 1001.4 649.3 998.6 650.4 997C651.4 995.4 657.6 996.6 658.8 994.6C660.1 992.6 659.4 987.3 657.6 984.9C655.8 982.5 650.8 981.2 647.9 980C645.1 978.8 643.9 976.4 640.7 977.6Z"/>
<path d="M649.5 988h0M640 995h0M645.6 1007.1h0M638.2 1004.7h0M655.8 992.5h0M638 996.6h0M645.2 985.5h0M633.2 999.9h0M640.4 1000h0M650.7 993.7h0M635.7 994.6h0M642.4 994.1h0M642.7 986h0M628.7 999.8h0" fill="none" stroke="#231f20" stroke-width="1" stroke-linecap="round"/><path d="M652.1 994.4h0M623.4 998.3h0M630.1 994h0M648 1004.4h0M655.7 994h0M628.6 998.5h0M640.9 992.9h0M636.4 984.9h0M640.3 1014.1h0M640.7 1013h0M642.9 995.3h0M632 998.5h0M640.4 996.2h0M635.1 991.3h0M641.5 1001.2h0M644.2 995.3h0M631.5 1009h0" fill="none" stroke="#231f20" stroke-width="1.6" stroke-linecap="round"/><path d="M627.2 1009.2h0M630.2 995.3h0M647.4 1003h0M640.5 1006.8h0M639.8 979.9h0M624 1004.1h0M653 987.2h0" fill="none" stroke="#231f20" stroke-width="2.2" stroke-linecap="round"/>
<path class="fw" stroke-width="2.7" d="M684.3 983.7C681.1 984.3 675.8 991.1 672.2 994.6C668.5 998 663.7 1000.6 662.5 1004.3C661.3 1007.9 663.3 1013.7 664.9 1016.4C666.5 1019.1 668.9 1021.2 672.2 1020.8C675.4 1020.4 681.9 1016.3 684.3 1014C686.7 1011.6 684.7 1008.3 686.7 1006.7C688.7 1005.1 694.4 1005.9 696.4 1004.3C698.4 1002.7 699.7 999.2 698.9 997C698 994.8 694 993.2 691.6 990.9C689.2 988.7 687.5 983.1 684.3 983.7Z"/>
<path d="M686.4 995.7h0M684.2 1005.9h0M683.4 990.6h0M678.3 998.6h0M678.7 994.4h0M679.4 996.1h0M676.5 1015.6h0M694.6 995.8h0M685.7 1005.2h0M670.8 1015.2h0M664.5 1010.1h0M683.5 998.6h0M681.1 990.2h0M672.1 1005.4h0M678 1003.1h0" fill="none" stroke="#231f20" stroke-width="1" stroke-linecap="round"/><path d="M679.3 1003.3h0M680.6 1013.5h0M675.6 1015.3h0M687.4 990.9h0M685.8 994.5h0M671.3 1015h0M669.9 1008.8h0M666.9 1006.8h0M671.5 1000.4h0" fill="none" stroke="#231f20" stroke-width="1.6" stroke-linecap="round"/><path d="M681.5 1004.3h0M686.5 991.4h0M694.2 1000.9h0M688.2 1001.8h0M680.7 1002.9h0M684.8 987.8h0M667.2 1003h0M678 1009.6h0M669.5 1008.1h0M679.7 992.9h0M686.1 996h0M684.2 999.5h0M687.7 994h0M688.2 993.5h0" fill="none" stroke="#231f20" stroke-width="2.2" stroke-linecap="round"/>
<path class="fw" stroke-width="2.7" d="M854.1 997C849.8 995.4 830 1004.9 822.5 1009.1C815.1 1013.3 803.5 1022.4 798.3 1028.5C793.1 1034.7 786 1048.4 783.7 1055.2C781.5 1062 780.3 1073.6 781.3 1079.5C782.3 1085.3 787.1 1095.1 791 1098.9C794.9 1102.6 804.9 1107.3 810.4 1107.3C815.9 1107.3 827.1 1102.9 832.2 1098.9C837.4 1094.8 846.1 1083.5 849.2 1077C852.3 1070.6 854.8 1057.8 855.5 1050.4C856.2 1042.9 854.7 1028.4 854.5 1021.3C854.3 1014.1 858.3 998.6 854.1 997Z"/>
<path d="M815.9 1038.7h0M822.4 1064.6h0M834.7 1015.8h0M825 1081.3h0M802.9 1085.1h0M845.7 1004.9h0M847.6 1011h0M818.3 1096.9h0M828.5 1009h0M831 1061.8h0M814.5 1033.6h0M790.2 1082.4h0M784.6 1082h0M833.5 1025.4h0M811.5 1038.7h0M843.1 1026.6h0M823 1013.6h0M846.3 1017h0M834 1081.1h0M845.8 1051.6h0M820.6 1017.5h0M821.1 1099.1h0M804.3 1076.1h0M786.6 1063.1h0M809.5 1092.4h0M835 1065.5h0M826.3 1018.3h0M784.6 1081.5h0M806.7 1082.2h0M816.2 1054.5h0M804.3 1084.1h0M805.5 1025.3h0M807.6 1088h0M811.6 1033.6h0M827.5 1035h0M808.5 1027.7h0M805.7 1040h0M844.9 1059.7h0M836.3 1036h0M825.8 1057h0M849.2 1001.8h0" fill="none" stroke="#231f20" stroke-width="0.9" stroke-linecap="round"/><path d="M833.1 1047.1h0M819 1097.2h0M797 1093.3h0M788.8 1056.4h0M786.7 1058h0M826.2 1014.9h0M799.7 1064h0M838.2 1008.3h0M807.6 1090.9h0M824.6 1047h0M811.6 1103.8h0M835.6 1044.2h0M799.3 1101.5h0M844.3 1038.3h0M815.1 1073.9h0M820.2 1056.1h0M847.9 1006h0M834.3 1010h0M832.8 1047.3h0M817.9 1066.7h0M799.3 1086.5h0M845.4 1002.9h0M825.5 1064.2h0M816.4 1056h0M800.8 1089.6h0M852 1009.1h0M826 1051.3h0M811.3 1021.3h0M802.6 1048.1h0M826.5 1059.5h0M835.3 1021.5h0M816.4 1091.2h0M805.9 1087.6h0M834.1 1029.3h0M846.3 1052.8h0M815.1 1071.3h0M799.4 1034.2h0" fill="none" stroke="#231f20" stroke-width="1.5" stroke-linecap="round"/><path d="M792.7 1091.1h0M847.1 1007.6h0M810.2 1078.3h0M831 1076.2h0M809.9 1051.3h0M825.5 1011.9h0M824.2 1094.2h0M812.8 1041.4h0M824.3 1017.4h0M840 1034h0M813.8 1021.7h0M789.1 1066h0M840.6 1051.9h0M830.5 1017.2h0M797.7 1040.4h0M789 1058.1h0M832.6 1006h0M837.5 1039.8h0M838.6 1022.7h0M815.5 1058.5h0M817.3 1099.6h0M846.4 1056.9h0M828.8 1056.7h0M831.3 1042.3h0M799.3 1081.9h0M809.4 1077.8h0M809.2 1066.5h0M819.8 1020h0M814.2 1099.4h0M840 1005.2h0M826.1 1022.5h0M814.3 1018.9h0M795 1056.9h0M796.3 1074.7h0M829.9 1013.7h0M814.8 1063.5h0M821.6 1034.7h0M829.2 1041.1h0M792.4 1072.4h0M795.8 1064.1h0M783.5 1071.8h0M844.7 1071h0" fill="none" stroke="#231f20" stroke-width="2.1" stroke-linecap="round"/>
<path class="ln" stroke-width="2.8" d="M805.6 1039.4C806.8 1038.4 810.4 1034.6 812.8 1033.4C815.3 1032.2 818.1 1031.8 820.1 1032.2C822.1 1032.6 824.1 1035.2 825 1035.8"/>
<path class="ln" stroke-width="2.0" d="M815.3 1032.2C816.5 1033.2 820.5 1037 822.5 1038.2C824.5 1039.4 826.6 1039.2 827.4 1039.4"/>
<path class="ln" stroke-width="3.0" d="M797.1 1067.3C798.1 1065.7 801.1 1060.1 803.1 1057.6C805.1 1055.2 807.6 1053.2 809.2 1052.8C810.8 1052.4 812.2 1054.8 812.8 1055.2"/>
<path class="ln" stroke-width="2.2" d="M805.6 1050.4L811.6 1058.8"/>
<path class="ln" stroke-width="5.0" d="M825 1060.1C824.1 1061.7 820.7 1066.5 820.1 1069.8C819.5 1073 820.3 1077.4 821.3 1079.5C822.3 1081.5 825.4 1081.5 826.2 1081.9"/>
<path class="ln" stroke-width="1.9" d="M828.6 1062.5C828.2 1064.1 826.2 1069.5 826.2 1072.2C826.2 1074.8 828.2 1077.2 828.6 1078.2"/>
<path class="ln" stroke-width="4.4" d="M799.5 1089.2C800.5 1088.5 803.5 1085.7 805.6 1085.5C807.6 1085.3 811 1086.1 811.6 1087.9C812.2 1089.8 810 1094.4 809.2 1096.4C808.4 1098.4 807.2 1099.5 806.8 1100.1"/>
<path class="ln" stroke-width="2.5" d="M811.6 1087.9L817.7 1091.6"/>
<path class="ln" stroke-width="2.5" d="M798.3 1119.5C797.7 1120.9 794.8 1125.5 794.6 1128C794.4 1130.4 795.9 1133.6 797.1 1134C798.3 1134.4 801.3 1132 801.9 1130.4C802.5 1128.8 800.9 1125.3 800.7 1124.3"/>
<path class="ln" stroke-width="2.2" d="M801.9 1130.4C801.5 1132 800.7 1138.7 799.5 1140.1C798.3 1141.5 795.4 1139.1 794.6 1138.9"/>
<path class="ln" stroke-width="2.5" d="M719.5 1164.3C720.5 1164.1 723.9 1162.5 725.5 1163.1C727.1 1163.7 729.4 1166.8 729.2 1168C729 1169.2 725.1 1170 724.3 1170.4"/>
<path class="ln" stroke-width="5.0" d="M729.2 1168C730 1169.4 732.8 1174 734 1176.5C735.2 1178.9 736 1181.5 736.4 1182.5"/>
<path class="fw" stroke-width="2.5" d="M597 1064.9C594.4 1066.3 590.5 1070.2 588.5 1074.6C586.5 1079 584.9 1085.9 584.9 1091.6C584.9 1097.2 586.7 1103.9 588.5 1108.6C590.3 1113.2 593.6 1118.7 595.8 1119.5C598 1120.3 599.8 1117.6 601.9 1113.4C603.9 1109.2 606.7 1100.5 607.9 1094C609.1 1087.5 609.7 1079.2 609.1 1074.6C608.5 1070 606.3 1067.7 604.3 1066.1C602.3 1064.5 599.6 1063.5 597 1064.9Z"/>
<path fill="#231f20" fill-rule="evenodd" d="M597 1064.9L591.6 1069.7L588.5 1074.6L585.6 1084.4L584.9 1091.6L585.6 1098.7L588.5 1108.6L592.8 1116.6L595.8 1119.5L597.1 1119.6L598.3 1118.9L600.7 1115.7L603.1 1110.4L605.8 1102.4L608.6 1089.9L609.3 1077.8L609.1 1074.6L607.7 1070.1L604.3 1066.1L601.6 1064.6L600.1 1064.3ZM598 1072.9L600.1 1073.6L601.9 1075.8L602.8 1079.3L603.1 1086.7L602 1097.3L600.6 1103.7L597.8 1109.9L596.7 1110.9L595.8 1111L594 1107.6L592.5 1101.7L592.2 1093L592.9 1087L594.6 1079L596.2 1074.7L597 1073.4Z"/>
<path d="M604.7 1076.7L603.5 1077.4L604.3 1080.1L605.3 1080.1L607.7 1078.6L607.5 1077.3ZM599 1109.9L599.1 1111.2L600.8 1112.2L601.5 1111.6L602.5 1108.7L601.9 1108L600.7 1107.6ZM605.8 1081.4L605.3 1082.2L605.6 1083.1L607.1 1084.1L608 1083.7L608.3 1081.8L607.8 1080.9ZM587.3 1085.3L586.3 1086.2L587.2 1087.3L590.8 1087.8L591.9 1086.9L591.5 1085.4ZM588.4 1077.5L589 1078.8L592.7 1080L593.5 1079.3L594.1 1076.8L593.6 1076L590.3 1074.4L589.5 1074.9ZM588.1 1088.8L587 1089.7L588.3 1091.3L589.6 1091.5L591.2 1090.8L591 1089.4ZM587 1082.7L587.4 1083.7L588 1083.9L591.7 1083.8L592.4 1083.4L592.7 1082.1L592.1 1081.4L588.2 1080.2L587.4 1080.8ZM601.2 1105.2L601.8 1106.4L603.4 1106.5L604.1 1104.4L604 1103.5L603.2 1103.1L602 1103.4ZM596.8 1066.3L596.5 1067.6L598.9 1071.7L600.1 1072.3L600.9 1072L604.3 1068.2L603.7 1066.9L601.2 1065.5L598.9 1065.3ZM591.3 1071.9L591.6 1073.3L594.4 1074.7L595.2 1074.2L597.1 1071.6L595.5 1068.8L594.8 1068.3L593.9 1068.6ZM596.6 1116.5L595.4 1117.3L595.8 1118.2L596.6 1118.5L597.7 1117.6L597.4 1116.8ZM602.1 1072.8L601.9 1074L602.9 1074.9L606.9 1075.6L608.1 1074.9L607.6 1072.3L606 1069.6L604.9 1069.8ZM593.8 1112.6L593.5 1113.6L594.2 1114.3L598.7 1115.6L600 1114.9L599.8 1113.7L597.6 1111.8L594.8 1111.8ZM605.3 1091.4L604.5 1092.2L604.6 1092.7L605.1 1093.3L606.6 1093.3L607.2 1092.3L606.9 1091.5ZM587.8 1098.3L586.9 1099L586.9 1099.5L588.2 1104L589.1 1104.2L591.4 1103.4L591.7 1102.5L591 1098.7L589.9 1098.2ZM589.6 1105.5L588.9 1106.3L589.4 1108.2L591 1111.6L592.2 1112.1L593.9 1110.4L592.4 1105.8L591.7 1105.1Z" fill="#fff"/>
<path fill="#fff" stroke="#231f20" stroke-width="1.2" fill-rule="evenodd" d="M597 1073.4L595.3 1076.6L593.9 1081.7L592.5 1090L592 1096L593.2 1104.8L594.9 1109.8L595.8 1111L596.7 1110.9L597.8 1109.9L600.6 1103.7L602 1097.3L603.1 1086.7L602.8 1079.3L601.9 1075.8L600.1 1073.6L599 1073L598 1072.9Z"/>
<path stroke-width="1" fill="#231f20" stroke="#231f20" d="M597.5 1079.5C596.7 1081.1 595.1 1087.5 595.1 1091.6C595 1095.6 596.2 1103.3 597 1103.7C597.8 1104.1 599.4 1097.6 599.9 1094C600.4 1090.4 600.3 1084.3 599.9 1081.9C599.5 1079.5 598.3 1077.8 597.5 1079.5Z"/>
<path class="fw" stroke-width="2.5" d="M635.8 1045.5C631.8 1045.9 626.5 1050.8 623.7 1055.2C620.8 1059.6 618.8 1066.1 618.8 1072.2C618.8 1078.2 621.7 1084.7 623.7 1091.6C625.7 1098.4 628.1 1110.2 631 1113.4C633.8 1116.6 637.8 1115 640.7 1111C643.5 1106.9 646.1 1096.4 647.9 1089.2C649.7 1081.9 651.6 1073.4 651.6 1067.3C651.6 1061.3 650.6 1056.4 647.9 1052.8C645.3 1049.1 639.8 1045.1 635.8 1045.5Z"/>
<path fill="#231f20" fill-rule="evenodd" d="M633.3 1046.2L628 1050L623.7 1055.2L620.7 1061.4L619.7 1064.9L618.8 1072.2L620 1079.6L629.3 1110.5L631 1113.4L632.8 1114.8L634.8 1115.1L636.8 1114.5L638.8 1113.1L640.7 1111L643.9 1103.6L650 1080.1L651.6 1067.3L651 1060.6L650.3 1057.7L647.9 1052.8L646 1050.6L641.1 1046.8L638.4 1045.8L635.8 1045.5ZM636.3 1055.3L638.3 1056.2L641.9 1060.1L643.1 1062.5L643.9 1068.3L642.6 1083.8L640.4 1097.9L639.4 1101.3L637.2 1105.8L635.9 1107.1L634.6 1107.3L633.4 1106.1L632.1 1103L629.3 1092.3L627.3 1081.9L626.5 1072.5L627.3 1067.3L628.3 1064.4L631.2 1058.5L632.9 1056.3L634.6 1055.2Z"/>
<path d="M630 1106.4L629.3 1107.7L630 1109.2L631 1109.4L632.5 1108L632.7 1107.1L631.7 1106ZM625.6 1054.3L625.8 1055.8L629.7 1058.1L630.6 1057.7L632.5 1055.2L632.1 1054.1L628.6 1051.5L627.7 1051.8ZM642.6 1098L641.5 1098.2L641.2 1098.7L640 1102.8L640.6 1103.6L642.1 1104.1L642.9 1103.5L644.1 1099.7L643.9 1098.7ZM645.7 1091.1L646.6 1090.3L647.5 1086.2L646.7 1085.5L644 1085.1L643.4 1085.9L642.8 1090.6L643.4 1091.2ZM628.2 1100.5L627.5 1101.7L628.2 1104.4L629 1105.1L630.5 1104.7L631.2 1103.9L630.4 1100.9L629.7 1100.2ZM645.5 1075.5L644.4 1076.4L643.8 1083L644.5 1083.6L647.6 1084.1L648.3 1083.4L649.5 1076.4L648.7 1075.8ZM637.1 1107.4L636.8 1108.5L637.3 1109.3L638.6 1110.3L639.7 1110.3L641.8 1106.2L641.2 1105.4L639.4 1104.8ZM623.6 1068.8L624.2 1070L625.6 1069.9L626.8 1065.9L626.3 1064.7L624.6 1064.9ZM639.6 1054.4L639.2 1055.1L639.5 1056L641.8 1058.1L642.8 1057.9L643.1 1056.9L642.5 1054.6L640.8 1054ZM649.7 1062.4L648.1 1063L647.1 1065.6L647.8 1066.5L649.7 1066.8L650.5 1065.8L650.4 1063.2ZM646.1 1067.4L645.1 1067.8L644.9 1068.4L644.7 1073.5L645.5 1074.1L649.5 1074.4L650.1 1073.6L650.4 1069L649.7 1068.4ZM622.1 1060.7L622.2 1061.6L624 1062.9L627 1063.2L628 1062.6L629.1 1060.1L628.6 1059.2L624.6 1056.8L623.7 1057.3ZM634.9 1112.1L634.6 1113L635.3 1113.8L636.5 1113.5L637.9 1112L636.8 1110.8ZM636.6 1054.3L639.1 1053L639.6 1052.2L639.6 1047.5L638 1046.7L637.1 1046.8L636.5 1047.5L635.5 1053.1L635.9 1054.1ZM643.1 1092.8L642.2 1093.6L641.9 1095.8L642.5 1096.5L644.2 1097L645 1096.3L645.7 1093.4L645.1 1092.7ZM648.3 1057.4L646.5 1058.7L646.7 1059.9L648.1 1061L649.5 1060.7L649.8 1059.7L649.2 1057.7ZM642.6 1049L641.2 1049.3L641 1051.8L641.3 1052.6L643.1 1053.1L645 1051.5L644.6 1050.7ZM621.8 1078.5L621 1079.8L622.6 1084.4L623.5 1084.6L626.2 1083.9L626.5 1083L625.7 1078.3L624.7 1077.9ZM645.4 1060.5L644.4 1060.3L643.7 1061.2L644.6 1064L645.5 1064.4L646.2 1063.8L646.8 1062.1ZM625.5 1072.7L624.9 1071.8L622.7 1070.9L620.3 1071.2L619.8 1072.2L620.5 1076.8L621.4 1077.1L625.2 1076.3ZM624.1 1085.9L623.4 1087.2L624.9 1091.8L625.9 1092.1L627.6 1091.5L627.9 1090.6L626.8 1085.8L625.9 1085.5ZM644.5 1056.5L645.6 1057.3L647.9 1055.7L647.9 1054.7L646.8 1053.1L645.8 1053.1L644.2 1054.3ZM626.3 1093.4L625.6 1094.7L626.6 1098.4L627.3 1099.1L628.8 1098.8L629.5 1097.6L628.7 1093.9L628 1093.2ZM632.7 1052.8L633.6 1052.9L634.3 1052.2L635 1048.3L634.9 1047.8L634 1047.1L631.3 1048.6L630 1049.9L630.3 1050.9ZM620.1 1068.4L620.8 1069.5L621.8 1069.3L622.1 1068.8L623.1 1064.7L622.5 1063.6L621.6 1063.5L621 1064.1Z" fill="#fff"/>
<path fill="#fff" stroke="#231f20" stroke-width="1.2" fill-rule="evenodd" d="M634.6 1055.2L632.9 1056.3L629.6 1061.4L627.3 1067.3L626.5 1072.5L627.3 1081.9L629.3 1092.3L632.1 1103L633.4 1106.1L634.6 1107.3L635.9 1107.1L637.2 1105.8L639.4 1101.3L640.4 1097.9L642.6 1083.8L643.9 1068.3L643.1 1062.5L641.9 1060.1L638.3 1056.2L636.3 1055.3Z"/>
<path stroke-width="1" fill="#231f20" stroke="#231f20" d="M634.6 1062.5C633.3 1063.5 631.2 1068.9 631 1072.2C630.7 1075.4 632.2 1081.1 633.4 1081.9C634.6 1082.7 637.3 1079.7 638.2 1077C639.1 1074.4 639.3 1068.5 638.7 1066.1C638.1 1063.7 635.9 1061.5 634.6 1062.5Z"/>
<path class="fw" stroke-width="2.5" d="M679.5 1040.7C674.2 1040.7 668.1 1045.5 664.9 1050.4C661.7 1055.2 660.1 1062.5 660.1 1069.8C660.1 1077 663.7 1086.7 664.9 1094C666.1 1101.3 668.1 1108.1 667.3 1113.4C666.5 1118.7 661.3 1121.5 660.1 1125.5C658.8 1129.6 658.4 1134.2 660.1 1137.7C661.7 1141.1 666.3 1145.7 669.8 1146.1C673.2 1146.5 678.2 1143.5 680.7 1140.1C683.1 1136.6 683.7 1131.2 684.3 1125.5C684.9 1119.9 682.7 1112.6 684.3 1106.1C685.9 1099.7 691.2 1093.2 694 1086.7C696.8 1080.3 700.9 1073.4 701.3 1067.3C701.7 1061.3 700.1 1054.8 696.4 1050.4C692.8 1045.9 684.7 1040.7 679.5 1040.7Z"/>
<path fill="#231f20" fill-rule="evenodd" d="M676.2 1041.2L673 1042.7L669.9 1044.8L664.9 1050.4L661.8 1057.2L660.2 1065.4L660.4 1074.4L664.9 1094L667.5 1110.1L667.3 1113.4L666.4 1116.3L661.2 1123.2L660.1 1125.5L659 1133.1L660.1 1137.7L661.4 1139.8L665.3 1144L667.6 1145.4L669.8 1146.1L672 1146L676.8 1143.8L680.7 1140.1L681.9 1137.8L683.5 1132.1L684.3 1125.5L683.7 1110.1L684.3 1106.1L685.7 1102.2L692.1 1090.6L697.7 1078.8L700.6 1071.1L701.3 1067.3L700.8 1060L699.8 1056.5L698.4 1053.2L696.4 1050.4L690.4 1045L686.6 1042.8L682.9 1041.2L679.5 1040.7ZM682.5 1050.1L686.3 1051.9L689.2 1055.2L690.1 1057.1L691.4 1061.8L691.6 1067.3L689.2 1076.9L680.5 1101.7L679.5 1106.1L679 1110.7L679.5 1128L677.5 1135.4L675.8 1137.7L674.8 1137.8L672.3 1136.1L671.3 1134.6L671 1132.8L671.4 1130.6L675.1 1121.6L675.8 1118.3L675.9 1110.8L674.6 1098.9L669.8 1079.5L669.6 1068.8L671 1062.5L674.3 1056.5L678.7 1051.6L680.7 1050.4Z"/>
<path d="M667 1094.3L666.2 1095.5L666.8 1098.6L667.4 1099.3L672.5 1098.5L673.2 1097.8L672.5 1094.2L671.9 1093.6ZM668.4 1112.9L669.3 1113.9L674.5 1114.2L675 1113.3L674.6 1108.7L670.8 1107.1L668.7 1107.4L668.3 1108.3ZM678.1 1048.6L678.2 1049.6L679.1 1050L680.3 1048.9L679.4 1047.8ZM660 1131.1L661.1 1132.1L664.5 1130.1L664.5 1129L662.1 1126L661.6 1125.9L660.8 1126.7ZM682.3 1112.5L680.5 1112.6L680.1 1113.5L680.5 1126.5L680.9 1127.3L682 1127.6L683.2 1126.7L683.4 1121.9L682.8 1113.3ZM687.9 1050.7L687.6 1051.7L691.2 1056.8L692.2 1056.9L697.4 1054.7L697.4 1053.6L695.7 1051.1L691.6 1047.4L690.7 1047.7ZM671 1045.3L670.7 1046.8L672.4 1048.5L675.2 1049.4L676.4 1048.9L677 1047.2L675.6 1043.2L674.5 1043.1ZM676.6 1138.3L676.4 1139.5L677.8 1141.2L679.9 1139.4L681.9 1134.8L682.7 1130.1L682.4 1129.2L681.3 1128.9L680.4 1129.3L678.5 1135.8ZM692.6 1058.2L692 1058.9L692.7 1064.5L692 1071.5L692.7 1072.2L698.3 1073.5L699 1072.8L699.6 1070.9L700.3 1067.2L699.8 1060.3L698.9 1057L697.6 1056.3ZM663.6 1058.1L662.4 1058.8L661.8 1061.4L661.2 1065.5L661.2 1070.5L662.1 1071L668 1070.8L668.5 1070L670.1 1060.9L666.8 1058.7ZM667.9 1105L668.6 1105.7L670.1 1105.5L672.2 1101.6L672.1 1100.5L671.1 1100.2L667.7 1101L667.4 1101.9ZM669.8 1047.8L668.3 1047.7L665.8 1050.8L663.5 1055.5L663.8 1056.5L665.8 1057L666.8 1056.5L670.5 1049.7L670.6 1049.2ZM662.7 1122.9L662.7 1124.1L666.3 1129.1L669.7 1130.1L670.5 1129.8L672 1126.6L671.6 1125.4L664.9 1120.9L664 1121.2ZM666 1118.6L666.3 1120L672.4 1124L673.3 1123.4L674.1 1121.4L674.8 1116.2L674 1115.7L668.1 1115.3ZM670.2 1059.2L671.6 1058.9L676 1052.8L676.3 1052.3L675.8 1051.1L672.8 1050.1L671.6 1050.6L668.1 1057.3L668.6 1058.2ZM662.4 1072.4L661.5 1072.9L661.4 1074.2L663.6 1083.7L664.6 1083.9L668.8 1082.8L669.2 1081.9L668.3 1072.8L667.4 1072.3ZM669.8 1134.9L670.2 1134L669.7 1131.6L666.6 1130.9L660.8 1134.1L660.3 1135.1L662.1 1139.2L663.4 1140ZM665 1140.7L664.6 1141.8L664.9 1142.2L667.9 1144.4L669.7 1145.1L671.6 1145L673.9 1144.3L675.7 1143.2L676.3 1142.4L674.5 1139L671.1 1136.4L670 1136.6ZM680.8 1110.4L681.7 1110.9L682.6 1110.5L683.3 1105.9L684.7 1101.9L688.3 1095.2L688.2 1094.1L685.7 1092.9L684.4 1093.5L681.5 1101.9L680.2 1109.2ZM680 1041.8L677.5 1042.2L677.2 1043.2L678.2 1046.1L679.3 1046.2L680.8 1044.5L680.8 1042.6ZM685.5 1048.6L686.3 1049.6L687.2 1049.4L689.4 1047L689.6 1045.9L687.8 1044.6L686.6 1044.8L685.7 1046ZM688.7 1092.7L689.6 1092.6L691.2 1090.2L696.7 1078.5L697.8 1075.5L697.1 1074.7L692.3 1073.6L691.1 1074.3L685.6 1090.3L686.2 1091.6ZM665 1085.3L664.2 1086.5L665.8 1092.6L666.7 1093L671.3 1092L671.6 1090.9L669.6 1084.7L668.7 1084.4ZM674.4 1104.5L673.8 1103.7L672.8 1103.8L672.1 1104.9L672.2 1106L673.1 1106.5L674.1 1106.3Z" fill="#fff"/>
<path fill="#fff" stroke="#231f20" stroke-width="1.2" fill-rule="evenodd" d="M680.7 1050.4L676.5 1053.7L672.4 1059.5L671 1062.5L669.6 1068.8L669.8 1079.5L674.6 1098.9L675.9 1110.8L675.8 1118.3L675.1 1121.6L671.4 1130.6L671 1132.8L671.3 1134.6L672.3 1136.1L674.8 1137.8L675.8 1137.7L677.5 1135.4L679.5 1128L679 1110.7L679.5 1106.1L680.5 1101.7L689.2 1076.9L691.6 1067.3L691.4 1061.8L690.9 1059.3L689.2 1055.2L686.3 1051.9L684.4 1050.7L682.5 1050.1Z"/>
<path stroke-width="1" fill="#231f20" stroke="#231f20" d="M680.7 1057.6C679 1058.8 675.5 1063.7 674.6 1067.3C673.7 1071 673.9 1077.4 675.1 1079.5C676.3 1081.5 680.1 1081.1 681.9 1079.5C683.6 1077.8 685 1073 685.5 1069.8C686 1066.5 685.6 1062.1 684.8 1060.1C684 1058 682.4 1056.4 680.7 1057.6Z"/>
<path class="fw" stroke-width="2.5" d="M723.1 1067.3C719.7 1068.3 713.8 1072.6 711 1077C708.1 1081.5 707.3 1087.1 706.1 1094C704.9 1100.9 705.7 1109.8 703.7 1118.3C701.7 1126.7 693.6 1140.9 694 1144.9C694.4 1149 702.9 1145.3 706.1 1142.5C709.4 1139.7 711.4 1128 713.4 1128C715.4 1128 715.8 1138.9 718.3 1142.5C720.7 1146.1 725.9 1151.8 728 1149.8C730 1147.8 729.6 1137.7 730.4 1130.4C731.2 1123.1 732 1113.8 732.8 1106.1C733.6 1098.4 735.4 1090.2 735.2 1084.3C735 1078.4 733.6 1073.8 731.6 1071C729.6 1068.1 726.5 1066.3 723.1 1067.3Z"/>
<path fill="#231f20" fill-rule="evenodd" d="M720.8 1068.3L715.5 1072L713 1074.4L711 1077L708.4 1082.9L706.1 1094L704.6 1113.1L703.7 1118.3L701.9 1123.9L694.7 1141.4L694 1144.9L695.1 1146.5L697.5 1146.6L700.6 1145.7L706.1 1142.5L707.9 1139.9L712.2 1129.2L713 1128.4L712.2 1125.5L712 1122.4L713.4 1106.1L714 1090L714.6 1086.7L717.2 1081.1L720.5 1077.4L721.9 1077L723.1 1078L725.4 1082.9L726.7 1089.2L726.7 1092.2L724.3 1106.1L721.9 1125.5L721.1 1128L719.1 1131.5L717 1132.8L715.2 1131.9L717 1139.6L718.3 1142.5L720 1144.8L724.4 1149.1L726.4 1150.1L728 1149.8L728.9 1147.7L732.8 1106.1L735.1 1088.1L735 1080.9L733.7 1075.2L732.7 1072.9L730.3 1069.4L727 1067.4L725.1 1067Z"/>
<path d="M710.1 1081.2L708.9 1085.8L709.8 1086.5L712.7 1086.3L712.9 1085.4L712.1 1081.3L711.6 1080.7L711 1080.5ZM700.7 1140.5L697.8 1138.9L696.8 1139L695.6 1141.8L695.4 1145.1L697.6 1145.6L701.6 1144L701.7 1143ZM722 1128.4L722 1129.3L724.8 1134.3L727.8 1135.2L728.9 1134.8L729.4 1129.7L729.1 1128.8L723.2 1127.6ZM727.7 1081.1L726.8 1081.1L726.3 1082.4L727.5 1086.5L728.6 1086.8L731.2 1083.7L730.6 1082.7ZM703.4 1122.6L703.7 1123.6L704.2 1123.9L710.5 1124.5L711.1 1123.5L711.1 1118.5L710.4 1117.9L705.4 1117.2L704.8 1117.9ZM719.2 1140.4L718.9 1141.5L719.6 1142.3L727.9 1141L728.7 1140.1L728.8 1137.3L728.1 1136.7L724.5 1135.9ZM724 1075.9L723.7 1076.8L724.7 1078.6L725.9 1079.1L731.3 1073.8L731.4 1072.6L730.5 1071.3L729.6 1070.9ZM713.6 1081.9L714.2 1082.6L715.2 1082.5L715.6 1080.9L714.9 1080.4L714.2 1080.5ZM717.5 1077.2L718.5 1077.6L721.4 1076L721.6 1075.4L719.3 1071L718.2 1071.1L715.4 1073.6L715.6 1074.5ZM724.5 1113.6L725 1114.5L729.2 1117.4L730.6 1117.1L731.1 1112.6L730.6 1111.6L725.1 1111.9ZM720.8 1070.6L722.9 1074.1L724 1073.9L727.9 1070.4L728 1069.1L724.9 1068.1L721.2 1069.2ZM707.7 1098L706.6 1098.9L706.3 1106.7L707.1 1107.2L711.8 1107.3L712.4 1106.1L712.5 1098.9L711.7 1098.3ZM728.5 1091.6L733.1 1092.5L733.7 1091.7L734.1 1088.1L734.2 1085.3L733.3 1084.2L732.4 1084.6L727.7 1090.5ZM711.6 1096.9L712.6 1095.9L713.1 1088.6L712.2 1088L708.7 1087.9L708.1 1088.6L707 1096L707.9 1096.6ZM703.2 1125.2L702.2 1125.8L701.2 1129.1L707 1133.6L709.2 1133.7L711.7 1128.1L711.2 1126.3ZM707 1108.6L705.9 1109.5L705.4 1115.1L706.2 1115.7L710.9 1116.4L711.5 1115.6L712 1109.3L711.1 1108.8ZM733 1076.3L732.2 1075.6L731.3 1075.9L728.7 1078.6L728.4 1079.5L728.9 1080.2L733 1082.2L734 1081.1ZM723.8 1120.4L724.2 1121.3L725.2 1121.4L728 1120.1L728.5 1118.8L725.7 1116.7L724.7 1116.6L724.2 1117.4ZM722.1 1143.4L721.3 1144.6L722.8 1146.5L725 1148.4L727.1 1148.8L728 1147.3L728.4 1143L727.3 1142.5ZM717.6 1133.7L716.9 1134.8L717.6 1137.9L718.3 1138.6L719.3 1138.4L723.1 1135L721.8 1131.9L721 1131.3ZM712.2 1079.4L713.1 1079.5L715.7 1078.3L715.7 1077.1L714.5 1075.5L713.6 1075.5L711.8 1077.6L711.5 1078.5ZM728.7 1093.1L727.5 1093.9L726.4 1101L727.2 1101.7L731.7 1102.3L732.4 1101.5L733.2 1094.6L732.5 1094ZM702.9 1142.1L703.8 1142.7L705.5 1141.6L707.1 1139.3L708.1 1136.9L708 1135.9L706.5 1135.8L702.4 1139.4L702.2 1140.5ZM726.9 1103.1L725.7 1103.9L725.1 1109.8L726 1110.4L731 1109.9L731.5 1109.1L731.9 1104.4L731.1 1103.8ZM697.7 1136.3L698.2 1137.6L700.9 1138.6L704.9 1135.3L705.2 1134.2L701.3 1131.1L700.2 1131ZM723 1125.1L723.8 1126.3L729.2 1127.1L729.8 1126.3L730.1 1121.8L728.8 1121.3L723.7 1123.7Z" fill="#fff"/>
<path fill="#fff" stroke="#231f20" stroke-width="1.2" fill-rule="evenodd" d="M721.9 1077L720.5 1077.4L717.2 1081.1L714.6 1086.7L714 1090L713.4 1106.1L712 1122.4L712.2 1125.5L713.7 1130L714.8 1131.5L717 1132.8L718 1132.5L720.1 1130L721.9 1125.5L724.3 1106.1L726.7 1092.2L726.7 1089.2L725.4 1082.9L723.1 1078Z"/>
<path stroke-width="1" fill="#231f20" stroke="#231f20" d="M721.9 1084.3C720.3 1085.1 716.4 1090.8 715.8 1094C715.2 1097.2 716.8 1102.9 718.3 1103.7C719.7 1104.5 723.1 1101.3 724.3 1098.9C725.5 1096.4 725.9 1091.6 725.5 1089.2C725.1 1086.7 723.5 1083.5 721.9 1084.3Z"/>
</g>
<!-- 50_anth.svg -->
<g id="50_anth">
<path stroke-width="4.0" fill="#fff" stroke="#231f20" stroke-linejoin="round" stroke-linecap="round" d="M917.4 904.9C917.6 904.7 925.8 914.1 929.4 916.9C933 919.7 940.6 924.3 944.4 925.9C948.2 927.5 954.5 929.3 957.9 928.9C961.3 928.5 966.7 925.3 969.9 922.9C973.1 920.5 979.5 914.3 981.9 910.9C984.3 907.5 987 901.2 987.8 897.4C988.7 893.6 988.3 886 988.1 882.4C988 878.9 985.9 873.5 986.6 870.5C987.4 867.5 991.7 861.8 993.8 860C996 858.2 1000.6 856.8 1002.8 857C1005 857.2 1008.9 859.1 1010.3 861.5C1011.7 863.9 1013.1 871.2 1013.3 875C1013.5 878.8 1012.8 885.9 1011.8 889.9C1010.8 893.9 1007.8 900.9 1005.8 904.9C1003.8 908.9 999.6 916.3 996.8 919.9C994 923.5 988 929.3 984.9 931.9C981.7 934.5 975.5 938.2 972.9 939.4C970.3 940.6 967.4 941.5 965.4 940.9C963.4 940.3 960.9 936.5 957.9 934.9C954.9 933.3 946.9 931.1 942.9 928.9C938.9 926.7 931.3 921.6 927.9 918.4C924.5 915.2 917.2 905.1 917.4 904.9Z"/>
<path fill="#231f20" stroke="#231f20" stroke-width="2.5" fill-rule="evenodd" d="M917.4 904.2L919 906.9L922 910.2L933 919.3L940.7 924.1L951.3 928.3L957.9 928.9L961.1 928L964.3 926.5L974.7 919.1L976.5 917.1L977.4 915.4L976.9 913.9L975.5 912.4L973.5 911.3L971.4 910.9L969.1 911.5L963.6 914.3L958.3 916.1L953 917L947.7 916.3L939.9 912.4L935.1 908.8L930.9 904.9L926.5 898.3L924.9 897.4L922.7 898L920.1 899.6L918 901.7Z"/>
<path d="M956.1 921.6h0M931.1 910.9h0M920.4 905.1h0M931.3 912h0M925.7 908.4h0M960.1 919.3h0M959 918.3h0M963.7 922.5h0M969.6 920.2h0M968.1 921.9h0M928.4 906.6h0M941.4 915.4h0" fill="none" stroke="#fff" stroke-width="1.4" stroke-linecap="round"/><path d="M944.3 919.6h0M966.8 914.8h0M966.3 918.1h0M936.1 915.7h0M947.9 921.3h0M934.2 914.6h0M953.5 922.4h0" fill="none" stroke="#fff" stroke-width="2" stroke-linecap="round"/><path d="M924.1 899.5h0M920.7 905.7h0M975.1 915.9h0M920.3 905.4h0M964.4 922.4h0M937.2 912.4h0M937.1 917h0" fill="none" stroke="#fff" stroke-width="2.6" stroke-linecap="round"/>
<path class="ln" stroke-width="4.0" d="M924.9 872.7C926.2 871.8 929.4 867.6 932.4 867.5C935.4 867.3 939.9 869.2 942.9 872C945.9 874.7 948.7 879.7 950.4 883.9C952.1 888.2 953.1 893.2 953.4 897.4C953.6 901.7 952.1 907.4 951.9 909.4"/>
<path class="ln" stroke-width="3.6" d="M923.7 887.7C924.2 886.8 925.5 883.5 926.7 882.4C928 881.4 929.7 880.2 931.2 881.2C932.7 882.2 934.7 885.5 935.7 888.4C936.7 891.4 936.5 895.6 937.2 898.9C937.9 902.3 939.5 907 939.9 908.7"/>
<path class="ln" stroke-width="3.4" d="M924.9 872.7C924.7 873.1 923.2 874.2 923.4 875C923.7 875.7 925.9 876.8 926.4 877.2"/>
<path class="ln" stroke-width="3.4" d="M902.5 905.7C901.7 905.3 898.6 905 897.7 903.7C896.7 902.5 896.2 899.7 896.8 898.2C897.3 896.6 899.4 894.7 901 894.4C902.5 894.2 904.5 895.6 906.2 896.7C908 897.8 909.6 899.8 911.5 901.2C913.3 902.5 916.4 904.3 917.4 904.9"/>
<path class="ln" stroke-width="3.0" d="M993.8 872C994.8 872.5 998.3 872.5 999.8 875C1001.3 877.5 1002.8 882.4 1002.8 886.9C1002.8 891.4 1001.6 897.2 999.8 901.9C998.1 906.7 995.3 911.4 992.3 915.4C989.3 919.4 985.6 922.6 981.9 925.9C978.1 929.1 971.9 933.4 969.9 934.9"/>
<path class="ln" stroke-width="2.6" d="M990.8 866C991.6 865.5 993.6 863.2 995.3 863C997.1 862.7 1000.3 864.2 1001.3 864.5"/>
<path stroke-width="3.6" fill="#fff" stroke="#231f20" stroke-linejoin="round" stroke-linecap="round" d="M912.2 943.9C914.5 943.4 923.9 952.3 929.4 955.8C935 959.4 946.2 965.5 951.9 969.3C957.6 973.1 966.1 979.2 969.9 982.8C973.6 986.4 977 991 978.9 994.8C980.7 998.6 983.1 1005.6 983.4 1009.8C983.6 1014 982 1020.8 980.4 1024.7C978.7 1028.7 974.5 1035.5 971.4 1038.2C968.2 1041 961.9 1043.8 957.9 1044.2C953.9 1044.6 946.9 1042.9 942.9 1041.2C938.9 1039.5 932.6 1035.6 929.4 1032.2C926.3 1028.9 922.4 1022.1 920.4 1017.3C918.5 1012.4 916.1 1003.4 915.2 997.8C914.3 992.1 914 982.3 913.7 976.8C913.4 971.4 913.2 963.5 913 958.8C912.7 954.2 909.9 944.3 912.2 943.9Z"/>
<path d="M917 954.5h0M954.5 1004.5h0M943.5 972.1h0M974.1 1022.7h0M964.6 1014.9h0M944.6 997.2h0M947.3 1026.1h0M937.3 1031h0M978.4 1014.1h0M947.6 996h0M969.1 1016h0M920.4 996.4h0M942 1015.1h0M972 1014h0M945.4 968h0M958.2 976.7h0M920.2 989.3h0M953.1 984h0M915.5 961.8h0M947.8 1040.7h0M930.3 1003h0M929 967.2h0M934.3 1007.9h0M948.6 1034.7h0M970.5 1010.8h0M941.2 992.9h0M938.6 1036h0M939.9 990.8h0M921.5 958h0M956.9 1038.4h0M975.8 1002.5h0M917.8 954.6h0M958.9 1011.7h0M943.1 996.6h0M920.8 998.2h0M977.9 1018.8h0M953.8 1030.9h0M964 1009.5h0M965.1 1028.1h0M928.5 1005.9h0M957.5 1024.6h0M963.9 1002.6h0M926.2 1023.5h0M951.8 991.1h0M936 971.9h0M943.4 1029.8h0M946.2 998h0M957.7 984h0M956.4 983.9h0M934.2 968.7h0M943.3 974.3h0M940.5 1025.3h0M936.5 1030.6h0M958.9 981.6h0M945.7 1032h0M922.9 965.9h0M930 969.4h0M938.6 1020h0M917.4 960.2h0M934.8 1026.7h0M949.9 1040.8h0M944.2 985.8h0M918.5 975.7h0M925 960.4h0M929.7 992.5h0M920.6 966.7h0M971.7 1033.1h0M962.1 995h0M938.9 974.9h0M942.6 987.4h0M940.3 1022.8h0M945.4 973.6h0M960.8 1009.5h0M927 965h0M926.5 956.7h0M956.5 998.5h0M927.4 1025.4h0M941.3 986.2h0M962.3 990h0M935.9 997.9h0M965.8 1012.8h0M966.8 989.3h0M926.2 992h0M926.3 991.4h0M934.2 966.2h0M961.1 996.6h0M949.8 1005.4h0M920.2 999.9h0M974.3 995.2h0M948.5 997h0M940.7 1034.1h0M944.5 982.1h0M943 1037.5h0M967.7 1008.4h0M921.9 980h0M943.3 990.9h0M933.8 1026.9h0M952 1012.2h0M944.7 1010h0M944.6 1037.7h0M954 1006.2h0M944.2 1038.7h0M960.6 981.1h0M968.3 985.4h0M958.9 1010.3h0M954.4 1016.7h0M972.8 1007.6h0M933.9 1026h0M944.9 973.1h0M926.7 1013.5h0M976.2 1027.3h0M968.1 1030.6h0M944.1 1038.4h0" fill="none" stroke="#231f20" stroke-width="1.1" stroke-linecap="round"/><path d="M970.1 1016.9h0M942.5 984.1h0M939.1 1031.9h0M949 1000.1h0M946.6 1035h0M962.5 993h0M928.3 977.5h0M934.4 966.3h0M948.1 1035.9h0M925.7 1012.7h0M920.9 978.7h0M954.5 986.6h0M919.7 1007.2h0M929 989h0M948.7 990.9h0M978.8 1016.2h0M954.8 974.1h0M927.4 1002.8h0M962.5 994.1h0M937.6 990.2h0M978.3 1023.5h0M976.7 1026.5h0M946.5 971.2h0M942.3 1011.5h0M919.7 995.9h0M925.5 995.3h0M962.9 1004.5h0M942.8 970.7h0M946.3 1026.6h0M925 1018.3h0M966.7 985.1h0M959.2 1021.9h0M949.9 983h0M967.6 1006.6h0M944.4 968.6h0M920 969.2h0M930.2 979.2h0M948.8 1027.4h0M954.8 984.2h0M945.5 1005.8h0M953.9 1002.7h0M959.5 1034.1h0M920.4 980h0M959.7 1030.3h0M922.7 993.5h0M916.8 967h0M939 1006.1h0M928.8 1013.8h0M955.8 1017.5h0M961.1 991.9h0M969.3 1026.5h0M944.8 974.3h0M939.9 996.7h0M944.2 979.5h0M945.4 970.8h0M952.3 976h0M924.8 1004.4h0M955.2 1009.5h0M934.9 970.9h0M943.2 986.6h0M953.3 1034h0M957.2 993.9h0M967.8 1034.2h0M923.5 975.1h0M927 1013.8h0M972.8 1003.1h0M922.6 1005.9h0M939.9 988.2h0M927.9 967.8h0M961.4 984.9h0M961.2 1016.8h0M934.4 1009.7h0M945.4 1036.9h0M976.1 1004.5h0M942.9 986.6h0M947.3 973.3h0M921.8 987.3h0M924.3 1003.4h0M928.1 1018.3h0M930 1014.6h0M938.1 1027.6h0M947.6 1032.4h0M923.2 1010.1h0M975.3 1001h0M966.6 1032.3h0M935.7 992.2h0M929.7 1027.4h0M972 1002.7h0M937.9 963.6h0M926.6 964.1h0" fill="none" stroke="#231f20" stroke-width="1.7" stroke-linecap="round"/><path d="M977.9 998.5h0M915.6 949h0M944.9 976.9h0M963.2 1033.3h0M965.2 1022.1h0M951.9 1034.6h0M957.6 1002.7h0M924.9 1010.9h0M955.1 1017.5h0M965.4 1017.3h0M974.7 1018.8h0M955.7 1023.1h0M942 996.8h0M920 963.8h0M942.8 995.4h0M941.7 996.7h0M920.1 975.7h0M918.2 973.6h0M926.3 1001.2h0M964.6 984.2h0M958.1 1020.9h0M949.1 992.1h0M933.4 968.6h0M923.2 986.3h0M933.4 968.6h0M961.1 985.1h0M946.1 985.2h0M961.6 1036.2h0M961.3 991.7h0M940.6 1010.3h0M979.8 1007.2h0M961.7 1031h0M922.6 1005.1h0M958.1 1018.7h0M946.3 1011.1h0M924.3 982.9h0M944.9 974.6h0M934.2 1008.6h0M957.2 1022.7h0M949.3 1027.9h0M939 981.3h0M943.3 1007.7h0M926.1 1011.4h0M938.7 980.5h0M968.3 1007h0M976.3 994.5h0M960.2 1037.3h0M963.8 1018.4h0M933.1 1006h0M937.1 980.8h0M965.1 988.2h0M932.6 1007.5h0M923.5 976.7h0M930.3 986.7h0M954.8 978.6h0M971.2 987.6h0M936.2 1020h0M979.4 1008.6h0M969.2 996.5h0M922.2 957.5h0M968.5 1000.3h0M952.7 1008.2h0M974.7 1000.9h0M973.5 1011.8h0M926.7 976.4h0M923.5 1004.5h0M929.2 966.8h0M945.6 982.8h0M949.5 1024.7h0M948 996.2h0M966.5 1002h0M922.9 977.2h0M957.2 1036.7h0M937.4 979h0M956.5 1023.5h0M936.4 1026.7h0M950 1004.8h0M930 1021.9h0M929.1 964.6h0M948.4 988.5h0M979.8 1007.5h0M942 972.2h0M951.1 997.6h0M964.6 986.6h0M964.1 1009h0M955.2 1019.8h0M957.4 985.5h0M940.8 1008.4h0M954.1 984.9h0M951.9 1016h0M947.5 1001.3h0M929.7 1024.2h0M940.8 991.7h0M955.1 1022.2h0M922.3 966.5h0M940.1 1026.6h0M934 1001.1h0" fill="none" stroke="#231f20" stroke-width="2.3" stroke-linecap="round"/>
<path class="ln" stroke-width="7" d="M942.9 979.8C941.7 980.3 936.8 981.3 935.4 982.8C934 984.3 933.9 987.2 934.7 988.8C935.4 990.4 939 991.9 939.9 992.5"/>
<path class="ln" stroke-width="11" d="M923.4 1002.3C924.4 1003.3 927.9 1007.8 929.4 1008.3C930.9 1008.8 931.9 1005.8 932.4 1005.3"/>
<path class="ln" stroke-width="10" d="M945.9 1000.8C945.7 1002 944 1006.3 944.4 1008.3C944.8 1010.3 947.5 1012 948.2 1012.8"/>
<path class="ln" stroke-width="3" d="M951.9 1000.8L950.4 996.3"/>
<path class="ln" stroke-width="8" d="M963.9 1000.8C964.3 1002 965.4 1006.5 966.1 1008.3C966.9 1010 968 1010.8 968.4 1011.3"/>
<path class="ln" stroke-width="3" d="M969.9 997.8L966.9 994.8"/>
<path class="ln" stroke-width="7" d="M956.4 1024.7C957.1 1025.5 959.1 1028.9 960.9 1029.2C962.6 1029.6 965.9 1027.4 966.9 1027"/>
<path class="ln" stroke-width="6" d="M945.9 1035.2C946.9 1035.9 949.9 1038.6 951.9 1039C953.9 1039.3 956.9 1037.7 957.9 1037.5"/>
<path class="ln" stroke-width="5" d="M936.9 1027.7L939.9 1030.7"/>
<path class="ln" stroke-width="4" d="M929.4 1020.2L926.4 1024.7"/>
<circle cx="931.7" cy="1009" r="1.5" fill="#fff"/>
<circle cx="966.1" cy="1009.8" r="2.1" fill="#fff"/>
<circle cx="968.4" cy="1027" r="1.8" fill="#fff"/>
<circle cx="937.7" cy="1030" r="1.5" fill="#fff"/>
<path stroke-width="3.3" fill="#fff" stroke="#231f20" stroke-linejoin="round" stroke-linecap="round" d="M1043.3 935.6C1040.1 936.3 1033.2 939.3 1029.8 942.4C1026.4 945.4 1023.5 951.6 1020.8 955.8C1018.1 960.1 1014.5 967 1011.8 970.8C1009.1 974.6 1006 980 1002.8 981.3C999.7 982.7 994.4 979.4 990.8 979.8C987.2 980.3 980 981.8 978.9 984.3C977.7 986.8 982.5 992.5 983.4 996.3C984.3 1000.1 984.9 1005.5 984.9 1009.8C984.9 1014 983.8 1020.5 983.4 1024.7C982.9 1029 981.2 1035.5 981.9 1038.2C982.5 1040.9 985.6 1042.9 987.8 1042.7C990.1 1042.5 994.8 1039 996.8 1036.7C998.9 1034.5 999.3 1030 1001.3 1027.7C1003.3 1025.5 1007.6 1021.7 1010.3 1021.7C1013 1021.7 1015.9 1026.2 1019.3 1027.7C1022.7 1029.3 1029.2 1032.2 1032.8 1032.2C1036.4 1032.2 1041.2 1029.5 1043.3 1027.7C1045.3 1025.9 1046.9 1022.5 1046.3 1020.2C1045.6 1018 1041.7 1014.6 1038.8 1012.8C1035.9 1011 1029.7 1009.6 1026.8 1008.3C1023.9 1006.9 1018.9 1005.3 1019.3 1003.8C1019.8 1002.2 1026 999.6 1029.8 997.8C1033.6 996 1040.3 994 1044.8 991.8C1049.3 989.5 1056.1 985.7 1059.7 982.8C1063.3 979.9 1066.9 975.5 1068.7 972.3C1070.5 969.2 1072.2 964.8 1071.7 961.8C1071.3 958.9 1067.8 955.5 1065.7 952.8C1063.7 950.1 1060.5 946.1 1058.2 943.9C1056 941.6 1053 939.1 1050.8 937.9C1048.5 936.6 1046.4 934.9 1043.3 935.6Z"/>
<ellipse cx="1035.8" cy="956.6" rx="4.8" ry="1.9" transform="rotate(-35 1035.8 956.6)" fill="#fff" stroke="#231f20" stroke-width="2"/>
<ellipse cx="1022.3" cy="971.6" rx="4.8" ry="1.9" transform="rotate(-30 1022.3 971.6)" fill="#fff" stroke="#231f20" stroke-width="2"/>
<ellipse cx="1032.8" cy="974.6" rx="4.8" ry="1.9" transform="rotate(-30 1032.8 974.6)" fill="#fff" stroke="#231f20" stroke-width="2"/>
<ellipse cx="1055.2" cy="975.3" rx="4.8" ry="1.9" transform="rotate(-20 1055.2 975.3)" fill="#fff" stroke="#231f20" stroke-width="2"/>
<ellipse cx="1022.3" cy="990.3" rx="4.8" ry="1.9" transform="rotate(-20 1022.3 990.3)" fill="#fff" stroke="#231f20" stroke-width="2"/>
<ellipse cx="1002.1" cy="997.8" rx="4.8" ry="1.9" transform="rotate(-50 1002.1 997.8)" fill="#fff" stroke="#231f20" stroke-width="2"/>
<ellipse cx="999.8" cy="1017.3" rx="4.8" ry="1.9" transform="rotate(-40 999.8 1017.3)" fill="#fff" stroke="#231f20" stroke-width="2"/>
<ellipse cx="1017.8" cy="1013.5" rx="4.8" ry="1.9" transform="rotate(20 1017.8 1013.5)" fill="#fff" stroke="#231f20" stroke-width="2"/>
<ellipse cx="987.8" cy="1038.2" rx="4.8" ry="1.9" transform="rotate(-50 987.8 1038.2)" fill="#fff" stroke="#231f20" stroke-width="2"/>
<path stroke-width="3.0" fill="#fff" stroke="#231f20" stroke-linejoin="round" stroke-linecap="round" d="M1049.3 952.8C1049.5 951.1 1052 948.9 1053.8 948.4C1055.5 947.9 1058 948.6 1059.7 949.9C1061.5 951.1 1064.5 954.1 1064.2 955.8C1064 957.6 1060.2 959.8 1058.2 960.3C1056.2 960.8 1053.8 960.1 1052.3 958.8C1050.8 957.6 1049 954.6 1049.3 952.8Z"/>
<path class="ln" stroke-width="3.0" d="M1058.2 943.9C1059.5 945.4 1063.5 949.6 1065.7 952.8C1068 956.1 1069.5 961.3 1071.7 963.3C1074 965.3 1077.5 966.1 1079.2 964.8C1081 963.6 1082.5 958.8 1082.2 955.8C1082 952.8 1079.2 949.9 1077.7 946.9C1076.2 943.9 1073.7 940.9 1073.2 937.9C1072.7 934.9 1074.5 930.4 1074.7 928.9"/>
<path stroke-width="3.2" fill="#fff" stroke="#231f20" stroke-linejoin="round" d="M914.5 1032C909.5 1032.6 903.7 1039.4 900.6 1043.1C897.5 1046.9 894.1 1053.6 893.7 1057C893.2 1060.5 895.5 1065 897.8 1065.9C900.1 1066.9 904.8 1064.8 909 1063.2C913.1 1061.5 921.8 1055.2 925.7 1054.8C929.5 1054.4 933.6 1057.5 934.6 1060.4C935.5 1063.3 930.9 1071.4 931.8 1074.3C932.6 1077.2 936.8 1079.9 940.1 1079.9C943.5 1079.9 950.8 1077.2 954 1074.3C957.3 1071.4 959.8 1060.8 961.8 1060.4C963.8 1060 966.1 1071.2 967.4 1071.5C968.7 1071.8 970.7 1066.4 970.7 1062.6C970.7 1058.9 970 1049.7 967.4 1046.5C964.8 1043.2 958.5 1042 953.5 1040.9C948.5 1039.8 939.8 1040.3 934 1039C928.2 1037.6 919.5 1031.4 914.5 1032Z"/>
<path class="ln" stroke-width="1.4" d="M912.6 1043.7L915.9 1039.5L919.3 1039.8L915.9 1044Z"/>
<path class="ln" stroke-width="1.4" d="M902.8 1058.4L906.2 1054.3L909.5 1054.5L906.2 1058.7Z"/>
<path class="ln" stroke-width="1.4" d="M937.6 1060.4L941 1056.2L944.3 1056.5L941 1060.7Z"/>
<path class="ln" stroke-width="4.2" d="M970.2 1034.8C971.1 1036.2 973.9 1040.3 975.7 1043.1C977.6 1045.9 979 1048.7 981.3 1051.5C983.6 1054.3 987.1 1057.3 989.7 1059.8C992.2 1062.4 995.4 1065.6 996.6 1066.8"/>
<path class="ln" stroke-width="2.3" d="M981.3 1034.8C982.2 1035.7 985.2 1040.3 986.9 1040.3C988.5 1040.3 991 1036.6 991 1034.8C991 1032.9 987.6 1030.1 986.9 1029.2"/>
<path class="ln" stroke-width="2.6" d="M911.7 1071C911.3 1073.3 907.6 1081.6 909 1084.9C910.3 1088.1 915.9 1090 920.1 1090.4C924.3 1090.9 928.9 1086.3 934 1087.7C939.1 1089 945.6 1096.9 950.7 1098.8C955.8 1100.6 960.9 1100.6 964.6 1098.8C968.3 1096.9 969.7 1090.9 973 1087.7C976.2 1084.4 980.8 1081.6 984.1 1079.3C987.3 1077 991 1074.7 992.4 1073.7"/>
<path class="ln" stroke-width="2.6" d="M1025.8 1051.5C1027.7 1050.6 1033.2 1046.4 1037 1045.9C1040.7 1045.4 1043.9 1048.7 1048.1 1048.7C1052.3 1048.7 1059.7 1046.4 1062 1045.9"/>
<path class="ln" stroke-width="2.6" d="M1037 1059.8C1037.9 1061.7 1040.7 1067.2 1042.5 1071C1044.4 1074.7 1047.2 1080.2 1048.1 1082.1"/>
<path stroke-width="3.0" fill="#fff" stroke="#231f20" stroke-linejoin="round" d="M995.2 1072.3C993.4 1074.2 991.5 1080.5 992.4 1084.9C993.4 1089.3 997.1 1093.9 1000.8 1098.8C1004.5 1103.7 1009.6 1110.6 1014.7 1114.1C1019.8 1117.6 1026.8 1120.1 1031.4 1119.7C1036 1119.2 1040.4 1115.2 1042.5 1111.3C1044.6 1107.4 1045.3 1100.9 1043.9 1096C1042.5 1091.1 1038.6 1085.3 1034.2 1082.1C1029.8 1078.8 1022.6 1077.9 1017.5 1076.5C1012.4 1075.1 1007.3 1074.4 1003.6 1073.7C999.9 1073 997.1 1070.5 995.2 1072.3Z"/>
<path class="ln" stroke-width="2.3" d="M1003.6 1082.1C1002.6 1084.2 1006.1 1091.6 1009.1 1096C1012.1 1100.4 1017.5 1106.2 1021.7 1108.5C1025.8 1110.8 1031.6 1111.5 1034.2 1109.9C1036.7 1108.3 1037.9 1102.3 1037 1098.8C1036 1095.3 1032.3 1091.6 1028.6 1089C1024.9 1086.5 1018.9 1084.6 1014.7 1083.5C1010.5 1082.3 1004.5 1080 1003.6 1082.1Z"/>
<path stroke-width="2.2" fill="#fff" stroke="#231f20" stroke-linejoin="round" d="M1016.1 1090.4C1015.9 1092.1 1019.6 1098.3 1021.7 1100.2C1023.7 1102 1027.2 1102.5 1028.6 1101.6C1030 1100.6 1030.9 1096.5 1030 1094.6C1029.1 1092.8 1025.4 1091.1 1023 1090.4C1020.7 1089.7 1016.3 1088.8 1016.1 1090.4Z"/>
<path d="M1005.4 1077.9h0M1013.3 1080.2h0M1039 1109.2h0M1031.5 1083.2h0M1020.2 1085.7h0M1002.2 1078h0M1034.6 1109.5h0M1009 1101.4h0M1029.8 1111.6h0M1023.6 1103.4h0M1018.7 1081.2h0M1039.8 1112.1h0M1020.8 1086.7h0M1038.6 1098.9h0M1037.3 1111.3h0M1018.8 1091.8h0M1023.3 1092.6h0M1001.7 1086.9h0M1007.6 1097.3h0M1017 1088.6h0M1014.1 1082.3h0M1024.9 1085.7h0M1011.3 1106.8h0M1009.5 1098.3h0M996.8 1083.5h0M1031.5 1100.9h0M1005.4 1088.1h0M1002.5 1093.9h0M1030 1116.3h0M994.6 1086.2h0M1041.4 1108.1h0M1024.3 1110h0M1008.2 1081.8h0M1015.6 1079.4h0M995.9 1080.9h0M1032.4 1089.5h0M1008.1 1077.6h0M1004 1075.9h0M996.5 1080.8h0M1031.9 1091.6h0M1005.7 1091.7h0M1034.7 1095.6h0M995.3 1084.7h0M1005.7 1082.6h0M1000.7 1075.6h0" fill="none" stroke="#231f20" stroke-width="1.6" stroke-linecap="round"/>
<path stroke-width="3.0" fill="#fff" stroke="#231f20" stroke-linejoin="round" d="M1059.2 1071C1056.7 1073.3 1053.4 1079.8 1052.3 1084.9C1051.1 1090 1050.6 1096.9 1052.3 1101.6C1053.9 1106.2 1058.5 1111.8 1062 1112.7C1065.5 1113.6 1070.6 1110.8 1073.1 1107.1C1075.7 1103.4 1077.1 1095.5 1077.3 1090.4C1077.5 1085.3 1076.1 1079.8 1074.5 1076.5C1072.9 1073.3 1070.1 1071.9 1067.6 1071C1065 1070 1061.8 1068.6 1059.2 1071Z"/>
<path class="ln" stroke-width="2.3" d="M1062 1079.3C1060.3 1081.6 1057.8 1089 1057.8 1093.2C1057.8 1097.4 1060.1 1103.2 1062 1104.3C1063.9 1105.5 1067.5 1103 1069 1100.2C1070.4 1097.4 1071 1091.1 1070.9 1087.7C1070.8 1084.2 1069.6 1080.7 1068.1 1079.3C1066.6 1077.9 1063.7 1077 1062 1079.3Z"/>
<path stroke-width="2.2" fill="#fff" stroke="#231f20" stroke-linejoin="round" d="M1064.2 1086.3C1063.4 1087.4 1062.2 1094.1 1062.6 1096C1062.9 1097.9 1065.3 1098.6 1066.2 1097.4C1067 1096.2 1067.9 1090.9 1067.6 1089C1067.2 1087.2 1065.1 1085.1 1064.2 1086.3Z"/>
<path stroke-width="3.0" fill="#fff" stroke="#231f20" stroke-linejoin="round" d="M1070.3 1020.9C1067.6 1023.7 1064.8 1028.8 1064.8 1034.8C1064.8 1040.8 1067.1 1050.1 1070.3 1057C1073.6 1064 1080.1 1073.7 1084.3 1076.5C1088.4 1079.3 1092.6 1077 1095.4 1073.7C1098.2 1070.5 1099.8 1063.5 1101 1057C1102.1 1050.6 1103.3 1040.8 1102.3 1034.8C1101.4 1028.8 1098.9 1023.7 1095.4 1020.9C1091.9 1018.1 1085.7 1018.1 1081.5 1018.1C1077.3 1018.1 1073.1 1018.1 1070.3 1020.9Z"/>
<path class="ln" stroke-width="2.3" d="M1075.9 1029.2C1073.8 1032 1073.6 1037.6 1074.5 1043.1C1075.4 1048.7 1078.7 1058.7 1081.5 1062.6C1084.3 1066.6 1088.9 1068.6 1091.2 1066.8C1093.5 1064.9 1094.7 1056.8 1095.4 1051.5C1096.1 1046.1 1096.8 1039 1095.4 1034.8C1094 1030.6 1090.3 1027.4 1087 1026.4C1083.8 1025.5 1078 1026.4 1075.9 1029.2Z"/>
<path stroke-width="2.2" fill="#231f20" stroke="#231f20" stroke-linejoin="round" d="M1080.1 1036.2C1078.7 1038 1080.1 1044.8 1081.5 1048.7C1082.9 1052.6 1086.8 1059.8 1088.4 1059.8C1090.1 1059.8 1091 1052.4 1091.2 1048.7C1091.4 1045 1091.7 1039.7 1089.8 1037.6C1088 1035.5 1081.5 1034.3 1080.1 1036.2Z"/>
<path d="M1087.6 1056.3h0M1091.1 1064.2h0M1089.9 1063.4h0M1094 1052.6h0M1084.5 1036.8h0M1086 1049.7h0M1075.3 1035.6h0M1090.5 1033.4h0M1091.1 1032.6h0M1087.5 1032.1h0M1079.3 1035.6h0M1085.9 1053.8h0M1088.9 1065.1h0M1093 1038.8h0M1082.3 1033.6h0M1078 1029.7h0M1081.1 1050.8h0M1081.9 1039.3h0M1091.5 1046h0M1081.4 1046h0M1089.2 1029.3h0M1090.1 1060.3h0M1082.4 1049.9h0M1082 1041.1h0M1085.6 1057.6h0M1091.1 1060.9h0M1076.9 1040.5h0M1087.3 1063.2h0M1086 1039.4h0M1081.4 1034.1h0" fill="none" stroke="#fff" stroke-width="1.6" stroke-linecap="round"/>
<path stroke-width="3.0" fill="#fff" stroke="#231f20" stroke-linejoin="round" d="M1103.7 979.1C1101.7 981.9 1099.6 990.3 1099.6 995.8C1099.6 1001.4 1101.4 1008.6 1103.7 1012.5C1106.1 1016.5 1111.1 1020.4 1113.5 1019.5C1115.9 1018.6 1117.5 1012.3 1118.2 1007C1118.9 1001.6 1118.7 992.1 1117.7 987.5C1116.6 982.8 1114.4 980.5 1112.1 979.1C1109.8 977.7 1105.8 976.3 1103.7 979.1Z"/>
<path class="ln" stroke-width="2.3" d="M1106.5 987.5C1105.1 989.3 1104.6 997.4 1105.1 1001.4C1105.7 1005.3 1108.4 1010.7 1109.9 1011.1C1111.3 1011.6 1113.2 1007.7 1113.8 1004.2C1114.4 1000.7 1114.7 993 1113.5 990.3C1112.3 987.5 1107.9 985.6 1106.5 987.5Z"/>
<path stroke-width="2.2" fill="#231f20" stroke="#231f20" stroke-linejoin="round" d="M1107.9 994.4C1107.2 995.6 1106.8 1000.9 1107.4 1002.8C1107.9 1004.6 1110.3 1006.7 1111 1005.6C1111.7 1004.4 1112 997.7 1111.5 995.8C1111 994 1108.6 993.3 1107.9 994.4Z"/>
<path stroke-width="3.0" fill="#fff" stroke="#231f20" stroke-linejoin="round" d="M932.6 1097.4C930.5 1099.2 928.9 1104.8 929 1108.5C929.1 1112.2 931.1 1117.1 933.4 1119.7C935.8 1122.2 940 1124.3 942.9 1123.8C945.8 1123.4 949.6 1120.1 950.7 1116.9C951.8 1113.6 950.8 1107.6 949.3 1104.3C947.8 1101.1 944.6 1098.6 941.8 1097.4C939 1096.2 934.7 1095.5 932.6 1097.4Z"/>
<path class="ln" stroke-width="2.3" d="M936.2 1104.3C934.6 1105.5 934 1110.4 934.6 1112.7C935.1 1115 937.8 1118 939.6 1118.3C941.3 1118.5 944.3 1116.2 945.1 1114.1C946 1112 946.1 1107.4 944.6 1105.7C943.1 1104.1 937.9 1103.2 936.2 1104.3Z"/>
<path stroke-width="2.2" fill="#231f20" stroke="#231f20" stroke-linejoin="round" d="M938.2 1108.5C937.5 1109.3 937.6 1113 938.2 1114.1C938.8 1115.2 941.1 1115.7 941.8 1114.9C942.5 1114.1 943 1110.4 942.3 1109.4C941.7 1108.3 938.9 1107.7 938.2 1108.5Z"/>
<path stroke-width="3.0" fill="#fff" stroke="#231f20" stroke-linejoin="round" d="M970.2 1107.1C968.2 1109.2 966.7 1113.7 967.4 1116.9C968.1 1120 971.3 1124.4 974.3 1126.1C977.4 1127.7 982.5 1127.9 985.5 1126.6C988.5 1125.3 992 1121.3 992.4 1118.3C992.9 1115.2 990.5 1110.8 988.3 1108.5C986 1106.2 982.1 1104.6 979.1 1104.3C976.1 1104.1 972.1 1105 970.2 1107.1Z"/>
<path class="ln" stroke-width="2.3" d="M974.3 1111.3C973.4 1112.8 972.7 1116.4 973.5 1118.3C974.3 1120.1 976.9 1122.2 979.1 1122.4C981.2 1122.7 985.4 1121.3 986.3 1119.7C987.2 1118 985.8 1114.4 984.6 1112.7C983.4 1111 980.8 1109.6 979.1 1109.4C977.4 1109.1 975.3 1109.8 974.3 1111.3Z"/>
<path stroke-width="2.2" fill="#fff" stroke="#231f20" stroke-linejoin="round" d="M978 1114.1C977.5 1114.9 978.3 1118.2 979.1 1118.8C979.9 1119.4 982.2 1118.5 982.7 1117.7C983.2 1116.9 982.6 1114.7 981.9 1114.1C981.1 1113.5 978.4 1113.3 978 1114.1Z"/>
<path class="ln" stroke-width="2.9" d="M889.5 1096C891.8 1097.9 897.4 1103 903.4 1107.1C909.4 1111.3 918.2 1116.4 925.7 1121C933.1 1125.7 941 1130.3 947.9 1135C954.9 1139.6 960.4 1145.6 967.4 1148.9C974.3 1152.1 981.3 1154.2 989.7 1154.4C998 1154.7 1008.7 1150.7 1017.5 1150.3C1026.3 1149.8 1035.6 1149.1 1042.5 1151.7C1049.5 1154.2 1054.6 1160 1059.2 1165.6C1063.9 1171.1 1066.2 1177.6 1070.3 1185C1074.5 1192.5 1081.9 1205.9 1084.3 1210.1"/>
<path class="ln" stroke-width="2.6" d="M889.5 1096C890.9 1095.8 894.1 1093.7 897.8 1094.6C901.5 1095.5 907.6 1098.8 911.7 1101.6C915.9 1104.3 920.6 1108.1 922.9 1111.3C925.2 1114.6 925.2 1119.4 925.7 1121"/>
<path class="ln" stroke-width="2.3" d="M953.5 1140.5C958.1 1141 973 1143.8 981.3 1143.3C989.7 1142.8 997.1 1139.8 1003.6 1137.7C1010.1 1135.7 1020.3 1131.6 1020.3 1130.8C1020.3 1129.9 1010.1 1131.6 1003.6 1132.7C997.1 1133.9 988.3 1136.7 981.3 1137.7C974.3 1138.8 965.1 1138.9 961.8 1139.1"/>
<path class="ln" stroke-width="2.6" d="M1075.9 929C1076.1 930.9 1076.1 936.5 1077.3 940.2C1078.5 943.9 1082.9 947.1 1082.9 951.3C1082.9 955.5 1079.4 963.4 1077.3 965.2C1075.2 967.1 1071.5 962.9 1070.3 962.4"/>
<path class="ln" stroke-width="2.6" d="M1089.8 931.8C1090.8 934.1 1094.9 945.3 1095.4 945.7C1095.9 946.2 1091.9 936.2 1092.6 934.6C1093.3 933 1098.5 932.3 1099.6 936C1100.6 939.7 1098.4 949.7 1098.7 956.9C1099.1 964.1 1100.2 972.6 1101.5 979.1C1102.8 985.6 1105.7 993 1106.5 995.8"/>
<path class="ln" stroke-width="2.9" d="M1112.1 940.2C1114.4 944.3 1121.8 955.9 1126 965.2C1130.2 974.5 1133.4 986.6 1137.1 995.8C1140.8 1005.1 1145.2 1012.5 1148.3 1020.9C1151.3 1029.2 1155.9 1037.6 1155.5 1045.9C1155.1 1054.3 1150.4 1062.6 1146 1071C1141.7 1079.3 1134 1086.7 1129.3 1096C1124.7 1105.3 1119.9 1116.9 1118.2 1126.6C1116.5 1136.3 1117.1 1144.2 1119.3 1154.4C1121.5 1164.6 1129.5 1182.3 1131.6 1187.8"/>
<path stroke-width="2.9" fill="#231f20" stroke="#231f20" stroke-linejoin="round" d="M1114.9 951.3C1115.8 951.8 1119.7 958.7 1121.8 962.4C1123.9 966.1 1127.4 972.2 1127.4 973.6C1127.4 975 1123.7 973.1 1121.8 970.8C1120 968.5 1117.4 962.9 1116.3 959.7C1115.1 956.4 1113.9 950.8 1114.9 951.3Z"/>
<path class="ln" stroke-width="2.6" d="M1131.6 995.8C1132.7 1001.4 1138.8 1019 1138.5 1029.2C1138.3 1039.4 1134.3 1048.2 1130.2 1057C1126 1065.9 1118.1 1075.6 1113.5 1082.1C1108.8 1088.6 1102 1095.4 1102.3 1096C1102.7 1096.6 1110.1 1091 1115.4 1085.4C1120.8 1079.9 1130 1071 1134.3 1062.6C1138.7 1054.2 1140.8 1043.1 1141.3 1034.8C1141.8 1026.4 1137.8 1016.2 1137.1 1012.5"/>
<path class="ln" stroke-width="2.1" d="M1128.8 1007C1129.2 1011.6 1132.3 1026.4 1131.6 1034.8C1130.9 1043.1 1127.9 1050.1 1124.6 1057C1121.4 1064 1114.2 1073.3 1112.1 1076.5"/>
</g>
<!-- 60_male.svg -->
<g id="60_male">
<path stroke-width="2.4" fill="#fff" stroke="#231f20" stroke-linejoin="round" stroke-linecap="round" d="M1104.2 677.7C1103.3 679.4 1101.2 685.2 1100.9 688.7C1100.5 692.3 1100.9 696.5 1102 698.7C1103.1 700.9 1105.8 702.4 1107.5 702C1109.2 701.6 1111.8 699.1 1112.4 696.5C1112.9 693.9 1111.8 689.5 1110.8 686.5C1109.8 683.6 1107.5 680.3 1106.4 678.8C1105.3 677.3 1105.1 676 1104.2 677.7Z"/>
<path class="ln" stroke-width="3.3" d="M1138.5 707.5C1139.9 705.9 1143.6 699.6 1147.3 697.6C1151 695.6 1156.2 694.3 1160.6 695.4C1165 696.5 1170.7 700.2 1173.8 704.2C1177 708.3 1179.2 714.5 1179.4 719.7C1179.6 724.9 1174.8 732.2 1174.9 735.2C1175.1 738.1 1179.2 738.9 1180.5 737.4C1181.8 735.9 1181.6 729.3 1182.7 726.3C1183.8 723.4 1184.2 721.9 1187.1 719.7C1190.1 717.5 1196 713.8 1200.4 713.1C1204.8 712.3 1210 713.1 1213.6 715.3C1217.3 717.5 1220.3 722.7 1222.5 726.3C1224.7 730 1224.3 735.2 1226.9 737.4C1229.5 739.6 1234.7 737.8 1238 739.6C1241.3 741.5 1244.2 744.8 1246.8 748.5C1249.4 752.1 1250.9 759.1 1253.5 761.7C1256 764.3 1259 765.4 1262.3 763.9C1265.6 762.5 1269.3 755.6 1273.4 752.9C1277.4 750.1 1282.6 747.7 1286.6 747.4C1290.7 747 1294.4 748.3 1297.7 750.7C1301 753.1 1303.6 758.4 1306.5 761.7C1309.5 765 1312.1 769.5 1315.4 770.6C1318.7 771.7 1322.7 770.2 1326.4 768.4C1330.1 766.5 1334.2 762.3 1337.5 759.5C1340.8 756.8 1344.9 753.1 1346.3 751.8"/>
<path class="ln" stroke-width="3.1" d="M1156.2 744C1159.1 744.8 1167.6 745.9 1173.8 748.5C1180.1 751 1187.1 755.5 1193.7 759.5C1200.4 763.6 1207 768.9 1213.6 772.8C1220.3 776.7 1225.8 780.3 1233.6 782.7C1241.3 785.1 1250.9 786.8 1260.1 787.2C1269.3 787.5 1280.4 785.1 1288.8 784.9C1297.3 784.8 1304.3 786.2 1311 786.1C1317.6 785.9 1322.7 784.9 1328.6 783.8C1334.5 782.7 1343.4 780.2 1346.3 779.4"/>
<path class="ln" stroke-width="3.1" d="M1322 790.5C1318.3 793.8 1306.9 804.5 1299.9 810.4C1292.9 816.3 1287.7 821.8 1280 825.9C1272.3 829.9 1263 832.9 1253.5 834.7C1243.9 836.5 1232.1 835.8 1222.5 836.9C1212.9 838 1203 839.5 1196 841.3C1189 843.2 1185.6 844.7 1180.5 848C1175.3 851.3 1169.8 856.5 1165 861.2C1160.2 866 1153.9 874.1 1151.7 876.7"/>
<path class="ln" stroke-width="3.3" d="M1182.7 763.9C1180.8 764.7 1174 765.8 1171.6 768.4C1169.2 770.9 1167.9 775.7 1168.3 779.4C1168.7 783.1 1170.7 788.3 1173.8 790.5C1177 792.7 1182.7 793.1 1187.1 792.7C1191.5 792.3 1196.3 790.1 1200.4 788.3C1204.4 786.4 1209.6 782.7 1211.4 781.6"/>
<path class="ln" stroke-width="3.1" d="M1204.8 790.5C1206.3 792.3 1210.3 797.5 1213.6 801.5C1217 805.6 1220.7 811.9 1224.7 814.8C1228.8 817.8 1233.9 819.2 1238 819.2C1242 819.2 1246.8 817.8 1249 814.8C1251.2 811.9 1249.4 804.9 1251.2 801.5C1253.1 798.2 1256.8 795.6 1260.1 794.9C1263.4 794.2 1268.2 796 1271.1 797.1C1274.1 798.2 1276.7 800.8 1277.8 801.5"/>
<path class="ln" stroke-width="3.3" d="M1200.4 823.6C1199.6 821.4 1198.2 814.1 1196 810.4C1193.7 806.7 1190.8 803.4 1187.1 801.5C1183.4 799.7 1177.9 798.6 1173.8 799.3C1169.8 800.1 1165.4 803 1162.8 806C1160.2 808.9 1158.4 813.7 1158.4 817C1158.4 820.3 1163.2 824.8 1162.8 825.9C1162.4 827 1159.1 824.8 1156.2 823.6C1153.2 822.5 1149.1 819.8 1145.1 819.2C1141 818.7 1136.2 819.2 1131.8 820.3C1127.4 821.4 1122.2 823.1 1118.6 825.9C1114.9 828.6 1111.4 832.5 1109.7 836.9C1108.1 841.3 1107.9 848.7 1108.6 852.4C1109.3 856.1 1111 858.3 1114.1 859C1117.3 859.8 1123.3 857.6 1127.4 856.8C1131.5 856.1 1136.6 855 1138.5 854.6"/>
<path class="ln" stroke-width="3.3" d="M1138.5 854.6C1136.6 855.7 1131.8 860.1 1127.4 861.2C1123 862.3 1116.2 860.5 1111.9 861.2C1107.7 862 1104 863.5 1102 865.7C1099.9 867.9 1098.8 871.6 1099.8 874.5C1100.7 877.5 1104 881.5 1107.5 883.4C1111 885.2 1116.3 885.9 1120.8 885.6C1125.2 885.2 1130.7 883 1134 881.1C1137.4 879.3 1139.6 875.6 1140.7 874.5"/>
<path class="ln" stroke-width="3.3" d="M1140.7 874.5C1140.3 876 1141 880.8 1138.5 883.4C1135.9 885.9 1129.2 888.2 1125.2 890C1121.1 891.8 1116.3 892.6 1114.1 894.4C1111.9 896.3 1111.2 898.8 1111.9 901.1C1112.7 903.3 1115.2 906.6 1118.6 907.7C1121.9 908.8 1128.1 906.6 1131.8 907.7C1135.5 908.8 1137.7 911.7 1140.7 914.3C1143.6 916.9 1146.6 921.5 1149.5 923.2C1152.5 924.8 1155 925.7 1158.4 924.3C1161.7 922.8 1166.1 917.8 1169.4 914.3C1172.7 910.8 1176.4 907.7 1178.3 903.3C1180.1 898.8 1180.8 892.6 1180.5 887.8C1180.1 883 1177.2 877.8 1176.1 874.5C1174.9 871.2 1174.2 869 1173.8 867.9"/>
<path class="ln" stroke-width="3.3" d="M1173.8 867.9C1175.3 869.7 1178.3 876.7 1182.7 878.9C1187.1 881.1 1195.2 879.7 1200.4 881.1C1205.5 882.6 1209.6 885.6 1213.6 887.8C1217.7 890 1221 893.7 1224.7 894.4C1228.4 895.2 1232.8 894.4 1235.8 892.2C1238.7 890 1241.7 884.8 1242.4 881.1C1243.1 877.5 1240.6 871.9 1240.2 870.1"/>
<path class="ln" stroke-width="2.9" d="M1162.8 825.9C1163.9 827 1166.8 831 1169.4 832.5C1172 834 1176.8 834.3 1178.3 834.7"/>
<path class="ln" stroke-width="3.3" d="M1344.1 812.6C1342.7 813.3 1339.3 815.5 1335.3 817C1331.2 818.5 1323.5 819.2 1319.8 821.4C1316.1 823.6 1313.9 827 1313.2 830.3C1312.4 833.6 1313.9 838.4 1315.4 841.3C1316.9 844.3 1320.5 845 1322 848C1323.5 850.9 1323.5 855 1324.2 859C1325 863.1 1326.8 868.2 1326.4 872.3C1326.1 876.4 1325 881.1 1322 883.4C1319.1 885.6 1313.2 884.8 1308.7 885.6C1304.3 886.3 1298.1 885.6 1295.5 887.8C1292.9 890 1292.9 895.2 1293.3 898.8C1293.6 902.5 1296.6 906.2 1297.7 909.9C1298.8 913.6 1300.3 916.9 1299.9 921C1299.5 925 1298.1 930.9 1295.5 934.2C1292.9 937.5 1287.7 939 1284.4 940.9C1281.1 942.7 1277.8 943.1 1275.6 945.3C1273.4 947.5 1273.7 952.1 1271.1 954.1C1268.6 956.2 1263.8 958.2 1260.1 957.4C1256.4 956.7 1251.6 952.8 1249 949.7C1246.5 946.6 1244.6 942 1244.6 938.6C1244.6 935.3 1249 932.4 1249 929.8C1249 927.2 1246.5 925.7 1244.6 923.2C1242.8 920.6 1238.3 917.3 1238 914.3C1237.6 911.4 1240.2 907.7 1242.4 905.5C1244.6 903.3 1249 903.3 1251.2 901.1C1253.5 898.8 1256 895.2 1255.7 892.2C1255.3 889.3 1251.2 886.7 1249 883.4C1246.8 880 1243.9 875.6 1242.4 872.3C1240.9 869 1240.6 864.9 1240.2 863.5"/>
<path class="ln" stroke-width="2.6" d="M1291.1 812.6C1290.7 815.9 1289.6 825.5 1288.8 832.5C1288.1 839.5 1287.7 848 1286.6 854.6C1285.5 861.2 1284.4 866.4 1282.2 872.3C1280 878.2 1275.6 884.8 1273.4 890C1271.1 895.2 1269.7 901.1 1268.9 903.3"/>
<path stroke-width="2.4" fill="#231f20" stroke="#231f20" stroke-linejoin="round" stroke-linecap="round" d="M1277.8 834.7C1275.9 835.4 1271.5 846.1 1271.1 850.2C1270.8 854.2 1274.8 855.3 1275.6 859C1276.3 862.7 1274.8 872.3 1275.6 872.3C1276.3 872.3 1278.9 863.5 1280 859C1281.1 854.6 1282.6 849.8 1282.2 845.8C1281.8 841.7 1279.6 834 1277.8 834.7Z"/>
<path class="ln" stroke-width="2.6" d="M1275.6 914.3C1276.3 916.9 1279.6 925 1280 929.8C1280.4 934.6 1278.2 940.9 1277.8 943.1"/>
<path class="ln" stroke-width="2.6" d="M1255.7 917.6C1255.1 918.9 1253.8 923.5 1252.3 925.4C1250.9 927.2 1247.7 928.1 1246.8 928.7"/>
<path class="ln" stroke-width="2.6" d="M1240.2 870.1C1241.7 871.2 1246.1 873 1249 876.7C1252 880.4 1256.4 889.6 1257.9 892.2"/>
<path d="M1233.9 811.8h0M1242.8 799.2h0M1204 791.7h0M1223.7 801.4h0M1216.5 784.6h0M1233.5 790.4h0M1210.9 803.3h0M1227 811.4h0M1221.5 789.9h0M1240.3 812.9h0M1245.2 810h0M1226.9 801h0M1228.5 805.9h0M1232.1 800.1h0M1210.3 802.5h0M1236.8 799.9h0M1218.1 800.6h0M1227.1 791.2h0M1231.7 812.8h0M1230 789.9h0M1244.3 818.3h0M1212.3 795.4h0M1248.5 815.2h0M1240.5 813.2h0M1219 805.6h0M1245.4 803.8h0M1204.5 792.3h0M1235.7 807.3h0M1217.3 795.4h0M1245.6 794.6h0M1226.3 814.4h0M1210 801.6h0M1241.3 815.9h0" fill="none" stroke="#231f20" stroke-width="1.1" stroke-linecap="round"/><path d="M1224 809.4h0M1247.8 797.3h0M1242.9 803.5h0M1237.3 809h0M1247.6 798.8h0M1217.2 804.6h0M1226.9 804.7h0M1240.9 798.5h0M1236.4 807.7h0M1220.6 799.4h0M1227.6 797.8h0M1249.9 804.8h0M1230.4 800.1h0M1229.6 798.9h0M1203.9 792h0M1244 812.1h0M1240.9 812.7h0M1219.2 786.3h0M1222.8 790.5h0M1241 802.1h0M1205.4 794.4h0M1236.5 801.8h0M1220.8 796.1h0M1216.8 801.5h0M1235 813.5h0M1247.4 796h0M1219 794.1h0M1206.5 793.3h0M1208.1 789.8h0M1246.3 794.2h0M1231.3 799.8h0M1249.7 803.1h0M1234 806.6h0M1214.3 786.4h0M1239.9 818.7h0M1242.1 795.2h0" fill="none" stroke="#231f20" stroke-width="1.7" stroke-linecap="round"/><path d="M1239.3 792.9h0M1226.4 799.7h0M1213 798.8h0M1213.8 792h0M1213.1 800.1h0M1208.4 795.6h0M1242.5 807.6h0M1245 813.8h0M1204.3 792.4h0M1239.7 802.9h0M1215.5 803.2h0M1241.5 802.2h0M1230 790.9h0M1219.8 796.1h0M1238.9 792.7h0M1210.7 793.5h0M1235.2 803.1h0M1221.6 804.2h0M1218 806.2h0M1238.4 798.6h0M1214.7 784.1h0M1242 817.9h0M1223.4 790.7h0M1218.9 791.4h0M1245 808.2h0M1206.7 789.8h0M1239.1 805.1h0M1243 796.9h0M1244.3 805.2h0M1240.2 797.2h0M1230 791.8h0M1247.1 800h0M1214.8 800.7h0M1217.7 786.1h0M1215.1 803h0M1217.4 792.6h0M1206.5 793.8h0M1247.8 797.7h0M1218.7 803.1h0M1230.4 804.9h0M1214.4 784.6h0" fill="none" stroke="#231f20" stroke-width="2.3" stroke-linecap="round"/>
<path d="M1255.3 847h0M1253.1 862.7h0M1259.4 852.3h0M1246.2 844.9h0M1258.5 850.9h0M1264.9 853.1h0M1263.6 837.1h0M1241.2 851.1h0M1253.3 836h0M1263.3 858h0M1257.1 841.8h0M1262.9 847.9h0M1237.4 852.2h0M1240.8 854.6h0M1268 842.2h0M1246.6 841.5h0M1255.4 850.7h0M1254.7 851.2h0M1254.4 849.9h0M1253.6 849.2h0M1271.3 843.1h0M1241.5 851.7h0M1267.1 847.4h0M1257.5 847.4h0M1254.1 855.6h0M1269.9 840.9h0" fill="none" stroke="#231f20" stroke-width="1.1" stroke-linecap="round"/><path d="M1255.9 843.1h0M1278.3 839.7h0M1256.6 851.3h0M1258.3 860.8h0M1267 839.9h0M1250.1 841.2h0M1276 840.7h0M1245.7 862.3h0M1244.1 855.8h0M1240.2 864.6h0M1237.7 857.6h0M1244.6 856.4h0M1237.9 848.8h0M1265.3 844.6h0M1241 848.7h0M1246.7 848.6h0M1247.5 853.2h0M1267.4 842.7h0M1254.3 838.2h0M1259.2 849.3h0M1245.8 863.1h0M1261.8 836.3h0M1263.1 843.8h0M1241 844.3h0M1252.8 864h0M1239.9 858.4h0M1269.3 847.1h0M1252.1 849h0M1259.4 849.7h0M1249.5 842h0M1257.8 842.8h0M1255.2 856h0M1243 847.8h0M1265.7 856h0M1261.5 839.2h0M1241 860.3h0" fill="none" stroke="#231f20" stroke-width="1.7" stroke-linecap="round"/><path d="M1265.7 844.4h0M1262.9 853.7h0M1261.8 839.7h0M1256.8 844.7h0M1250.7 839h0M1265.9 840.4h0M1252 862.4h0M1268 849.9h0M1276 843.1h0M1268.9 836.5h0M1264.9 843.3h0M1246.4 862.1h0M1273.7 842.4h0M1254.9 857.2h0M1271.9 839.6h0M1241.5 845.3h0M1274.6 838.7h0M1262 847h0M1258.9 839.2h0M1255 851.2h0M1250 854.8h0M1271.4 846.2h0M1237.4 856.2h0M1245.6 853.2h0M1244.9 852.6h0M1240.1 861.3h0M1266.7 835.5h0M1268 850.3h0M1272.1 837.7h0M1264.7 838.7h0M1249.5 842h0M1255.6 851.1h0M1240.8 850.9h0M1267.6 842.8h0M1255.7 835.6h0M1244.4 850.7h0M1267.2 849.5h0M1246.4 854.2h0" fill="none" stroke="#231f20" stroke-width="2.3" stroke-linecap="round"/>
<path d="M1301.4 846.8h0M1313.1 829.5h0M1316.5 848.8h0M1314 830h0M1320.8 847.9h0M1318.6 848.1h0M1302.8 825.6h0M1311.9 824.2h0M1300.2 840.8h0M1312.9 825.5h0M1312.7 843.3h0M1314.1 865.2h0M1301.8 842.9h0M1311.7 836.9h0M1305.1 836.6h0M1311 855.2h0M1303.9 837.5h0M1304.3 851.4h0M1317.9 859.7h0" fill="none" stroke="#231f20" stroke-width="1.1" stroke-linecap="round"/><path d="M1305.3 849.4h0M1312.7 825.7h0M1309.7 855.4h0M1303.3 824.2h0M1315.4 861.5h0M1306 858.1h0M1307.4 864h0M1298.5 832.4h0M1309.2 839.8h0M1304.7 848.6h0M1311.5 862.6h0M1319.4 866.4h0M1319.5 865.3h0M1319.3 866.4h0M1312.3 824.8h0M1307.9 845.7h0M1301.4 836.1h0M1306.6 848.3h0M1315 855.3h0M1303.5 832.6h0M1301.1 828.2h0" fill="none" stroke="#231f20" stroke-width="1.7" stroke-linecap="round"/><path d="M1302 833.1h0M1312.9 861h0M1314 825.7h0M1315.2 863.4h0M1312.7 836.1h0M1314.3 863.7h0M1306.4 829.5h0M1303 856.7h0M1320.1 866h0M1303.5 826.2h0M1312.2 829.7h0M1313.2 849h0M1310.7 850.1h0M1307 854.5h0M1310.4 823.3h0M1314.2 838.3h0M1305.2 849h0M1303.2 839.4h0M1300 842h0M1309.9 831.2h0" fill="none" stroke="#231f20" stroke-width="2.3" stroke-linecap="round"/>
<path d="M1141 892.7h0M1145.8 891.1h0M1136.8 899h0M1142.3 899.8h0M1147.8 898h0M1140.5 895.1h0M1134.1 893.2h0M1139.8 893.9h0M1138.7 891.3h0" fill="none" stroke="#231f20" stroke-width="1.1" stroke-linecap="round"/><path d="M1138.4 890.4h0M1146.4 902.2h0M1140.4 890.9h0M1142.1 895.4h0M1132 899h0M1136.3 897.3h0M1142.8 892.6h0" fill="none" stroke="#231f20" stroke-width="1.7" stroke-linecap="round"/><path d="M1132.4 894.9h0M1145.2 891.7h0M1144.6 903.1h0M1139.8 889.3h0M1141.2 893.1h0M1137.7 901.2h0" fill="none" stroke="#231f20" stroke-width="2.3" stroke-linecap="round"/>
<path d="M1222.8 747.9h0M1219.1 742.9h0M1214 747.8h0M1223.9 736.6h0M1219 744.4h0" fill="none" stroke="#231f20" stroke-width="1.1" stroke-linecap="round"/><path d="M1220.6 745.3h0M1209.3 741.3h0M1226.7 744h0M1223.3 736.9h0M1212.7 737.7h0M1214.2 748.5h0M1215.6 737h0M1214.5 743.3h0M1215.2 739.1h0" fill="none" stroke="#231f20" stroke-width="1.7" stroke-linecap="round"/><path d="M1217.7 738.2h0M1220.5 736.4h0M1225.7 738.9h0M1224.3 741.5h0" fill="none" stroke="#231f20" stroke-width="2.3" stroke-linecap="round"/>
<path d="M1263.3 769.7h0M1258.6 768.3h0M1263.5 765.9h0" fill="none" stroke="#231f20" stroke-width="1.1" stroke-linecap="round"/><path d="M1263.5 768.4h0M1260.4 764.4h0M1252.4 768h0M1255.3 770.9h0" fill="none" stroke="#231f20" stroke-width="1.7" stroke-linecap="round"/><path d="M1257.6 764.1h0M1257.3 769.1h0M1255.5 769.2h0M1253.7 769.5h0M1262.1 765.6h0M1252.2 767h0M1250.4 763.4h0" fill="none" stroke="#231f20" stroke-width="2.3" stroke-linecap="round"/>
<path d="M1314.8 771h0M1304.4 769.1h0M1317.1 778.7h0M1311.8 776.2h0M1323.3 770.3h0M1315.9 772.2h0" fill="none" stroke="#231f20" stroke-width="1.1" stroke-linecap="round"/><path d="M1302.7 772.9h0M1302.2 771.9h0M1309 777h0M1318.4 771.8h0M1309.2 773.9h0M1321.3 775.4h0M1314.5 777.8h0M1305.1 772.6h0M1320.5 773.8h0" fill="none" stroke="#231f20" stroke-width="1.7" stroke-linecap="round"/><path d="M1303 767.4h0M1311.9 777.1h0M1315.8 771.4h0M1304.9 767.7h0M1305.8 773.9h0M1317.3 771.1h0M1302.8 768.9h0M1312.7 770.1h0M1307.4 773.8h0M1318.8 774h0" fill="none" stroke="#231f20" stroke-width="2.3" stroke-linecap="round"/>
<path d="M1274.8 789.8h0M1291.1 794.2h0M1279.5 800.1h0M1287.8 787.4h0M1273.8 796.4h0M1287.7 797.1h0M1293.1 796.9h0M1286.8 801h0M1275.3 797.6h0M1308.4 794.3h0M1271.5 791.5h0M1279.9 799h0M1287 799.7h0M1293.4 798h0M1288.1 795.6h0M1304 791.6h0" fill="none" stroke="#231f20" stroke-width="1.1" stroke-linecap="round"/><path d="M1275 789.6h0M1271.9 790.2h0M1289.1 801.4h0M1296.7 798.3h0M1310.1 790.5h0M1277 799h0M1293.5 797.8h0M1287.7 800.2h0M1278.5 793.1h0M1290.8 792.8h0M1297.1 790.5h0M1275.7 794.6h0M1308.1 789.1h0" fill="none" stroke="#231f20" stroke-width="1.7" stroke-linecap="round"/><path d="M1276.6 797.9h0M1299.5 793.6h0M1286 797.7h0M1279.8 788.1h0M1294.5 794.5h0M1280.7 789.7h0M1282.8 792.9h0M1310.6 788.5h0M1288.6 788.4h0M1304.9 791.5h0M1281.3 792.7h0" fill="none" stroke="#231f20" stroke-width="2.3" stroke-linecap="round"/>
<path d="M1124.1 708.8h0M1122.2 698.7h0M1135 700.2h0M1131.2 709.9h0M1132.8 706.9h0M1126.6 695.2h0M1138.9 693.2h0M1132.9 693.4h0M1131 709.9h0M1129.5 699.1h0" fill="none" stroke="#231f20" stroke-width="1.1" stroke-linecap="round"/><path d="M1128.8 706.3h0M1125.3 709.2h0M1123.1 702h0" fill="none" stroke="#231f20" stroke-width="1.7" stroke-linecap="round"/><path d="M1130.4 698.6h0M1121.6 701.3h0M1132.1 703.6h0M1135.4 694.2h0M1126 693.2h0M1123.4 696.9h0M1134.4 705.9h0M1129.6 692.7h0M1126.9 707.6h0M1128.7 701h0M1121.9 699.7h0M1132.6 709.3h0" fill="none" stroke="#231f20" stroke-width="2.3" stroke-linecap="round"/>
<path d="M1286.6 925.8h0M1286.8 920.7h0M1283.7 922.5h0M1288.3 926.4h0M1288.5 931h0M1287.3 917.1h0M1292.5 922.9h0M1280.1 921.1h0M1288 928.1h0" fill="none" stroke="#231f20" stroke-width="1.1" stroke-linecap="round"/><path d="M1287.9 919.7h0M1281.6 937.6h0M1279.7 933.4h0M1283.4 936.3h0M1282.6 928.5h0M1284.5 917.5h0M1286.9 935.1h0M1285.5 934.5h0" fill="none" stroke="#231f20" stroke-width="1.7" stroke-linecap="round"/><path d="M1285.8 923.5h0M1291.2 929.7h0M1284.1 916.9h0" fill="none" stroke="#231f20" stroke-width="2.3" stroke-linecap="round"/>
<path d="M1249.6 924.5h0M1245.3 921.7h0M1252 925.1h0" fill="none" stroke="#231f20" stroke-width="1.1" stroke-linecap="round"/><path d="M1255.2 923.4h0M1250.2 924.8h0M1246.3 923.9h0M1246.4 921h0" fill="none" stroke="#231f20" stroke-width="1.7" stroke-linecap="round"/><path d="M1251.7 927h0M1252.5 918.8h0M1250.5 919h0" fill="none" stroke="#231f20" stroke-width="2.3" stroke-linecap="round"/>
<path stroke-width="3.3" fill="#fff" stroke="#231f20" stroke-linejoin="round" stroke-linecap="round" d="M1088.7 714.2C1090.2 712.9 1094.7 714.1 1097.5 715.3C1100.4 716.4 1104.7 721.6 1107.5 721.9C1110.3 722.3 1114.7 720.2 1116.3 717.5C1118 714.8 1116.9 708 1118.6 704.2C1120.2 700.4 1124.9 694.2 1127.4 692.1C1129.9 689.9 1132.8 689.2 1135.1 689.9C1137.5 690.5 1142.4 693.8 1142.9 696.5C1143.4 699.1 1138.5 704.7 1138.5 707.5C1138.5 710.4 1140.6 713.8 1142.9 715.3C1145.2 716.8 1151.3 716.2 1153.9 717.5C1156.6 718.8 1159.2 721.8 1160.6 724.1C1161.9 726.5 1163.8 731 1162.8 733C1161.8 735 1156.3 736.1 1153.9 737.4C1151.6 738.7 1147 740.2 1147.3 741.8C1147.6 743.5 1154.2 745.8 1156.2 748.5C1158.1 751.1 1160.9 756.9 1160.6 759.5C1160.2 762.2 1156.6 765.8 1153.9 766.2C1151.3 766.5 1145.5 762.1 1142.9 761.7C1140.2 761.4 1136.6 761.9 1136.2 763.9C1135.9 765.9 1140.3 771.7 1140.7 775C1141 778.3 1140.1 784.1 1138.5 786.1C1136.8 788 1131.9 789.3 1129.6 788.3C1127.3 787.3 1125.3 781.7 1123 779.4C1120.7 777.1 1116.5 772.8 1114.1 772.8C1111.8 772.8 1108.8 777.1 1107.5 779.4C1106.2 781.7 1106.8 787.1 1105.3 788.3C1103.8 789.4 1098.9 788.8 1097.5 787.2C1096.2 785.5 1097.9 779 1096.4 777.2C1094.9 775.4 1089.3 776.3 1087.6 775C1085.9 773.7 1084.4 770.7 1085.4 768.4C1086.4 766 1094.6 761.8 1094.2 759.5C1093.9 757.2 1086.3 754.5 1083.2 752.9C1080 751.2 1074.7 750.1 1073.2 748.5C1071.7 746.8 1071.7 743.5 1073.2 741.8C1074.7 740.2 1080.4 738.7 1083.2 737.4C1086 736.1 1091.4 735 1092 733C1092.7 731 1088.1 727 1087.6 724.1C1087.1 721.3 1087.2 715.5 1088.7 714.2Z"/>
<path stroke-width="3.1" fill="#231f20" stroke="#231f20" stroke-linejoin="round" stroke-linecap="round" d="M1113 775C1110.8 776.5 1110.2 786.1 1109.7 792.7C1109.2 799.3 1109.6 808.2 1110.2 814.8C1110.7 821.4 1111.3 830.7 1113 832.5C1114.8 834.3 1119.4 830.7 1120.8 825.9C1122.1 821.1 1120.8 810.7 1121.2 803.7C1121.6 796.7 1124.3 788.6 1123 783.8C1121.6 779.1 1115.2 773.5 1113 775Z"/>
<path fill="none" stroke="#fff" stroke-linecap="round" stroke-width="1.6" d="M1116.3 788.3C1116.2 790.8 1115.5 797.8 1115.5 803.7C1115.5 809.6 1116.2 820.3 1116.3 823.6"/>
<ellipse cx="1127.8" cy="748.5" rx="10.2" ry="3.8" transform="rotate(10.0 1116.3 748.5)" fill="#231f20"/>
<ellipse cx="1127.8" cy="748.5" rx="10.2" ry="3.8" transform="rotate(50.0 1116.3 748.5)" fill="#231f20"/>
<ellipse cx="1127.8" cy="748.5" rx="10.2" ry="3.8" transform="rotate(90.0 1116.3 748.5)" fill="#231f20"/>
<ellipse cx="1127.8" cy="748.5" rx="10.2" ry="3.8" transform="rotate(130.0 1116.3 748.5)" fill="#231f20"/>
<ellipse cx="1127.8" cy="748.5" rx="10.2" ry="3.8" transform="rotate(170.0 1116.3 748.5)" fill="#231f20"/>
<ellipse cx="1127.8" cy="748.5" rx="10.2" ry="3.8" transform="rotate(210.0 1116.3 748.5)" fill="#231f20"/>
<ellipse cx="1127.8" cy="748.5" rx="10.2" ry="3.8" transform="rotate(250.0 1116.3 748.5)" fill="#231f20"/>
<ellipse cx="1127.8" cy="748.5" rx="10.2" ry="3.8" transform="rotate(290.0 1116.3 748.5)" fill="#231f20"/>
<ellipse cx="1127.8" cy="748.5" rx="10.2" ry="3.8" transform="rotate(330.0 1116.3 748.5)" fill="#231f20"/>
<circle cx="1116.3" cy="748.5" r="8.8" fill="#231f20"/>
<circle cx="1117.3" cy="749.5" r="2.7" fill="none" stroke="#fff" stroke-width="1"/>
<circle cx="1113.3" cy="743.5" r="1.1" fill="#fff"/>
<path stroke-width="2" fill="#231f20" stroke="#231f20" stroke-linejoin="round" stroke-linecap="round" d="M1116.3 770.6C1113.4 770.6 1106 781.6 1107.5 783.8C1109 786.1 1123.7 786.1 1125.2 783.8C1126.7 781.6 1119.3 770.6 1116.3 770.6Z"/>
<path class="ln" stroke-width="2.9" d="M1138.5 707.5C1139.6 709.2 1142.5 714.7 1145.1 717.5C1147.7 720.3 1151.4 721.6 1153.9 724.1C1156.5 726.7 1159.5 731.5 1160.6 733"/>
<path class="ln" stroke-width="2.9" d="M1147.3 741.8C1148.4 743.7 1151.7 749.9 1153.9 752.9C1156.2 755.8 1159.5 758.4 1160.6 759.5"/>
<path class="ln" stroke-width="2.4" d="M1123 695.4C1123.7 696.9 1125.6 701.6 1127.4 704.2C1129.2 706.8 1132.9 709.8 1134 710.9"/>
<path class="ln" stroke-width="2.9" d="M1142.9 761.7C1143.6 763.2 1145.1 768.4 1147.3 770.6C1149.5 772.8 1153.2 775 1156.2 775C1159.1 775 1163.5 771.3 1165 770.6"/>
</g>
<!-- 70_female.svg -->
<g id="70_female">
<path class="ln" stroke-width="3.3" d="M887.8 631.8C886.5 632.6 881.2 631.5 879.8 636.4C878.5 641.4 880.4 654.3 879.8 661.5C879.3 668.7 878.1 675.6 876.4 679.8C874.7 684 872.2 687 869.6 686.6C866.9 686.2 863.5 677.9 860.4 677.5C857.4 677.1 854 681.7 851.3 684.3C848.6 687 847.5 692.3 844.5 693.5C841.4 694.6 836.5 692.7 833 691.2C829.6 689.7 826.6 686.6 823.9 684.3C821.2 682.1 818.2 678.6 817.1 677.5"/>
<path class="ln" stroke-width="2.4" d="M869.6 686.6L873 700.3"/>
<path class="ln" stroke-width="3.3" d="M788.5 694.6C791.4 694.6 800.9 693.3 805.6 694.6C810.4 695.9 814 699.4 817.1 702.6C820.1 705.8 820.9 710.6 823.9 714C827 717.4 830.8 721.2 835.3 723.1C839.9 725 845.6 726.2 851.3 725.4C857 724.7 863.5 721.6 869.6 718.6C875.6 715.5 882.5 710.2 887.8 707.2C893.1 704.1 896.9 701.5 901.5 700.3C906.1 699.2 910.6 699.2 915.2 700.3C919.8 701.5 924.3 704.5 928.9 707.2C933.5 709.8 938 714.4 942.6 716.3C947.2 718.2 954 718.2 956.3 718.6"/>
<path class="ln" stroke-width="3.3" d="M917.5 604.5C917.9 602.2 917.9 594.6 919.8 590.8C921.7 587 925.1 583.9 928.9 581.6C932.7 579.3 937.3 577.9 942.6 577.1C947.9 576.2 955.9 575.8 960.9 576.6C965.8 577.4 969.8 578.9 972.3 581.6C974.7 584.4 976.1 588.9 975.7 593C975.3 597.2 972.5 602.9 970 606.7C967.5 610.5 962.8 612.4 960.9 615.9C959 619.3 957.4 624.2 958.6 627.3C959.7 630.3 965 632.2 967.7 634.1C970.4 636 973.4 637.9 974.6 638.7"/>
<path class="ln" stroke-width="2.7" d="M896.9 627.3C898.5 625.8 903.4 620.4 906.1 618.1C908.7 615.9 911 615.9 912.9 613.6C914.8 611.3 916.7 606 917.5 604.5"/>
<path class="ln" stroke-width="2.4" d="M906.1 606.7C907.2 607.9 910.6 611.3 912.9 613.6C915.2 615.9 918.6 619.3 919.8 620.4"/>
<path class="ln" stroke-width="2.2" d="M938 613.6C936.9 615.1 933.5 619.3 931.2 622.7C928.9 626.1 925.5 632.2 924.3 634.1"/>
<path class="ln" stroke-width="2.4" d="M956.3 620.4L944.9 631.8"/>
<path class="ln" stroke-width="3.2" d="M899.2 656.9C900.8 654.7 904.9 646.3 908.4 643.3C911.8 640.2 916.3 639.1 919.8 638.7C923.2 638.3 926.2 639.4 928.9 641C931.6 642.5 934.6 646.7 935.7 647.8"/>
<path stroke-width="3.0" fill="#231f20" stroke="#231f20" stroke-linejoin="round" stroke-linecap="round" d="M910.6 643.3C910.6 642.5 916.3 637.7 919.8 637.5C923.2 637.4 931.2 641.4 931.2 642.1C931.2 642.9 923.2 641.9 919.8 642.1C916.3 642.3 910.6 644 910.6 643.3Z"/>
<path class="ln" stroke-width="2.4" d="M915.2 659.2C914.4 661.9 912.9 669.5 910.6 675.2C908.4 680.9 904.6 688.5 901.5 693.5C898.5 698.4 893.9 703 892.4 704.9"/>
<path class="ln" stroke-width="3.3" d="M770.3 727.7C772 727.7 777.7 726.2 780.5 727.7C783.4 729.2 785.1 734.6 787.4 736.8C789.7 739.1 791.2 741.8 794.2 741.4C797.3 741 802.2 736.1 805.6 734.6C809.1 733 812.9 730.4 814.8 732.3C816.7 734.2 817.1 741.8 817.1 746C817.1 750.1 813.6 754.3 814.8 757.4C815.9 760.4 820.5 761.6 823.9 764.2C827.3 766.9 832.3 769.5 835.3 773.4C838.4 777.2 839.5 783.6 842.2 787C844.8 790.5 847.9 793.5 851.3 793.9C854.7 794.3 859.7 789.3 862.7 789.3C865.8 789.3 868.4 793.1 869.6 793.9"/>
<path class="ln" stroke-width="3.3" d="M878.7 791.6C879.1 793.9 881 801.5 881 805.3C881 809.1 877.9 811.4 878.7 814.4C879.4 817.5 882.1 821.7 885.5 823.6C889 825.5 894.3 825.7 899.2 825.8C904.2 826 910.3 826.6 915.2 824.7C920.2 822.8 925.9 818.1 928.9 814.4C931.9 810.8 933.8 806.1 933.5 803C933.1 800 930 797.7 926.6 796.2C923.2 794.7 915.2 794.3 912.9 793.9"/>
<path class="ln" stroke-width="2.7" d="M812.5 709.4C813.6 711 817.1 715.1 819.3 718.6C821.6 722 825.4 725.8 826.2 730C827 734.2 825.4 740.6 823.9 743.7C822.4 746.7 818.8 749.8 817.1 748.2C815.3 746.7 814.2 736.8 813.6 734.6"/>
<path class="ln" stroke-width="2.7" d="M851.3 725.4C853.2 727.7 859.3 733.8 862.7 739.1C866.1 744.4 868.8 751.3 871.8 757.4C874.9 763.5 877.5 769.9 881 775.6C884.4 781.3 889 787.4 892.4 791.6C895.8 795.8 898.8 798.5 901.5 800.7C904.2 803 907.2 804.5 908.4 805.3"/>
<path class="ln" stroke-width="2.4" d="M860.4 768.8C860.8 771.1 861.6 778.7 862.7 782.5C863.9 786.3 866.5 790.1 867.3 791.6"/>
<path stroke-width="2.9" fill="#fff" stroke="#231f20" stroke-linejoin="round" stroke-linecap="round" d="M869.6 796.2C870.1 793.9 872.6 791.2 874.1 791.6C875.6 792 878.3 795.8 878.7 798.5C879.1 801.1 877.7 806.4 876.4 807.6C875.1 808.7 871.8 807.2 870.7 805.3C869.6 803.4 869 798.5 869.6 796.2Z"/>
<path class="ln" stroke-width="2.9" d="M876.4 727.7C878.3 727.3 884.4 727.3 887.8 725.4C891.2 723.5 893.5 718 896.9 716.3C900.4 714.6 904.9 714.4 908.4 715.1C911.8 715.9 914.1 718.8 917.5 720.9C920.9 722.9 924.7 726.2 928.9 727.7C933.1 729.2 940.3 729.6 942.6 730"/>
<path stroke-width="3.0" fill="#231f20" stroke="#231f20" stroke-linejoin="round" stroke-linecap="round" d="M896.9 718.6C896.6 717.1 902.7 713.7 906.1 714C909.5 714.3 917.1 718.9 917.5 720.4C917.9 721.9 911.8 723.4 908.4 723.1C904.9 722.8 897.3 720.1 896.9 718.6Z"/>
<path class="ln" stroke-width="3.2" d="M896.9 750.5C900.8 750.1 912.2 748.4 919.8 748.2C927.4 748.1 938.8 751.7 942.6 749.4C946.4 747.1 941.8 737.8 942.6 734.6C943.4 731.3 946.4 730.7 947.2 730"/>
<path class="ln" stroke-width="3.2" d="M896.9 750.5C895.8 751.7 890.9 754.7 890.1 757.4C889.3 760 889.7 765.2 892.4 766.5C895 767.8 901.5 765.7 906.1 765.4C910.6 765 916.3 762.9 919.8 764.2C923.2 765.6 924.7 769.9 926.6 773.4C928.5 776.8 930.8 781 931.2 784.8C931.6 788.6 929.3 794.3 928.9 796.2"/>
<path class="ln" stroke-width="3.3" d="M988.2 704.9C989.4 703 992.8 697.3 995.1 693.5C997.4 689.7 998.9 684.7 1001.9 682.1C1005 679.4 1009.9 680.2 1013.4 677.5C1016.8 674.8 1019.1 668.4 1022.5 666.1C1025.9 663.8 1030.5 665.1 1033.9 663.8C1037.3 662.5 1040 658.3 1043 658.1C1046.1 657.9 1049.9 660.6 1052.2 662.7C1054.4 664.7 1054.8 668.2 1056.7 670.6C1058.6 673.1 1062.8 674.1 1063.6 677.5C1064.3 680.9 1063.6 687.8 1061.3 691.2C1059 694.6 1052.5 696.1 1049.9 698C1047.2 699.9 1045.3 700.7 1045.3 702.6C1045.3 704.5 1049.5 706.4 1049.9 709.4C1050.3 712.5 1049.5 717.4 1047.6 720.9C1045.7 724.3 1042.3 726.6 1038.5 730C1034.7 733.4 1029.3 739.3 1024.8 741.4C1020.2 743.5 1014.9 743.7 1011.1 742.5C1007.3 741.4 1005 735.5 1001.9 734.6C998.9 733.6 995.9 734.6 992.8 736.8C989.8 739.1 987.1 745.6 983.7 748.2C980.3 750.9 976.1 752.8 972.3 752.8C968.5 752.8 964.7 749.4 960.9 748.2C957.1 747.1 952.5 747.5 949.4 746C946.4 744.4 943.7 740.3 942.6 739.1"/>
<path stroke-width="2.4" fill="#fff" stroke="#231f20" stroke-linejoin="round" stroke-linecap="round" d="M1044.2 700.3C1044.3 698.9 1047.4 696.7 1048.7 696.9C1050.1 697.1 1052.3 700 1052.2 701.5C1052 702.9 1049.4 705.5 1048 705.3C1046.7 705.1 1044.1 701.7 1044.2 700.3Z"/>
<path class="ln" stroke-width="2.9" d="M992.8 714C995.1 712.1 1003.1 704.9 1006.5 702.6C1009.9 700.3 1010.7 700.3 1013.4 700.3C1016 700.3 1019.1 701.1 1022.5 702.6C1025.9 704.1 1032 708.3 1033.9 709.4"/>
<path stroke-width="2.7" fill="#231f20" stroke="#231f20" stroke-linejoin="round" stroke-linecap="round" d="M1008.8 700.3C1008.6 698.8 1011.6 696.7 1013.4 696.9C1015.1 697.1 1018.9 699.9 1019.1 701.5C1019.2 703 1016.2 706.2 1014.5 706C1012.8 705.8 1009 701.8 1008.8 700.3Z"/>
<path class="ln" stroke-width="2.4" d="M1027 695.7L1038.5 685.5"/>
<path class="ln" stroke-width="2.7" d="M986 725.4C987.9 726.6 994 730 997.4 732.3C1000.8 734.6 1005 738 1006.5 739.1"/>
<path class="ln" stroke-width="2.4" d="M988.2 739.1L999.7 732.3"/>
<path class="ln" stroke-width="2.2" d="M972.3 714L986 714"/>
<circle cx="955.1" cy="743.7" r="3.9" class="fw" stroke-width="2.2"/>
<path class="ln" stroke-width="4.3" d="M942.6 734.6C943.7 734.2 947.5 731.9 949.4 732.3C951.3 732.6 953.2 736.1 954 736.8"/>
<path stroke-width="2.6" fill="#fff" stroke="#231f20" stroke-linejoin="round" d="M886.2 580.3C884.2 582.3 883.9 590 882.4 594.5C880.9 599 878.2 603.2 877.2 607.3C876.3 611.4 875.7 615.2 876.6 618.9C877.4 622.5 880.3 626.7 882.4 629.1C884.4 631.6 886.8 633 888.8 633.6C890.8 634.3 893.5 634.2 894.6 633C895.7 631.8 896.2 628.3 895.5 626.6C894.7 624.9 891.8 624.2 890.1 622.7C888.3 621.2 885.4 620.1 884.9 617.6C884.5 615 886.2 611.2 887.5 607.3C888.8 603.5 891.5 598.5 892.6 594.5C893.8 590.4 895.6 585.3 894.6 582.9C893.5 580.6 888.3 578.4 886.2 580.3Z"/>
<path stroke-width="2.0" fill="#231f20" stroke="#231f20" stroke-linejoin="round" d="M884.3 615C884 615.9 882.9 619.7 883.7 622.7C884.4 625.7 887 631.3 888.8 633C890.6 634.7 893.5 634 894.6 633C895.7 632 896.2 628.5 895.5 626.8C894.7 625.1 891.7 624.3 890.1 622.7C888.4 621.2 886.5 618.9 885.6 617.6C884.6 616.3 884.6 614.2 884.3 615Z"/>
<path class="ln" stroke-width="3.0" d="M890.1 613.7C891.4 612.4 895 607.7 897.8 606C900.6 604.3 904.4 602.8 906.8 603.5C909.1 604.1 909.5 606.9 911.9 609.9C914.3 612.9 919.4 619.5 920.9 621.4"/>
<path class="ln" stroke-width="3.0" d="M891.4 621.4C892.9 621 897.6 618.9 900.3 618.9C903.1 618.9 906.1 620.1 908 621.4C910 622.7 911.3 625.7 911.9 626.6"/>
<path stroke-width="3.3" fill="#fff" stroke="#231f20" stroke-linejoin="round" d="M896.5 532.8C898 531.4 905.5 529.2 909.3 529.6C913.2 530.1 916.6 532.7 919.6 535.4C922.6 538.1 925.8 542.9 927.3 545.7C928.8 548.5 929.2 550.2 928.6 552.1C927.9 554 925.2 557.7 923.5 557.2C921.7 556.8 920.7 552.3 918.3 549.5C916 546.7 912.3 542.5 909.3 540.5C906.3 538.6 902.5 539.3 900.3 538C898.2 536.7 895 534.2 896.5 532.8Z"/>
<path stroke-width="3.3" fill="#fff" stroke="#231f20" stroke-linejoin="round" d="M901.6 536.7C903.1 536.3 908.9 537.5 911.9 539.3C914.9 541 917.7 544 919.6 547C921.5 550 923 554.2 923.5 557.2C923.9 560.2 923.2 562.9 922.2 564.9C921.1 567 918.3 570.5 917 569.4C915.7 568.4 915.7 562 914.5 558.5C913.2 555 911.3 551 909.3 548.2C907.4 545.5 904.2 543.8 902.9 541.8C901.6 539.9 900.1 537.1 901.6 536.7Z"/>
<path stroke-width="3.3" fill="#fff" stroke="#231f20" stroke-linejoin="round" d="M897.8 545.7C897.8 547.6 902.7 550 904.2 553.4C905.7 556.8 906.8 562.2 906.8 566.2C906.8 570.3 903.8 575.4 904.2 577.8C904.6 580.1 907.6 581.4 909.3 580.3C911 579.3 913.4 575 914.5 571.4C915.5 567.7 916.4 562.4 915.7 558.5C915.1 554.7 912.5 551 910.6 548.2C908.7 545.5 906.3 542.3 904.2 541.8C902.1 541.4 897.8 543.8 897.8 545.7Z"/>
<path stroke-width="3.3" fill="#fff" stroke="#231f20" stroke-linejoin="round" d="M884.9 539.3C882.6 538 876.8 535.8 872.1 536.7C867.4 537.5 860 542.3 856.7 544.4C853.4 546.5 852.4 547.8 852.2 549.5C852 551.2 853.2 554.2 855.4 554.7C857.7 555.1 861.8 553.4 865.7 552.1C869.5 550.8 875.1 548.2 878.5 547C881.9 545.7 885.1 545.7 886.2 544.4C887.3 543.1 887.3 540.5 884.9 539.3Z"/>
<path stroke-width="3.3" fill="#fff" stroke="#231f20" stroke-linejoin="round" d="M882.4 548.2C880.4 548.9 873.4 555.3 869.5 558.5C865.7 561.7 861.4 565.1 859.3 567.5C857.1 569.9 856 571.6 856.7 572.6C857.3 573.7 860.5 575.2 863.1 573.9C865.7 572.6 869.1 568.1 872.1 564.9C875.1 561.7 879.4 557.4 881.1 554.7C882.8 551.9 884.3 547.6 882.4 548.2Z"/>
<path stroke-width="3.3" fill="#fff" stroke="#231f20" stroke-linejoin="round" d="M878.5 555.9C876.5 558.1 873.5 566.6 872.1 571.4C870.7 576.1 870 581.2 870.2 584.2C870.4 587.2 871.8 589.3 873.4 589.3C875 589.3 878.3 587.2 879.8 584.2C881.3 581.2 881.6 575.6 882.4 571.4C883.1 567.1 884.9 561.1 884.3 558.5C883.7 555.9 880.5 553.8 878.5 555.9Z"/>
<path stroke-width="3.3" fill="#fff" stroke="#231f20" stroke-linejoin="round" d="M884.3 558.5C883 561.1 883.3 567.7 883.7 571.4C884 575 884.9 578.4 886.2 580.3C887.5 582.3 890.1 583.6 891.4 582.9C892.6 582.3 893.9 579.5 893.9 576.5C893.9 573.5 891.8 568.4 891.4 564.9C890.9 561.5 892.5 557 891.4 555.9C890.2 554.9 885.6 555.9 884.3 558.5Z"/>
<path stroke-width="3.3" fill="#fff" stroke="#231f20" stroke-linejoin="round" d="M891.4 553.4C890.3 555.3 889.4 561.1 889.4 564.9C889.4 568.8 890.2 573.7 891.4 576.5C892.5 579.3 895.2 582.1 896.5 581.6C897.8 581.2 899.1 577.3 899.3 573.9C899.6 570.5 898.7 564.5 898 561.1C897.4 557.7 896.6 554.7 895.5 553.4C894.4 552.1 892.4 551.5 891.4 553.4Z"/>
<path stroke-width="3.3" fill="#fff" stroke="#231f20" stroke-linejoin="round" d="M870.8 536C871.9 534.8 879.4 532.9 882.4 531.8C885.4 530.7 886.4 529.8 888.8 529.6C891.1 529.4 895 529.4 896.5 530.5C898 531.7 898.6 534.9 897.8 536.7C896.9 538.5 893.7 540.5 891.4 541.2C889 541.8 886.2 540.9 883.7 540.5C881.1 540.2 878.1 540 875.9 539.3C873.8 538.5 869.7 537.3 870.8 536Z"/>
<path class="ln" stroke-width="4" d="M888.8 539.3L878.5 553.4"/>
<path class="ln" stroke-width="3.6" d="M890.1 540.5L888.8 558.5"/>
<path class="ln" stroke-width="4" d="M891.4 539.3C892.9 541.6 898.2 548.9 900.3 553.4C902.5 557.9 903.6 564.1 904.2 566.2"/>
<path class="ln" stroke-width="5" d="M884.3 573.9C884.8 575.6 885.9 582.5 887.5 584.2C889.1 585.9 892.9 584.2 893.9 584.2"/>
<path stroke-width="2.6" fill="#fff" stroke="#231f20" stroke-linejoin="round" d="M960.7 686.9C959.4 689.9 959.5 699.7 958.8 706.2C958 712.6 957.2 719.6 956.2 725.4C955.2 731.2 953.1 737.9 953 740.8C952.9 743.7 954.4 745.1 955.5 742.8C956.7 740.4 958.8 732.8 960 726.7C961.3 720.6 962.2 712.6 963.3 706.2C964.3 699.7 966.9 691.4 966.5 688.2C966 685 962 683.9 960.7 686.9Z"/>
<path class="ln" stroke-width="1.4" d="M963.5 689.5C963.1 692.3 962.2 700.2 961.3 706.2C960.4 712.2 959.2 719.6 958.1 725.4C957 731.2 955.4 738.3 954.9 740.8"/>
<path stroke-width="3.3" fill="#fff" stroke="#231f20" stroke-linejoin="round" d="M978.7 643.3C978.7 641.5 984.2 637 987.6 635.5C991.1 634.1 996 633.6 999.2 634.3C1002.4 634.9 1005.4 637 1006.9 639.4C1008.4 641.8 1009.1 645.4 1008.4 648.4C1007.8 651.4 1005 655.4 1003.1 657.4C1001.1 659.3 998.1 661 996.6 659.9C995.1 658.9 995.6 653.3 994.1 651C992.6 648.6 990.2 647.1 987.6 645.8C985.1 644.5 978.7 645 978.7 643.3Z"/>
<path stroke-width="3.3" fill="#fff" stroke="#231f20" stroke-linejoin="round" d="M976.1 648.4C977.4 647.7 984.7 648 987.6 649.7C990.6 651.4 992.8 655 994.1 658.7C995.3 662.3 996.1 667.8 995.3 671.5C994.6 675.2 991.3 680.7 989.6 681.1C987.9 681.6 986 677.4 985.1 674.1C984.1 670.7 984.7 664.7 983.8 661.2C982.9 657.8 981.2 655.7 979.9 653.5C978.7 651.4 974.8 649 976.1 648.4Z"/>
<path stroke-width="3.3" fill="#fff" stroke="#231f20" stroke-linejoin="round" d="M972.2 657.4C971.6 660.4 973.7 667.4 974.8 671.5C975.9 675.6 976.9 679.8 978.7 681.8C980.4 683.7 983.5 684.6 985.1 683.3C986.6 682 988.1 677.7 987.9 674.1C987.7 670.4 985.5 664.7 984.1 661.2C982.6 657.8 980.9 654.2 978.9 653.5C976.9 652.9 972.9 654.4 972.2 657.4Z"/>
<path stroke-width="3.3" fill="#fff" stroke="#231f20" stroke-linejoin="round" d="M967.1 643.3C966.7 641.8 960 640.9 955.5 642C951.1 643 944.6 646.7 940.1 649.7C935.6 652.7 930.7 657.2 928.6 659.9C926.4 662.7 926.4 665.2 927.3 666.4C928.2 667.5 930.7 667.9 933.7 666.6C936.7 665.3 941.2 661.3 945.3 658.7C949.3 656 954.5 653.5 958.1 651C961.8 648.4 967.5 644.8 967.1 643.3Z"/>
<path stroke-width="3.3" fill="#fff" stroke="#231f20" stroke-linejoin="round" d="M955.5 653.5C953 654.2 946.6 661 942.7 665.1C938.9 669.1 935.4 673.9 932.4 677.9C929.4 682 925.6 686.9 924.7 689.5C923.9 692.1 925.2 694 927.3 693.6C929.4 693.2 934.2 690.2 937.6 686.9C941 683.7 944.4 678.3 947.8 674.1C951.3 669.8 956.8 664.7 958.1 661.2C959.4 657.8 958.1 652.9 955.5 653.5Z"/>
<path stroke-width="3.3" fill="#fff" stroke="#231f20" stroke-linejoin="round" d="M962 658.7C959.9 659.9 957.5 667.2 955.5 671.5C953.6 675.8 951.1 680.9 950.4 684.3C949.8 687.8 950.4 691.1 951.7 692C953 692.9 956.2 692.3 958.1 689.7C960 687.2 961.6 681 963.3 676.6C964.9 672.3 968 666.8 967.7 663.8C967.5 660.8 964 657.4 962 658.7Z"/>
<path stroke-width="3.3" fill="#fff" stroke="#231f20" stroke-linejoin="round" d="M967.1 659.9C965.7 662.3 965.4 669.6 964.5 674.1C963.7 678.6 961.6 684.1 962 686.9C962.3 689.7 965 690.8 966.5 690.8C968 690.8 969.8 689.7 971 686.9C972.1 684.1 973.2 678.6 973.5 674.1C973.8 669.6 974 662.3 972.9 659.9C971.8 657.6 968.5 657.6 967.1 659.9Z"/>
<path stroke-width="3.3" fill="#fff" stroke="#231f20" stroke-linejoin="round" d="M960.7 636.2C962.2 634.1 966 631.2 968.4 630.7C970.7 630.1 973 630.9 974.8 633C976.6 635.1 979.5 640.7 979.3 643.3C979.1 645.8 975.8 647.7 973.5 648.4C971.3 649 968.2 648 965.8 647.1C963.5 646.2 960.3 645.1 959.4 643.3C958.5 641.4 959.2 638.3 960.7 636.2Z"/>
<path class="ln" stroke-width="4.2" d="M968.4 645.8C966.2 648.4 959.4 656.1 955.5 661.2C951.7 666.4 947 674.1 945.3 676.6"/>
<path class="ln" stroke-width="4" d="M969.7 647.1C968.6 650.5 965 661.2 963.3 667.6C961.5 674.1 960 682.6 959.4 685.6"/>
<path class="ln" stroke-width="3.6" d="M971 647.1C971.6 649.9 973.3 658.9 974.8 663.8C976.3 668.7 979.1 674.5 979.9 676.6"/>
<path class="ln" stroke-width="3.4" d="M973.5 644.5C975.7 646 983.6 649.7 986.4 653.5C989.1 657.4 989.6 665.3 990.2 667.6"/>
<path class="ln" stroke-width="4" d="M959.4 648.4C957.9 649.2 953.2 651.4 950.4 653.5C947.6 655.7 944 659.9 942.7 661.2"/>
</g>
<!-- 80_chap.svg -->
<g id="80_chap">
<path class="ln" stroke-width="3.4" d="M910 227.1C911.2 233.3 914.7 252.5 917.1 264.7C919.4 276.9 923.3 288.2 924.1 300C924.9 311.8 923.3 324.7 921.8 335.3C920.2 345.9 916.7 355.7 914.7 363.5C912.7 371.4 910.4 376.5 910 382.4C909.6 388.2 912 396.1 912.4 398.8"/>
<path class="ln" stroke-width="3.4" d="M922.9 227.1C924.3 233.3 928.6 252.5 931.2 264.7C933.7 276.9 936.9 288.2 938.2 300C939.6 311.8 940.2 323.5 939.4 335.3C938.6 347.1 936.1 360.8 933.5 370.6C931 380.4 925.7 390.2 924.1 394.1"/>
<path stroke-width="4.2" fill="#fff" stroke="#231f20" stroke-linejoin="round" d="M908.5 152.9C902.6 149.5 898.4 138.5 894.8 133.5C891.2 128.6 887.7 126.7 886.8 123.3C885.8 119.8 887 115.3 889.1 113C891.2 110.7 895.1 109.4 899.3 109.6C903.5 109.8 909.6 111.5 914.2 114.1C918.7 116.8 923.9 121.4 926.7 125.5C929.6 129.7 930.7 134.5 931.3 139.2C931.8 144 933.9 151.8 930.1 154.1C926.3 156.3 914.4 156.3 908.5 152.9Z"/>
<path stroke-width="4.2" fill="#fff" stroke="#231f20" stroke-linejoin="round" d="M903.9 155.2C902.8 152.3 892.9 145.5 887.9 142.7C883 139.8 879.4 138.7 874.2 138.1C869.1 137.5 861.7 137.5 857.1 139.2C852.6 140.9 848.7 144.9 846.8 148.4C844.9 151.8 844.8 156.3 845.7 159.8C846.7 163.2 849.1 168.1 852.6 168.9C856 169.7 861.7 166.4 866.2 164.3C870.8 162.2 875.2 157.1 879.9 156.3C884.7 155.6 890.8 160 894.8 159.8C898.8 159.6 905 158.1 903.9 155.2Z"/>
<path stroke-width="4.2" fill="#fff" stroke="#231f20" stroke-linejoin="round" d="M890.2 170C888.7 167.6 880.1 167.6 874.2 168.9C868.3 170.2 859.8 174.4 854.8 178C849.9 181.6 846.7 186.4 844.6 190.6C842.5 194.8 841.7 199.5 842.3 203.1C842.9 206.7 844.9 211.5 848 212.2C851 213 856.5 210.7 860.5 207.7C864.5 204.6 868.1 198 871.9 194C875.7 190 880.3 187.7 883.4 183.7C886.4 179.7 891.7 172.5 890.2 170Z"/>
<path stroke-width="4.2" fill="#fff" stroke="#231f20" stroke-linejoin="round" d="M883.4 205.4C880.7 204.8 872.9 213 869.7 216.8C866.4 220.6 864.9 224.8 864 228.2C863 231.6 862.6 235.3 864 237.3C865.3 239.4 869.5 241.5 871.9 240.8C874.4 240 876.5 236.2 878.8 232.8C881.1 229.4 884.9 224.8 885.6 220.2C886.4 215.7 886 206 883.4 205.4Z"/>
<path stroke-width="4.2" fill="#fff" stroke="#231f20" stroke-linejoin="round" d="M887.9 225.9C885.1 228.6 884.5 237.2 884.5 241.9C884.5 246.7 886.2 251.8 887.9 254.5C889.6 257.1 892.5 258.1 894.8 257.9C897 257.7 900.3 256.4 901.6 253.3C902.9 250.3 902.8 244.2 902.8 239.6C902.8 235.1 904.1 228.2 901.6 225.9C899.1 223.7 890.8 223.3 887.9 225.9Z"/>
<path stroke-width="4.2" fill="#fff" stroke="#231f20" stroke-linejoin="round" d="M931.3 154.1C931.3 149.7 938.5 143.2 942.7 139.2C946.9 135.2 951.6 132 956.4 130.1C961.1 128.2 967 127.4 971.2 127.8C975.4 128.2 979.6 130.1 981.5 132.4C983.4 134.7 983.8 138.5 982.6 141.5C981.5 144.6 978.2 148 974.6 150.6C971 153.3 966.3 155 960.9 157.5C955.6 160 947.6 166 942.7 165.5C937.7 164.9 931.3 158.4 931.3 154.1Z"/>
<path stroke-width="4.2" fill="#fff" stroke="#231f20" stroke-linejoin="round" d="M940.4 174.6C939.5 171.7 953.3 168.7 959.8 166.6C966.3 164.5 973.5 162.4 979.2 162C984.9 161.7 989.8 162.4 994 164.3C998.2 166.2 1002.6 170 1004.3 173.5C1006 176.9 1005.4 181.6 1004.3 184.9C1003.2 188.1 1000.7 192.1 997.4 192.9C994.2 193.6 990.2 191 984.9 189.4C979.6 187.9 972.9 186.2 965.5 183.7C958.1 181.3 941.4 177.4 940.4 174.6Z"/>
<path stroke-width="4.2" fill="#fff" stroke="#231f20" stroke-linejoin="round" d="M958.7 192.9C962.7 191.3 970.3 195.7 974.6 198.6C979 201.4 982.4 205.4 984.9 210C987.4 214.5 989.3 221.2 989.5 225.9C989.7 230.7 988.1 235.8 986 238.5C983.9 241.2 980 242.7 976.9 241.9C973.9 241.2 970.4 237.7 967.8 233.9C965.1 230.1 963.8 223.5 960.9 219.1C958.1 214.7 951.1 212.1 950.7 207.7C950.3 203.3 954.7 194.4 958.7 192.9Z"/>
<path stroke-width="4.2" fill="#fff" stroke="#231f20" stroke-linejoin="round" d="M930.1 220.2C932.8 220.8 939.1 226.9 942.7 230.5C946.3 234.1 949.9 238.1 951.8 241.9C953.7 245.7 954.9 250.7 954.1 253.3C953.3 256 949.9 258.3 947.2 257.9C944.6 257.5 940.8 254.1 938.1 251C935.5 248 933.2 243.6 931.3 239.6C929.4 235.6 926.9 230.3 926.7 227.1C926.5 223.8 927.5 219.7 930.1 220.2Z"/>
<path stroke-width="2" fill="#231f20" stroke="#231f20" stroke-linejoin="round" d="M919.9 156.3C916.8 155.6 913.8 153.5 910.7 154.1C907.7 154.6 904.8 157.3 901.6 159.8C898.4 162.2 894 165.5 891.3 168.9C888.7 172.3 887 176.1 885.6 180.3C884.3 184.5 883.4 189.4 883.4 194C883.4 198.6 884.3 203.5 885.6 207.7C887 211.9 888.7 216.2 891.3 219.1C894 221.9 898.4 223.7 901.6 224.8C904.8 225.9 907.3 226.1 910.7 225.9C914.2 225.7 918.5 224.6 922.1 223.7C925.8 222.7 929.4 222.1 932.4 220.2C935.5 218.3 937.7 214.7 940.4 212.2C943.1 209.8 946.3 208.4 948.4 205.4C950.5 202.4 952.8 197.6 953 194C953.1 190.4 951.6 186.8 949.5 183.7C947.4 180.7 942.7 178.6 940.4 175.7C938.1 172.9 937.7 169.5 935.8 166.6C933.9 163.8 931.7 160.3 929 158.6C926.3 156.9 922.9 157.1 919.9 156.3Z"/>
<path class="ln" stroke-width="6.5" d="M919.9 187.1L908.5 152.9"/>
<path class="ln" stroke-width="6.5" d="M919.9 187.1L894.8 162"/>
<path class="ln" stroke-width="6.5" d="M919.9 187.1L885.6 175.7"/>
<path class="ln" stroke-width="6.5" d="M919.9 187.1L879.9 205.4"/>
<path class="ln" stroke-width="6.5" d="M919.9 187.1L887.9 227.1"/>
<path class="ln" stroke-width="6.5" d="M919.9 187.1L903.9 229.4"/>
<path class="ln" stroke-width="6.5" d="M919.9 187.1L931.3 154.1"/>
<path class="ln" stroke-width="6.5" d="M919.9 187.1L942.7 168.9"/>
<path class="ln" stroke-width="6.5" d="M919.9 187.1L959.8 188.3"/>
<path class="ln" stroke-width="6.5" d="M919.9 187.1L951.8 210"/>
<path class="ln" stroke-width="6.5" d="M919.9 187.1L929 223.7"/>
<path class="ln" stroke-width="6.5" d="M919.9 187.1L915.3 229.4"/>
<path d="M907.7 161.5h0M954.5 196.4h0M893.4 221.1h0M886.3 195.6h0M957.9 197.8h0M922.7 156.5h0M911.7 158.5h0M960.9 191.6h0M900 227.4h0M948.9 174h0M925.1 149.9h0M951.5 203.8h0M880.8 200.9h0M888 184.3h0M886 202.9h0M931.1 163.1h0M941.1 225.9h0M919.1 149.5h0M958.9 217.1h0M907.5 152.6h0M940.7 215.9h0M955.9 205.3h0M942.8 224.9h0M879.1 196h0M937.5 151.4h0M889.2 192.7h0M896.7 211.8h0M931.1 154.5h0M897.3 210.6h0M931.7 147.9h0M893.4 209h0M907.9 224.9h0M883.9 177.8h0M962.2 194.4h0M900.6 167.8h0M905.2 225.3h0M890 186.8h0M946 165.4h0M966.8 203.8h0M942.1 165.4h0M888 191.6h0M915.6 224.9h0M933.7 226.2h0M956 201.7h0M954 197.1h0M916.9 224.7h0M944.7 170.7h0M944.9 229.5h0M943.7 226.8h0M950 207.5h0M889.3 215.8h0M894.4 159.2h0M931.7 228h0M906.4 230.7h0M891.9 171.2h0M889.6 217.6h0M934.6 159.4h0M901.3 215.4h0M960 198.1h0M936.1 227.5h0M887 172.9h0M943.1 223.6h0M886.3 189.6h0M892.5 229.2h0M917.6 154.5h0M889.1 200.3h0M910.5 220h0M930.6 219.3h0M883.2 176.2h0M883.2 177.4h0M913.4 154.5h0M928.6 158h0M936.2 217.2h0M895.7 235h0M913.3 222.3h0M915.5 228.1h0M883.7 164h0M895.2 160h0M876.4 185.7h0M897.2 157.7h0M909 231.8h0M950.8 225.3h0M947.3 225.9h0M891 215.2h0M915 222.2h0M936.7 224.8h0M909.1 157.1h0M954.3 191.5h0M945.4 168.6h0M894.8 209h0M951.1 215.1h0M934.4 219.2h0M889.9 225.1h0M936.9 221.1h0M961.1 200.4h0M950.5 210.9h0M932.3 146.2h0M928.8 225.7h0M950.6 173.5h0M889.4 191.7h0M950.3 180.8h0M894.6 160.7h0M883.6 204.2h0M907.1 218.1h0M956.5 188.9h0M918.4 159.1h0M919.7 160.2h0M922.8 157.6h0M954.5 189.8h0M889.5 211h0M899.3 160.9h0M946.4 172.7h0M954.9 157.6h0M886.9 194.8h0M949.9 211.7h0M905.1 230.9h0M932.4 160.3h0M955.2 214h0M921.8 223.5h0M921.8 222.9h0" fill="none" stroke="#231f20" stroke-width="1.2" stroke-linecap="round"/><path d="M947 165.4h0M924.8 237.5h0M889.7 208.5h0M931.7 219.5h0M937.4 148.6h0M911.8 151.1h0M919.2 227.8h0M937.1 165.2h0M874.9 175.7h0M894.3 161.6h0M921.4 156.2h0M880.6 169.6h0M889.7 168.5h0M941.8 222.9h0M960.9 203.1h0M888 203.5h0M880.6 210.4h0M896.6 151.3h0M898.4 155.4h0M922 149.2h0M950.3 177.5h0M959.3 182.6h0M904.7 221.7h0M942.8 209.5h0M900.7 229.6h0M937.6 230.8h0M950.5 168.9h0M942.9 211.1h0M952.4 176.2h0M881.9 165.2h0M950.8 194.4h0M956.2 204.3h0M919.9 222.4h0M897.5 213.8h0M945.5 230.3h0M887.2 209.5h0M927.6 227.2h0M957.9 160.6h0M934.3 217.4h0M891.1 168.6h0M930.6 150.9h0M893.9 226.3h0M965.2 210.9h0M938.1 228.3h0M885.5 199.7h0M913.9 225h0M884.1 177.7h0M898.2 162.3h0M878.1 181.1h0M880.8 199.3h0M960.3 175h0M924.9 160.4h0M906.4 149.1h0M949.6 194.8h0M875.2 186.7h0M933.9 223.8h0M955.7 175.7h0M886.8 176h0M932.8 236.3h0M934.1 159.9h0M919 225.6h0M900.4 161.8h0M901.1 161.7h0M936.6 228.9h0M906.3 223.1h0M926.3 235h0M959.5 211.5h0M895.6 229.2h0M889.9 200.4h0M964.7 179.2h0M952.5 184.6h0M942.4 225.6h0M946.8 175h0M951.4 192.3h0M921.1 221.1h0M896.9 161.7h0M896.5 225.2h0M899.2 220.1h0M954.1 190h0M893.3 175.6h0M898.2 156.2h0M936.8 158.9h0M952.8 164.6h0M928.1 153.8h0M931 150.8h0M920.5 222.4h0M887.4 190.9h0M889.9 201.8h0M954.6 176.9h0M890.2 175.8h0M946.5 170.7h0M887.3 161.6h0M891.7 170.5h0M961.2 197.3h0M923.2 158.2h0M885.5 163.3h0M889.9 204h0M916 147.8h0M921.1 155.6h0M916.3 234.2h0M889.4 186.6h0M896.1 168.4h0M944.7 168.2h0M953.4 223h0M932 227.4h0M928.6 224.2h0M926.5 222.8h0" fill="none" stroke="#231f20" stroke-width="2" stroke-linecap="round"/><path d="M892.2 161.7h0M937.6 147.8h0M903.9 146.4h0M930.7 223.1h0M963.5 186.2h0M949.3 224.2h0M893.3 215.6h0M936.5 165.8h0M900.1 164.5h0M920 220.9h0M952.9 172.1h0M921.3 233.6h0M945.1 210h0M912.9 155.4h0M907.8 221.7h0M885.4 172.6h0M948.9 209.4h0M922.6 153.5h0M893.2 213h0M956.6 172h0M883.4 207.5h0M934.4 164.2h0M942.6 216.5h0M956.4 170.4h0M926.3 232.3h0M878.7 195.3h0M922.6 147.3h0M915.6 158.7h0M955.4 178.6h0M880.5 175.6h0M946.5 225.7h0M890.5 177h0M893.7 222.2h0M952.3 184.5h0M947.9 213.5h0M881.8 194.5h0M951.7 200.1h0M889.9 191.4h0M907.9 234h0M949.3 218.9h0M885 172.6h0M890.1 167.7h0M944.3 170.2h0M928.8 151.8h0M890.2 159.8h0M932.9 153.1h0M948.8 203.6h0M927.6 225.3h0M911.2 146.6h0M954.2 165.1h0M943.5 164.7h0M929.3 220.1h0M914.1 157.9h0M920.6 156.1h0M905.3 157.1h0M912.7 219.9h0M886.4 211.7h0M938.3 158.5h0M906.1 228.3h0M929.6 231h0M921 220.8h0M893.8 228.5h0M923.9 159.2h0M897.2 165.8h0M958.2 193.7h0M927 158.8h0M923.3 155.9h0M952.6 197.4h0M913.5 225.3h0M884.1 178.7h0M892.5 202.5h0M941.6 218.6h0M931.3 219h0M897.1 213.2h0M879.3 179.8h0M943.1 171.3h0M931.6 223.6h0M891.4 202.3h0M954.8 176.1h0M950.1 174.5h0M923.5 226.3h0M961 206.9h0M931.9 160.7h0M948.4 168.2h0M942.7 161.9h0M956.8 194.4h0M885.2 205.5h0M895.2 218.8h0M908.7 230.5h0M943.2 211.7h0M890.8 179.5h0M889.2 188.2h0M877.3 179.7h0M917.3 239.3h0M904.1 151.5h0M931.8 155.9h0M888 174.9h0M957.2 170.7h0M920.8 232.8h0M885.5 201.1h0M881.3 198.2h0M924.2 158.7h0M905.9 218.3h0" fill="none" stroke="#231f20" stroke-width="2.8" stroke-linecap="round"/>
<ellipse cx="899.3" cy="168.3" rx="5.5" ry="4.8" transform="rotate(0 899.3 168.3)" fill="#fff"/>
<ellipse cx="930.1" cy="160.9" rx="3.4" ry="5.5" transform="rotate(30 930.1 160.9)" fill="#fff"/>
<ellipse cx="954.1" cy="186" rx="5.5" ry="4.6" transform="rotate(0 954.1 186)" fill="#fff"/>
<ellipse cx="947.8" cy="207.7" rx="4.8" ry="4.1" transform="rotate(0 947.8 207.7)" fill="#fff"/>
<ellipse cx="895.9" cy="215.1" rx="4.3" ry="3.7" transform="rotate(0 895.9 215.1)" fill="#fff"/>
<ellipse cx="885.6" cy="191.7" rx="3" ry="5.1" transform="rotate(0 885.6 191.7)" fill="#fff"/>
<ellipse cx="913" cy="170" rx="2.3" ry="9.1" transform="rotate(-15 913 170)" fill="#fff"/>
<ellipse cx="932.4" cy="176.9" rx="1.6" ry="6.8" transform="rotate(40 932.4 176.9)" fill="#fff"/>
<ellipse cx="907.3" cy="196.3" rx="5.7" ry="2.5" transform="rotate(-25 907.3 196.3)" fill="#fff"/>
<ellipse cx="937" cy="197.4" rx="5.7" ry="2.5" transform="rotate(15 937 197.4)" fill="#fff"/>
<ellipse cx="894.8" cy="183.7" rx="4.1" ry="1.8" transform="rotate(20 894.8 183.7)" fill="#fff"/>
<ellipse cx="932.4" cy="219.1" rx="1.8" ry="4.6" transform="rotate(-10 932.4 219.1)" fill="#fff"/>
<ellipse cx="908.5" cy="211.1" rx="3.4" ry="1.6" transform="rotate(0 908.5 211.1)" fill="#fff"/>
<ellipse cx="919.9" cy="207.7" rx="1.4" ry="4.6" transform="rotate(0 919.9 207.7)" fill="#fff"/>
<ellipse cx="903.9" cy="182.6" rx="3.4" ry="1.4" transform="rotate(-30 903.9 182.6)" fill="#fff"/>
<ellipse cx="922.1" cy="178" rx="1.8" ry="3.4" transform="rotate(0 922.1 178)" fill="#fff"/>
<ellipse cx="940.4" cy="187.1" rx="3.4" ry="1.4" transform="rotate(10 940.4 187.1)" fill="#fff"/>
<path d="M948.2 200.1h0M917.9 174.4h0M922.7 195.3h0M909.5 178.4h0M909.9 181.3h0M921.4 208.2h0M894.8 206.4h0M922.8 178.6h0M913.9 173.8h0M925.9 211.4h0M911 208.8h0M911.1 203.6h0M937.1 202.8h0M935.1 211.5h0M910.3 212.5h0M937.8 195.7h0M916.1 200.2h0M901.9 202.5h0M918.1 173.1h0M917.7 182.9h0M927 196.3h0M905.7 184.8h0M925 219.9h0M926 194.7h0M926.8 181.1h0M894.8 194.8h0M927.2 167.6h0M902.4 177.2h0M926 175.2h0M906.2 189.1h0M895.7 198.3h0M937.9 211.5h0M905.4 218.4h0M937.9 174.3h0M926.8 188.9h0" fill="none" stroke="#fff" stroke-width="1.4" stroke-linecap="round"/><path d="M905.8 217.2h0M936.8 168.8h0M901.3 172.4h0M945 177.7h0M940.2 189.3h0M908.1 189.4h0M932.9 162.3h0M938.9 213.6h0M926.9 217.3h0M917 185.6h0M890 190.2h0M918.5 177.2h0M913.7 168h0M949.2 198.7h0M919.8 180.3h0M937.4 203h0M930.3 207.2h0M905.9 189.7h0M929.4 195.7h0M903.9 201.5h0M929.3 209.6h0M910.1 199.8h0M943.5 202.6h0M947.8 189.1h0M932.1 204.6h0M930.4 185.5h0M908.2 170.2h0M911.8 160.9h0M922.8 180.3h0M940.2 185.4h0M911.5 167.7h0M950.6 190.3h0M950.8 190h0M888.8 192.7h0" fill="none" stroke="#fff" stroke-width="2" stroke-linecap="round"/><path d="M927.7 206h0M935.2 217.6h0M889.8 188.4h0M938.9 167.5h0M927.4 166.7h0M922.4 201.9h0M911 169.2h0M907.2 197.2h0M935.8 212.6h0M911.3 195.6h0M900.5 206.9h0M893.7 180.4h0M909.6 217.7h0M908.2 170h0M951 192.7h0M928.2 209h0M894.7 186.4h0M897.5 212.6h0M906.8 187.6h0M950.3 187.6h0M919.1 205.2h0M893.6 176h0M937.9 214h0M906.7 219h0M888.7 193.6h0M917.5 210.8h0M921 192.4h0M898.5 212.1h0M934.6 169.6h0M927.8 208.1h0M928.6 204.7h0M928.2 161.3h0M903.1 216.3h0M927.1 164.7h0M939.9 199.7h0M928.1 215.6h0M911.9 186.2h0M950.1 182.9h0M914.5 179h0M916.3 177.4h0M905 168.5h0" fill="none" stroke="#fff" stroke-width="2.6" stroke-linecap="round"/>
<path class="ln" stroke-width="3.2" d="M831.2 315.3C833.7 318.6 841.6 328 846.5 335.3C851.4 342.5 856.7 351 860.6 358.8C864.5 366.7 867.6 374.5 870 382.4C872.4 390.2 874.3 399.6 874.7 405.9C875.1 412.2 872.7 417.6 872.4 420"/>
<path class="ln" stroke-width="3.2" d="M838.2 311.8C841.2 315.7 849.8 326.7 855.9 335.3C862 343.9 870 354.5 874.7 363.5C879.4 372.5 882 380.8 884.1 389.4C886.3 398 887.1 411 887.6 415.3"/>
<path class="ln" stroke-width="1.8" d="M836.3 321.8L845.5 321.2M841.5 328.4L850.5 327.9M846.3 335.1L855.4 334.6M850.9 342.1L860.3 341.5M855.3 349.1L865.1 348.3M859.3 356.4L869.8 355.2M863 363.9L874.1 362.4M866.2 371.5L877.7 369.9M869 379.3L880.7 377.7M871.4 387.3L883.2 385.7M873.2 395.4L885.1 393.9M874.5 403.6L886.2 402.2M874.3 411.9L887.1 410.5"/>
<path stroke-width="4.0" fill="#fff" stroke="#231f20" stroke-linejoin="round" stroke-linecap="round" d="M780.6 252.9C780.2 250.6 767.6 251 761.8 250.6C755.9 250.2 749.8 249.4 745.3 250.6C740.8 251.8 736.3 254.5 734.7 257.6C733.1 260.8 733.7 267.5 735.9 269.4C738 271.4 742.9 270.2 747.6 269.4C752.4 268.6 758.6 267.5 764.1 264.7C769.6 262 781 255.3 780.6 252.9Z"/>
<path stroke-width="4.0" fill="#fff" stroke="#231f20" stroke-linejoin="round" stroke-linecap="round" d="M778.2 257.6C777.1 254.9 763.7 261.2 757.1 264.7C750.4 268.2 743.1 273.3 738.2 278.8C733.3 284.3 728.8 292.2 727.6 297.6C726.5 303.1 729 308.8 731.2 311.8C733.3 314.7 737.5 316.9 740.6 315.3C743.7 313.7 746.1 308 750 302.4C753.9 296.7 759.4 288.6 764.1 281.2C768.8 273.7 779.4 260.4 778.2 257.6Z"/>
<path stroke-width="4.0" fill="#fff" stroke="#231f20" stroke-linejoin="round" stroke-linecap="round" d="M780.6 262.4C777.8 260.8 768.8 272.2 764.1 278.8C759.4 285.5 754.5 294.5 752.4 302.4C750.2 310.2 749.8 320 751.2 325.9C752.5 331.8 757.3 336.1 760.6 337.6C763.9 339.2 768.8 338.8 771.2 335.3C773.5 331.8 773.1 324.3 774.7 316.5C776.3 308.6 779.6 297.3 780.6 288.2C781.6 279.2 783.3 263.9 780.6 262.4Z"/>
<path stroke-width="4.0" fill="#fff" stroke="#231f20" stroke-linejoin="round" stroke-linecap="round" d="M787.6 264.7C784.9 265.1 780.2 279.6 778.2 288.2C776.3 296.9 775.7 308.6 775.9 316.5C776.1 324.3 777.3 331.6 779.4 335.3C781.6 339 785.9 339.2 788.8 338.8C791.8 338.4 795.5 337.5 797.1 332.9C798.6 328.4 798.6 319.6 798.2 311.8C797.8 303.9 796.5 293.7 794.7 285.9C792.9 278 790.4 264.3 787.6 264.7Z"/>
<path stroke-width="4.0" fill="#fff" stroke="#231f20" stroke-linejoin="round" stroke-linecap="round" d="M797.1 262.4C795.9 266.7 800.2 280 801.8 288.2C803.3 296.5 804.5 305.1 806.5 311.8C808.4 318.4 810.8 325.3 813.5 328.2C816.3 331.2 820.4 330.6 822.9 329.4C825.5 328.2 828 325.7 828.8 321.2C829.6 316.7 829.4 309.4 827.6 302.4C825.9 295.3 821.4 285.5 818.2 278.8C815.1 272.2 812.4 265.1 808.8 262.4C805.3 259.6 798.2 258 797.1 262.4Z"/>
<path stroke-width="4.0" fill="#fff" stroke="#231f20" stroke-linejoin="round" stroke-linecap="round" d="M804.1 252.9C804.1 255.3 815.9 257.6 820.6 262.4C825.3 267.1 829.6 274.5 832.4 281.2C835.1 287.8 835.9 297.1 837.1 302.4C838.2 307.6 837.5 311.8 839.4 312.9C841.4 314.1 846.5 312.4 848.8 309.4C851.2 306.5 853.5 301.2 853.5 295.3C853.5 289.4 851.6 280.4 848.8 274.1C846.1 267.8 841.8 262 837.1 257.6C832.4 253.3 826.1 249 820.6 248.2C815.1 247.5 804.1 250.6 804.1 252.9Z"/>
<path stroke-width="4.0" fill="#fff" stroke="#231f20" stroke-linejoin="round" stroke-linecap="round" d="M804.1 243.5C805.3 244.7 816.7 240.4 822.9 241.2C829.2 242 836.3 244.3 841.8 248.2C847.3 252.2 852.7 258.8 855.9 264.7C859 270.6 858.9 282 860.6 283.5C862.2 285.1 865.2 278 865.8 274.1C866.4 270.2 866.2 265.1 864.1 260C862.1 254.9 858 247.8 853.5 243.5C849 239.2 843.3 235.7 837.1 234.1C830.8 232.5 821.4 232.5 815.9 234.1C810.4 235.7 802.9 242.4 804.1 243.5Z"/>
<path stroke-width="4.0" fill="#fff" stroke="#231f20" stroke-linejoin="round" stroke-linecap="round" d="M787.6 241.2C786.1 239.6 784.9 232.5 787.6 229.4C790.4 226.3 798.6 223.7 804.1 222.4C809.6 221 815.1 220.8 820.6 221.2C826.1 221.6 832.8 222.4 837.1 224.7C841.3 227.1 845.2 232.2 846 235.3C846.8 238.4 845.2 243.5 841.8 243.5C838.3 243.5 830.8 236.9 825.3 235.3C819.8 233.7 813.5 233.5 808.8 234.1C804.1 234.7 800.6 237.6 797.1 238.8C793.5 240 789.2 242.7 787.6 241.2Z"/>
<path stroke-width="4.0" fill="#fff" stroke="#231f20" stroke-linejoin="round" stroke-linecap="round" d="M766.5 234.1C769 232 777.1 229.4 780.6 230.6C784.1 231.8 786.5 237.8 787.6 241.2C788.8 244.5 789.6 249 787.6 250.6C785.7 252.2 779.6 251.8 775.9 250.6C772.2 249.4 766.9 246.3 765.3 243.5C763.7 240.8 763.9 236.3 766.5 234.1Z"/>
<path class="ln" stroke-width="9" d="M801.8 250.6C804.9 252.5 815.9 256.9 820.6 262.4C825.3 267.8 827.6 276.1 830 283.5C832.4 291 833.9 303.1 834.7 307.1"/>
<path class="ln" stroke-width="7.5" d="M780.6 264.7C779.6 267.8 776.1 277.3 774.7 283.5C773.3 289.8 772.7 299.2 772.4 302.4"/>
<path class="ln" stroke-width="7.5" d="M791.2 269.4C791.6 272.5 792.7 282.4 793.5 288.2C794.3 294.1 795.5 302 795.9 304.7"/>
<path class="ln" stroke-width="5" d="M787.6 243.5C788.8 244.7 792.4 249.4 794.7 250.6C797.1 251.8 800.6 250.6 801.8 250.6"/>
<path d="M760.1 254.5h0M753.8 262.4h0M743.6 263.6h0M736.4 263.8h0M772.4 255.3h0M763.2 256.7h0M759.3 259h0M750.2 253.5h0M758.2 264.8h0M749.8 252.8h0M767.6 253.1h0M763.9 256.7h0" fill="none" stroke="#231f20" stroke-width="1.1" stroke-linecap="round"/><path d="M746.6 262.6h0M744.4 257h0M747.6 263.5h0M742.4 253.6h0M761.2 259.3h0M742 262.6h0M742.5 267.7h0M761.6 260.6h0M763.4 257h0M746.5 253h0M744.9 260.3h0M764.1 260.7h0M740.8 256.3h0M752.1 255.3h0M743.9 255.4h0" fill="none" stroke="#231f20" stroke-width="1.7" stroke-linecap="round"/><path d="M739.8 257.1h0M738.9 261.5h0M741.3 262.8h0M771.5 253.5h0M737.7 263.1h0M740.5 259.4h0M741.2 256.9h0" fill="none" stroke="#231f20" stroke-width="2.3" stroke-linecap="round"/>
<path d="M736.3 304.1h0M745.2 285.6h0M740.9 312h0M749.1 291h0M771.9 266.1h0M760 265.7h0M731.9 301.1h0M737.2 298.2h0M747.4 275.9h0" fill="none" stroke="#231f20" stroke-width="1.1" stroke-linecap="round"/><path d="M736.7 297h0M752.9 271.8h0M750.3 280.1h0M739.4 292.5h0M745.4 291.9h0M756.6 273h0M735.6 306.9h0M754.5 276.7h0M746.8 298.1h0" fill="none" stroke="#231f20" stroke-width="1.7" stroke-linecap="round"/><path d="M759 285.3h0M739.2 302.7h0M766.6 271.6h0M734.8 310.3h0M750.4 289.4h0M765.9 270.2h0M768.1 269.8h0M748.3 279h0M752.4 286h0M732 303.9h0M770.5 267.7h0M732.2 303.4h0M768.6 261.5h0M754.3 274h0M752.3 270.9h0M740.9 297.4h0" fill="none" stroke="#231f20" stroke-width="2.3" stroke-linecap="round"/>
<path d="M770.5 289.3h0M777.3 281.1h0M769.1 332h0M760.9 321h0M756 324.2h0M771 277.7h0M762.6 306.6h0M777.5 276.7h0M767.5 289.6h0M761.3 290.2h0M770.4 278.9h0M766.9 306.7h0M765.4 317.1h0M770.1 289h0M756.8 314.5h0M776.7 277.4h0" fill="none" stroke="#231f20" stroke-width="1.1" stroke-linecap="round"/><path d="M771.9 308.7h0M766.4 301.8h0M778.1 286.6h0M771.2 302.6h0M762.1 295.6h0M763.4 331.8h0M767.2 322.1h0M769.3 332.8h0M764.3 283.8h0" fill="none" stroke="#231f20" stroke-width="1.7" stroke-linecap="round"/><path d="M779.3 274.4h0M759.3 333.8h0M763.6 312.3h0M760.4 307.5h0M767.4 295.7h0M763.7 324.4h0M776.1 300.5h0M770.3 289.9h0M761.8 317.7h0" fill="none" stroke="#231f20" stroke-width="2.3" stroke-linecap="round"/>
<path d="M781.7 299h0M789.9 279.7h0M788.6 324.8h0M783.9 293h0M792.6 305.6h0M790.8 335.6h0M793.1 333.8h0M792 291.3h0M795 298.3h0M784.1 329.9h0" fill="none" stroke="#231f20" stroke-width="1.1" stroke-linecap="round"/><path d="M787.4 318.7h0M792.7 308.5h0M790.2 310.7h0M792.2 292.9h0M780.9 289.7h0M792.7 316.8h0M778.5 296.3h0M786.5 280.8h0M790.8 296h0" fill="none" stroke="#231f20" stroke-width="1.7" stroke-linecap="round"/><path d="M789 296.8h0M787.7 276.1h0M781.1 298.3h0M791.3 296.6h0M788.6 313.5h0M786.7 317.6h0M788.9 298.5h0M783 288.4h0M788 331.7h0M789 333.6h0M787.9 336.6h0M787.7 278.9h0M788 324.2h0M782.3 296.7h0M793.3 330.1h0" fill="none" stroke="#231f20" stroke-width="2.3" stroke-linecap="round"/>
<path d="M819.7 313h0M811.6 312.9h0M814.3 300.2h0M810.5 288h0M807.1 284h0M825 315.2h0M806.2 298h0M819.6 288.1h0M814.8 308.6h0M803.9 270.8h0" fill="none" stroke="#231f20" stroke-width="1.1" stroke-linecap="round"/><path d="M808.1 281.9h0M800.6 267.8h0M818 315.3h0M812.5 306.6h0M820.9 297.2h0M812.2 317.5h0M805.9 273.8h0M819.3 316.1h0M818.7 289.6h0M817 322.4h0M806.4 287.1h0" fill="none" stroke="#231f20" stroke-width="1.7" stroke-linecap="round"/><path d="M819.3 318h0M811.4 319.8h0M820.1 291.3h0M814.4 286h0M824.6 323.8h0M820.2 323.8h0M803.1 270.9h0M817.5 287.7h0M815.3 290.6h0M811.7 282.4h0M805 281.7h0M823.2 297h0M811.6 273.1h0" fill="none" stroke="#231f20" stroke-width="2.3" stroke-linecap="round"/>
<path d="M846.2 289.2h0M842.6 288.5h0M832.9 275.4h0M819.2 252.7h0M835 278.1h0M828.1 263.4h0M834.5 271.5h0M846.6 296.6h0M837.4 277.5h0M834.2 264h0M843.4 286.4h0M838.1 263.2h0M822.7 254.1h0M827.4 258.3h0M826.7 253.2h0M831.9 266.3h0" fill="none" stroke="#231f20" stroke-width="1.1" stroke-linecap="round"/><path d="M844.3 281.5h0M827.3 254.1h0M838.7 284.9h0M848.1 297.9h0M846.5 291.3h0M845.9 300.3h0M834.8 266.4h0" fill="none" stroke="#231f20" stroke-width="1.7" stroke-linecap="round"/><path d="M818.1 256.6h0M821.2 260h0M839.1 292.6h0M840.3 310.6h0M830.1 257.8h0M841 296.2h0M848.1 291.7h0M838.3 295.4h0M844 304.2h0M831.2 265.9h0M828.8 265.2h0" fill="none" stroke="#231f20" stroke-width="2.3" stroke-linecap="round"/>
<path d="M855.9 254.3h0M829.2 236h0M862.8 261.7h0M860 265.3h0M845 243.6h0M850.9 252.9h0M832.7 242h0M843.4 241.4h0M861.2 262.4h0M862.6 268.4h0" fill="none" stroke="#231f20" stroke-width="1.1" stroke-linecap="round"/><path d="M849.9 244h0M838.1 239.3h0M859.5 267.2h0M829.5 239.2h0M848.4 249.7h0M834 236.8h0M843.9 243.4h0M835.4 236.7h0M846.1 246h0M833.2 240h0M858.3 258.3h0M860.1 262h0M858.4 256.6h0M851.1 250.1h0M855 249.3h0M839.8 238h0" fill="none" stroke="#231f20" stroke-width="1.7" stroke-linecap="round"/><path d="M820.5 238.3h0M859.5 268h0M841.3 245.4h0M821.7 239.2h0M835.3 239.3h0M862.3 267.4h0M818.3 236.3h0M842.6 239.6h0" fill="none" stroke="#231f20" stroke-width="2.3" stroke-linecap="round"/>
<path d="M839.5 232h0M843.2 235h0M827.8 232.7h0M820.3 230.6h0M805.1 231h0M834.1 229.4h0M826.9 228.3h0M790.8 238h0M823 226.9h0M806.3 230h0M837.8 229.2h0M795.4 231.5h0" fill="none" stroke="#231f20" stroke-width="1.1" stroke-linecap="round"/><path d="M791.3 238.5h0M834.1 226.1h0M820.3 224h0M835.4 237.6h0M817.8 225.8h0M797.7 229.4h0M793.1 233.4h0M811 231.5h0M835.7 236.9h0M836.2 228.2h0M789.3 232h0" fill="none" stroke="#231f20" stroke-width="1.7" stroke-linecap="round"/><path d="M806.6 229.7h0M829.8 235.3h0M802 234.4h0M793.2 230.1h0M840.7 237.6h0M827.9 227.7h0M832.1 229.2h0M815.5 224.3h0M806.9 223.6h0M807.2 224.7h0M802.1 233.3h0" fill="none" stroke="#231f20" stroke-width="2.3" stroke-linecap="round"/>
<path d="M780.1 236.8h0M782.4 243.4h0M769.9 244.4h0M772.8 244.2h0M772.2 236.1h0M780.3 241.1h0M770.6 235.4h0M780.3 237.3h0M776.8 243.8h0" fill="none" stroke="#231f20" stroke-width="1.1" stroke-linecap="round"/><path d="M774.8 235.7h0M774.3 247.2h0M768.7 235.3h0M770.8 244.3h0M768.5 239.5h0M786.3 247.9h0M774.9 232.4h0M776.6 247.6h0M781.5 241.4h0M777.5 240h0M775 244.1h0M773.7 238.4h0M784.9 240.1h0M772.7 241.1h0" fill="none" stroke="#231f20" stroke-width="1.7" stroke-linecap="round"/><path d="M778.7 235.1h0M768.7 240.3h0M776.7 244.5h0M771.4 241.4h0M769.4 238.6h0M783.2 238.7h0M774 236.6h0M780.1 235h0M782.2 239.1h0M774.6 241.9h0M775.3 247h0" fill="none" stroke="#231f20" stroke-width="2.3" stroke-linecap="round"/>
</g>
<!-- 85_spores.svg -->
<g id="85_spores">
<path class="ln" stroke-width="3.8" d="M1136.7 168.4C1139.5 169.7 1147.7 172.5 1153.6 176.1C1159.4 179.6 1166.3 185 1172 189.8C1177.6 194.7 1183.2 200.3 1187.3 205.2C1191.4 210 1192.4 214.4 1196.5 219C1200.6 223.6 1207.2 227.4 1211.8 232.8C1216.4 238.1 1221 244.5 1224.1 251.1C1227.1 257.8 1228.7 264.9 1230.2 272.6C1231.7 280.3 1232.7 289 1233.3 297.1C1233.8 305.3 1232.5 315 1233.3 321.6C1234 328.3 1235.6 333.7 1237.9 337C1240.2 340.3 1245.5 340.8 1247 341.6"/>
<path class="ln" stroke-width="3.8" d="M1122.9 192.9C1125.5 192.1 1133.1 187.8 1138.2 188.3C1143.3 188.8 1149.2 192.4 1153.6 196C1157.9 199.6 1162 205.9 1164.3 209.8C1166.6 213.6 1169.7 215.6 1167.4 219C1165.1 222.3 1155.9 224.8 1150.5 229.7C1145.1 234.5 1139.3 240.9 1135.2 248.1C1131.1 255.2 1128 264.4 1126 272.6C1123.9 280.8 1123.7 289.5 1122.9 297.1C1122.1 304.8 1122.1 313 1121.4 318.6C1120.6 324.2 1120.1 328.3 1118.3 330.8C1116.5 333.4 1112.4 334.4 1110.7 333.9C1108.9 333.4 1108.1 328.8 1107.6 327.8"/>
<path class="ln" stroke-width="3.4" d="M1145.9 286.4C1145.6 290.2 1145.6 302 1144.4 309.4C1143.1 316.8 1139.3 327.3 1138.2 330.8"/>
<path class="ln" stroke-width="3.4" d="M1181.1 280.3C1181 285.1 1181 300.4 1180.5 309.4C1180 318.3 1178.5 329.8 1178.1 333.9"/>
<path class="ln" stroke-width="3.4" d="M1214.3 292.5C1214.5 296.4 1214.9 308.1 1215.5 315.5C1216.1 322.9 1217.5 333.4 1217.9 337"/>
<path d="M1135.8 270h0M1168.8 233.4h0M1154.7 245.4h0M1151.7 248.3h0M1137.9 251.5h0M1148.4 244.8h0M1160.9 246h0M1138.1 253.7h0M1149.5 253.2h0M1158.7 228.3h0M1139.6 259.3h0M1146.6 235.7h0M1134.8 272.3h0M1160 245.4h0M1142.4 251.1h0M1176.5 219.7h0M1149.5 238.6h0M1141.3 248.2h0M1137.2 264.9h0M1168.5 220.9h0M1147 249.5h0M1130.9 278.2h0M1143.1 253.8h0" fill="none" stroke="#231f20" stroke-width="1" stroke-linecap="round"/><path d="M1162.4 229.2h0M1131.1 261.1h0M1159 246h0M1142.9 251.5h0M1158.6 230h0M1147.5 239.1h0M1142.2 269.6h0M1168.4 233.1h0M1134.5 256.2h0M1137.2 250.2h0M1145.7 246.9h0M1134.5 273.2h0M1140.5 257.7h0M1167.7 243.4h0M1174.8 220.1h0M1151.5 229.7h0M1135.9 251.7h0M1169.7 241h0M1172.1 218.5h0M1141.4 263.6h0M1179.6 224.6h0M1175.6 236.4h0M1132.7 256.9h0M1144 266.5h0M1136.9 248.6h0M1164.9 228.7h0M1156.5 248.6h0M1153.9 231.6h0M1148.3 260.9h0M1140.2 252.8h0M1179 226.3h0M1135.4 273.7h0M1160.2 242.9h0M1143.7 251.1h0M1141.9 259.9h0M1148.9 235.2h0" fill="none" stroke="#231f20" stroke-width="1.6" stroke-linecap="round"/><path d="M1176 219.6h0M1140.1 243.7h0M1140.3 246h0M1144.7 253.9h0M1155.3 254h0M1170.5 243.3h0M1156.1 242h0M1173.8 232h0M1158.2 244h0M1131.7 271.3h0M1155.2 247.6h0M1164 222.9h0M1166.1 245.7h0M1155.5 230.6h0M1136.5 262h0M1137.2 261.2h0M1145.6 256.6h0M1148.6 239.1h0M1134.3 258.8h0M1144.3 248.5h0M1175.9 218.8h0M1141.1 262.4h0M1176.5 230.8h0M1172.8 240.4h0M1132.6 271.1h0M1146.6 255.6h0M1158.7 231.5h0M1143.3 266.2h0M1163.9 223.4h0M1134.2 273.9h0M1142.1 247.1h0M1134 257.9h0M1140.1 255.8h0M1144.9 237.9h0M1146.3 251.3h0M1170.4 222.5h0M1178.5 228.4h0M1171.8 237.4h0M1134.4 249.4h0M1175.6 226.5h0M1157.6 251.1h0M1162.6 243.4h0M1149.8 255.5h0M1162.8 244.7h0M1150.4 252.3h0M1143.2 257.6h0M1175 236.9h0M1137.4 262.7h0M1179 225.1h0M1141.8 263.9h0M1172.5 230.5h0" fill="none" stroke="#231f20" stroke-width="2.2" stroke-linecap="round"/>
<path d="M1158.4 182.6h0M1180 216.5h0M1165.6 199.9h0M1175.7 202.4h0M1166.2 186.5h0M1172.1 193.8h0M1173.3 195h0M1174.2 211.8h0M1168.8 197h0M1164.2 199.1h0M1185.6 206.2h0M1176.1 210.8h0M1169.1 197.6h0M1190.4 213.4h0M1164.4 199.6h0M1178.8 217.8h0" fill="none" stroke="#231f20" stroke-width="1" stroke-linecap="round"/><path d="M1185.4 209h0M1173.3 203.3h0M1164.8 188.4h0M1167.7 213.2h0M1153 190.8h0M1157.7 185.7h0M1184.6 208.5h0M1188.9 209.8h0M1148.7 179h0M1153.5 186.1h0M1163.3 199.7h0M1163 197.9h0M1179.5 198.5h0M1163.9 206.5h0M1144.8 180.3h0M1188.5 220.1h0M1172.7 215.4h0" fill="none" stroke="#231f20" stroke-width="1.6" stroke-linecap="round"/><path d="M1191.7 218.3h0M1144.3 180.3h0M1164 193.9h0M1143.2 177.7h0M1165.8 190.6h0M1169 201.2h0M1188.4 211.6h0M1181.5 211.3h0M1181.1 208h0M1171.2 217.1h0M1167.9 199.3h0M1173.7 209.2h0M1181.7 209.1h0M1186.8 207.6h0M1163.6 199.7h0M1141.6 178.1h0M1146.6 184.5h0M1150.9 180.7h0M1162 196.9h0M1147.7 181.9h0M1175.1 218.8h0M1160.2 196.7h0M1157 186.7h0M1167.1 188h0M1156.9 186.7h0M1176.7 206.5h0M1166.7 194.4h0" fill="none" stroke="#231f20" stroke-width="2.2" stroke-linecap="round"/>
<path d="M1220.4 265.9h0M1218.6 251.2h0M1224.5 276.4h0M1222.8 271.3h0M1226.4 265.4h0M1225.8 276.8h0M1225.7 278.5h0M1216.7 250.6h0M1224.4 253.9h0M1222.5 257.3h0M1220.1 265.2h0M1223.7 277.8h0M1225.2 278.8h0M1228 281.3h0M1228 280.2h0M1227.6 264.7h0M1227.9 281.2h0M1221 247.9h0" fill="none" stroke="#231f20" stroke-width="1.6" stroke-linecap="round"/>
<path fill="#231f20" stroke="#231f20" stroke-width="2.5" fill-rule="evenodd" d="M1122.9 331.5L1122.9 334.2L1124.7 338L1127.6 342.2L1136.8 354L1144.4 361.5L1152.9 368.1L1157.6 371L1162.8 373.1L1168.5 374.6L1174.8 375.5L1181.2 375.8L1187.3 375.3L1193 373.9L1203.9 369L1213.1 362.9L1217.2 359.4L1230.8 345.6L1233 342.5L1233.3 340L1230.6 338.4L1214.9 335.4L1201.1 331.5L1196.5 330.8L1191.9 331.2L1182.7 333.4L1178.1 333.9L1173.5 333.5L1159.7 330.8L1145.9 329.4L1130.5 329.4L1125.7 329.9Z"/>
<path d="M1151 361.2L1149.9 362.4L1150.5 363.9L1154.4 366.7L1156.1 366.6L1157.9 361.9L1157.3 360.1L1156 359.8ZM1184.6 357L1181.6 362.7L1182.1 363.9L1183.8 364.5L1191.9 362.2L1192.5 361.8L1193 360.5L1192 358.7L1185.7 356.2ZM1186.6 343.3L1180.6 345.8L1180.5 347.3L1183.5 349.6L1184.8 349.2L1188 345.8L1187.8 344.4ZM1173.3 354.3L1172.7 355.9L1173.9 359.7L1177.7 360.8L1178.7 360.7L1179.4 360.1L1182.7 353.7L1182.1 352.5L1179 350.6ZM1187.2 351.1L1186.7 352.5L1187 353.1L1193 355.7L1194.1 355L1195.8 351.6L1195.2 349.6L1191.2 348.2L1189.7 348.6ZM1147.7 356.7L1148.1 358.2L1149.6 358.5L1154.6 357L1155.4 356.6L1155.6 355L1154.1 353.9L1149.6 354L1148.4 354.5ZM1173.1 344.1L1171.9 344.6L1168.7 349.1L1169 350.8L1169.9 351.8L1171.7 351.8L1177.1 347.7L1177 345.9L1176.3 344.7L1175.1 344.1ZM1192 339.6L1190.5 339.9L1190.1 340.6L1191.3 344.9L1195.9 346.1L1198 343.6L1198.2 342.3L1197.3 341.3ZM1159.1 368L1159.4 369.4L1160 369.8L1163.5 371.3L1165.6 371.6L1166.7 370.6L1168 364.9L1166.8 363.9L1161.3 363.2L1160.3 364.2ZM1157.7 351.8L1158.3 353.6L1159.5 354.5L1164.8 352.1L1165.7 350.8L1165 349.4L1161.5 347.5L1158.5 348.8ZM1195.9 357.8L1196.3 360.9L1197.9 361.3L1204.3 359.2L1205.4 358L1205.4 356.4L1204.3 355.4L1198.3 354.5ZM1139.5 350.8L1138.4 351.8L1138.8 353.2L1142.3 356.9L1143.7 357.2L1144.4 356.8L1145.5 353.1L1144.4 350.1L1143.1 349.8ZM1171.6 364.2L1169.7 371.9L1170.9 372.9L1175.1 373.5L1179.7 373.5L1180.5 372.2L1180.3 366.6L1178.1 364L1172.9 362.9ZM1193.7 365L1183.9 367.9L1183.5 368.8L1183.5 371.9L1184.3 373.3L1187.1 373.3L1192.3 372L1194.8 371L1195.7 369.9L1194.8 366.1ZM1154.9 335L1155.8 336.3L1157.6 336.3L1158.9 335.2L1159 333.7L1157.8 332.6L1155.8 332.6L1155.2 333.2ZM1198.6 348L1198.6 350.3L1199.8 351.4L1205 352.4L1206.5 350.5L1206.5 349.2L1205.2 346.3L1204.1 345.5L1201 345ZM1151.3 348.1L1150.4 349.4L1151.2 350.7L1153.6 350.9L1154.8 350.3L1155.2 349L1154.6 347.5L1152.9 347.3ZM1219.5 346.1L1218.6 347.2L1218.6 348.9L1220.4 351.5L1221.7 351.7L1227.7 345.9L1228 344.4L1226.8 343.3L1226 343.4ZM1135.7 333.3L1136.8 334.4L1137.7 334.3L1138.4 333.7L1138.6 332.1L1137.3 331.3L1136.3 331.6L1135.7 332.3ZM1198.3 367.6L1199.6 368.6L1202.9 367.2L1206.8 364.6L1206.8 363.1L1205.8 362.2L1204.9 362.2L1198.8 364.1L1197.8 365.2ZM1161.1 357.3L1160.3 358.5L1160.9 359.8L1161.6 360.1L1168.8 361.1L1170.1 360.7L1170.5 360L1169.6 355.7L1169 354.9L1167.7 354.2ZM1208.2 359.2L1209.2 361.3L1210.6 362L1212.9 360.5L1213.4 359.2L1212.6 358.1L1209.8 357.8L1208.5 358.4ZM1208.8 352.7L1208.9 354.1L1210.1 354.8L1216.1 355L1216.9 354.9L1217.7 353.5L1216.5 351.2L1215 350.4L1210.3 351.1L1209.6 351.4Z" fill="#fff"/>
<ellipse cx="1137.3" cy="382" rx="3.1" ry="8.3" transform="rotate(25 1137.3 382)" class="fw" stroke-width="3.0"/>
<ellipse cx="1198" cy="399.8" rx="3.7" ry="8" transform="rotate(5 1198 399.8)" class="fw" stroke-width="3.0"/>
<ellipse cx="1233.3" cy="401.3" rx="3.7" ry="8" transform="rotate(-15 1233.3 401.3)" class="fw" stroke-width="3.0"/>
<ellipse cx="1212.4" cy="372.8" rx="4" ry="6.1" transform="rotate(0 1212.4 372.8)" class="fw" stroke-width="3.0"/>
<path stroke-width="3.1" fill="#fff" stroke="#231f20" stroke-linejoin="round" stroke-linecap="round" d="M1129 422.8C1128.5 420 1124.7 413.6 1122.9 410.5C1121.1 407.5 1118.9 403.4 1118.3 404.4C1117.7 405.4 1118 412.8 1119.2 416.7C1120.5 420.5 1124.3 426.4 1126 427.4C1127.6 428.4 1129.6 425.6 1129 422.8Z"/>
<ellipse cx="1134.6" cy="431.4" rx="9.2" ry="9.2" transform="rotate(0 1134.6 431.4)" class="fw" stroke-width="3.6"/>
<path stroke-width="3.1" fill="#fff" stroke="#231f20" stroke-linejoin="round" stroke-linecap="round" d="M1240.9 451.9C1241.9 452.4 1245.7 456.5 1245.5 459.6C1245.4 462.6 1241.4 469.5 1240 470.3C1238.6 471.1 1237 466.5 1236.9 464.2C1236.8 461.9 1238.7 458.6 1239.4 456.5C1240.1 454.5 1239.9 451.4 1240.9 451.9Z"/>
<ellipse cx="1239.4" cy="439.7" rx="9.8" ry="9.8" transform="rotate(0 1239.4 439.7)" class="fw" stroke-width="3.6"/>
<path stroke-width="3.6" fill="#fff" stroke="#231f20" stroke-linejoin="round" stroke-linecap="round" d="M1118.3 513.2C1115.2 512.1 1111.2 519.6 1107.6 523.9C1104 528.3 1099.4 534.2 1096.9 539.3C1094.3 544.4 1092.3 550.9 1092.3 554.6C1092.3 558.3 1095.1 562.4 1096.9 561.3C1098.6 560.3 1100.2 552.6 1103 548.5C1105.8 544.4 1109.9 539.8 1113.7 536.8C1117.5 533.9 1125.2 534.6 1126 530.7C1126.7 526.8 1121.4 514.3 1118.3 513.2Z"/>
<path fill="#231f20" stroke="#231f20" stroke-width="3.4" fill-rule="evenodd" d="M1126 481L1124.1 481.7L1123 483L1117.5 496L1116.8 499.4L1116.8 506.9L1118.3 514.8L1119.8 518.7L1129.7 537.2L1132 540.2L1135.2 542.3L1139.7 543.4L1145.3 543.7L1151.2 543.3L1156.6 542.3L1166.8 538.9L1171.4 536.3L1175 533.1L1177.7 529.1L1179.6 524.3L1180.8 519.3L1181.1 514.8L1180.7 510.7L1179.4 506.8L1177.5 503.1L1171.9 495.5L1168.1 491.6L1164 488.1L1159.7 485.6L1155.2 484.8L1141.3 485.6L1137 484.6L1129 481.5Z"/>
<path d="M1139.3 487.1L1137.6 487.5L1137.1 488.3L1135.7 492.9L1139.2 497.1L1140.1 497.6L1141.2 497.6L1147.8 494.7L1148.4 489.4L1148.2 488.4L1147.4 487.7L1141.1 487.6ZM1153.3 486.8L1151.9 487.7L1151.6 488.5L1151.2 494.7L1151.6 496L1154.9 499.6L1156.7 500.1L1167.8 496.6L1168.3 495.8L1167.9 494.1L1162.7 489.6L1158.7 487.4ZM1139.5 506.3L1140.1 508.2L1143.2 510.9L1145.2 511.1L1152.2 507.4L1153.2 502.7L1149.9 498.7L1149 498.2L1147.9 498.3L1141.1 501.1ZM1126.2 512.8L1121.5 513.4L1120.6 514.8L1121.6 518L1124.6 523.8L1126.2 524.8L1127.2 524.5L1128.1 522.9L1127.9 513.7ZM1124.7 502.6L1119.4 503.1L1118.6 504.7L1119 508.6L1120.1 510L1126.4 509.7L1127.8 508.7L1127.8 506.9ZM1143 539.8L1143.9 541.4L1145.2 541.7L1151 541.3L1156.4 540.1L1157 538.4L1154.7 528.1L1145.7 525.7L1144.6 525.7L1143.8 526.4ZM1133.8 495.8L1132.1 495.3L1129.9 496L1127.7 500.5L1131.2 506.5L1132 507.2L1133.1 507.3L1136 506.4L1137.6 501.2L1137.2 499.5ZM1159.9 537.2L1161.3 538.6L1162.4 538.5L1166 537.1L1170.4 534.6L1173.4 532L1175.9 528.4L1176.5 526.2L1176.2 525.4L1165.6 520.5L1164.6 520.3L1163.5 520.9L1158.1 527.1ZM1146.4 514L1145.4 515.5L1145.3 520.9L1146 522.4L1146.7 522.7L1155.6 524.6L1160.4 519.4L1160 517.7L1154.3 511.5L1153.3 511L1152.2 511.1ZM1167.7 516.2L1168 517.9L1168.7 518.4L1176 521.7L1177.1 521.8L1178 521.3L1178.5 520.4L1179.2 515L1178.7 510.9L1177.6 507.4L1175.8 504L1174.3 502.3L1172.4 502.5L1171.8 503.4ZM1124.9 483.8L1123.6 487.9L1124.2 488.8L1128.4 492.2L1130 492.6L1132.3 491.8L1134.2 486.5L1133.1 485.2L1126.6 483.1ZM1128.5 527.3L1127.7 528.8L1127.9 529.6L1131.3 536L1133.2 538.5L1136.3 540.6L1138.8 540.9L1139.6 540.2L1140.1 527.4L1138.6 526.4L1130.7 526.2ZM1137 509.9L1132 511L1131.3 512.4L1131.5 522.3L1133 523.2L1141.2 523.2L1142.2 521.6L1142.2 514.3ZM1155.6 507.3L1156.1 508.8L1161.9 515.3L1163.7 515.8L1165 514.6L1168.8 501.8L1168.3 501L1166.5 500.5L1157.5 503.1L1156.2 504.5ZM1119.2 497.4L1119.6 499L1120.3 499.5L1124.5 499L1126.2 496.2L1126.2 494.6L1123.5 492.3L1122.5 491.9L1121.5 492.1L1120.5 493.4Z" fill="#fff"/>
<path stroke-width="3.6" fill="#fff" stroke="#231f20" stroke-linejoin="round" stroke-linecap="round" d="M1267 502.5C1267.5 499.9 1275.1 496.4 1279.2 496.4C1283.3 496.4 1288.9 498.4 1291.5 502.5C1294 506.6 1295.1 514.8 1294.6 520.9C1294 527 1291 534.7 1288.4 539.3C1285.9 543.9 1281.8 547.4 1279.2 548.5C1276.7 549.5 1272.6 548.5 1273.1 545.4C1273.6 542.3 1280.5 535.2 1282.3 530.1C1284.1 525 1284.9 517.8 1283.8 514.8C1282.8 511.7 1279 513.7 1276.2 511.7C1273.4 509.6 1266.5 505 1267 502.5Z"/>
<path class="ln" stroke-width="2.9" d="M1276.2 514.8C1276.7 517.3 1279.5 525.5 1279.2 530.1C1279 534.7 1275.4 540.3 1274.6 542.3"/>
<path fill="#231f20" stroke="#231f20" stroke-width="3.4" fill-rule="evenodd" d="M1250.1 488.7L1246.6 488.9L1243.1 489.9L1236.3 493.3L1229.8 497.2L1224.1 502.5L1219.4 509.8L1217.6 513.8L1216.4 517.8L1216 521.7L1216.1 525.7L1217.9 533.1L1221.5 540L1224 543.1L1227.1 545.4L1231 547L1235.6 548.1L1245.5 548.5L1256.8 546.6L1262.4 544.7L1267 542.3L1270.3 539.2L1272.9 535.4L1274.8 531.3L1277.1 522.5L1277.5 517.6L1277.2 512.9L1276.2 508.6L1274 505L1267.4 499L1257.1 491.5L1253.6 489.6Z"/>
<path d="M1225.8 527.6L1226.9 529.1L1228.7 529.1L1231.1 526L1231.4 524.4L1230.8 521.8L1229.4 520.4L1226.7 520.8L1225.3 522ZM1259.4 509.6L1252.4 502.9L1250.5 503.5L1247.1 507.4L1247.1 509.4L1248.4 511L1256.2 513.8L1258.9 511.6ZM1243.8 512L1243.9 509.1L1242.6 507.5L1234.8 504.7L1232.8 505L1232.2 505.8L1232.9 514L1234 515.6L1241.7 515.1ZM1251.7 540.1L1249.8 537.8L1248.4 537.4L1246.3 537.8L1243 543.3L1242.8 544.6L1243.2 545.7L1243.9 546.3L1245.3 546.5L1251.7 545.3L1252.3 543.5ZM1233.3 497.3L1232.4 499.2L1233.7 500.9L1244.6 504.5L1249.9 499.5L1250.4 498.4L1251.1 491.9L1250.4 491L1249.2 490.7L1244 491.8ZM1222.7 518.2L1228.3 517.1L1229.7 515.9L1228.7 505.4L1227.7 503.9L1225.8 503.8L1225.1 504.5L1221.2 510.6L1219.4 514.7L1219.3 516L1219.7 516.9ZM1240.1 518.7L1234.7 519.4L1234 520.3L1234 521.4L1234.9 524.2L1238.7 525.9L1239.9 525.9L1241 525.2L1242.7 522.6L1241.6 519.3ZM1235.4 528.1L1233.7 528.2L1232.5 530.2L1233.2 531.9L1235.1 533.2L1237.4 532.5L1238.3 531.7L1238.6 530.6L1238.2 529.5ZM1242.8 528.1L1242.4 529.6L1243.3 532.2L1245.1 533.8L1246.5 534.3L1248.1 533.8L1248.8 532.7L1249.8 528.3L1249.4 526.5L1246.7 525.3L1245.4 525.3ZM1264.7 533L1268.8 536L1270.7 535.1L1272.9 530.7L1274.2 525.7L1272.7 524.2L1270 524.1L1264.7 526.9L1263.8 527.7L1264 531.7ZM1267.7 509.4L1266.9 510.9L1267.1 511.8L1271.1 519.8L1272.5 520.9L1274 520.9L1275 520.3L1275.5 517.5L1275.2 513L1274.2 509.1L1272.4 506.9L1271.3 506.7ZM1253.3 527.7L1252 534.6L1252.6 535.5L1253.7 535.9L1259.6 533.1L1260.4 532.3L1260.7 531.1L1260 527.7L1256.5 525.6L1254.4 526.3ZM1266.2 500.6L1256.3 493.7L1254.6 494.4L1253.8 499.1L1262.2 507.4L1263 507.9L1264.9 507.5L1267.9 505L1268.5 504L1268.5 502.9ZM1238.6 540.5L1240.6 540.5L1241.3 539.7L1242.6 536.9L1241.9 535.2L1240.9 534.7L1239.7 534.9L1236.5 536.7L1236.3 538.8ZM1223.9 532.2L1221.3 533.2L1221.1 535.3L1222.3 537L1224.1 537.1L1225.3 535.7L1225.5 533.5ZM1222 523.6L1220.9 522L1219.9 521.8L1218.3 522.9L1218.6 528L1219.1 529L1220.1 529.6L1221.3 529.5L1222.5 528.2ZM1255.4 542.5L1255.9 543.5L1256.9 544.1L1261.5 542.9L1265.8 540.4L1266 538.5L1263.4 536.1L1262.3 535.7L1261.2 535.9L1256.1 538.6L1255.3 539.5ZM1258.8 516.1L1258.2 517.5L1258.2 521.5L1259.2 523.2L1261.8 524.5L1267.3 521.6L1267.5 519.6L1264.1 513.3L1262.3 513ZM1251.3 523.6L1252.8 523.5L1254.7 522.3L1255 518.4L1254.7 517.3L1248.1 514.4L1246.3 514.5L1244.7 517.1L1245.7 520.7L1246.9 522Z" fill="#fff"/>
</g>
</g>
<g id="arrows">
<path d="M676.7 191.2Q748.3 172.2 803.3 172.9" fill="none" stroke="#262626" stroke-width="4.1"/><path d="M822.3 173.1L801.2 184.4L801.4 161.4Z" fill="#262626"/>
<path d="M1008.4 208.1Q1060.6 228.6 1091.4 249.2" fill="none" stroke="#262626" stroke-width="4.1"/><path d="M1107.2 259.8L1083.4 257.7L1096.1 238.6Z" fill="#262626"/>
<path d="M1061.0 542.5Q1024.8 567.0 1008.9 585.9" fill="none" stroke="#262626" stroke-width="4.1"/><path d="M996.6 600.4L1001.4 576.9L1018.9 591.8Z" fill="#262626"/>
<path d="M1284.3 586.2Q1303.9 645.8 1303.8 689.6" fill="none" stroke="#262626" stroke-width="4.1"/><path d="M1303.8 708.6L1292.3 687.6L1315.3 687.6Z" fill="#262626"/>
<path d="M797.1 800.2Q742.8 865.7 688.1 902.8" fill="none" stroke="#262626" stroke-width="4.1"/><path d="M672.4 913.5L683.3 892.2L696.2 911.2Z" fill="#262626"/>
<path d="M1235.6 978.9Q1207.5 1020.9 1182.7 1040.3" fill="none" stroke="#262626" stroke-width="4.1"/><path d="M1167.7 1052.0L1177.2 1030.0L1191.3 1048.1Z" fill="#262626"/>
<path d="M942.7 1171.2Q880.4 1186.4 835.2 1185.9" fill="none" stroke="#262626" stroke-width="4.1"/><path d="M816.2 1185.7L837.3 1174.4L837.1 1197.4Z" fill="#262626"/>
<path d="M530.0 1101.1Q466.0 1062.3 429.9 1019.7" fill="none" stroke="#262626" stroke-width="4.1"/><path d="M417.6 1005.2L440.0 1013.8L422.4 1028.7Z" fill="#262626"/>
<path d="M311.6 791.0Q295.6 737.9 295.5 701.4" fill="none" stroke="#262626" stroke-width="4.1"/><path d="M295.5 682.4L307.1 703.4L284.1 703.4Z" fill="#262626"/>
<path d="M377.5 409.0Q417.5 346.7 459.5 311.3" fill="none" stroke="#262626" stroke-width="4.1"/><path d="M474.0 299.0L465.4 321.3L450.5 303.8Z" fill="#262626"/>
<path d="M521.6 1142.7L669.9 1110.7" fill="none" stroke="#262626" stroke-width="4.0"/>
<path d="M1014.3 900.3L1329 998.9" fill="none" stroke="#262626" stroke-width="4.0"/>
</g>
<g id="labels">
<text x="930" y="34" text-anchor="middle" font-size="46" transform="translate(0 34) scale(1 1.03) translate(0 -34)">Chapeaux</text>
<text x="930.5" y="85" text-anchor="middle" font-size="46" transform="translate(0 85) scale(1 1.03) translate(0 -85)">archégoniaux</text>
<text x="430" y="159" text-anchor="end" font-size="46" transform="translate(0 159) scale(1 1.03) translate(0 -159)">Sporophyte</text>
<text x="430" y="210" text-anchor="end" font-size="46" transform="translate(0 210) scale(1 1.03) translate(0 -210)">mature</text>
<text x="230.5" y="355" text-anchor="start" font-size="46" transform="translate(0 355) scale(1 1.03) translate(0 -355)">Méiose</text>
<text x="226.5" y="556.2" text-anchor="end" font-size="46" transform="translate(0 556.2) scale(1 1.03) translate(0 -556.2)">Jeune</text>
<text x="226.5" y="607.3" text-anchor="end" font-size="46" transform="translate(0 607.3) scale(1 1.03) translate(0 -607.3)">sporophyte</text>
<text x="21.5" y="933.3" text-anchor="start" font-size="46" transform="translate(0 933.3) scale(1 1.03) translate(0 -933.3)">Zygote (2n<tspan dx="3">)</tspan></text>
<text x="263" y="1162" text-anchor="start" font-size="46" transform="translate(0 1162) scale(1 1.03) translate(0 -1162)">Archégone</text>
<text x="829.5" y="594.2" text-anchor="end" font-size="46" transform="translate(0 594.2) scale(1 1.03) translate(0 -594.2)">Gamétophyte</text>
<text x="831" y="645.2" text-anchor="end" font-size="46" transform="translate(0 645.2) scale(1 1.03) translate(0 -645.2)">femelle (n<tspan dx="3">)</tspan></text>
<text x="1267.5" y="253.2" text-anchor="start" font-size="46" transform="translate(0 253.2) scale(1 1.03) translate(0 -253.2)">Spores (n<tspan dx="3">)</tspan></text>
<text x="1267.5" y="304.2" text-anchor="start" font-size="46" transform="translate(0 304.2) scale(1 1.03) translate(0 -304.2)">relâchées</text>
<text x="1336.5" y="558" text-anchor="start" font-size="46" transform="translate(0 558) scale(1 1.03) translate(0 -558)">Germination</text>
<text x="1388.5" y="799.3" text-anchor="start" font-size="46" transform="translate(0 799.3) scale(1 1.03) translate(0 -799.3)">Gamétophyte</text>
<text x="1388.5" y="850.3" text-anchor="start" font-size="46" transform="translate(0 850.3) scale(1 1.03) translate(0 -850.3)">mâle (n<tspan dx="3">)</tspan></text>
<text x="1361.5" y="1021.2" text-anchor="start" font-size="46" transform="translate(0 1021.2) scale(1 1.03) translate(0 -1021.2)">Spermatozoïde (n<tspan dx="3">)</tspan></text>
<text x="1183" y="1174.2" text-anchor="start" font-size="46" transform="translate(0 1174.2) scale(1 1.03) translate(0 -1174.2)">Chapeau</text>
<text x="1183" y="1225.2" text-anchor="start" font-size="46" transform="translate(0 1225.2) scale(1 1.03) translate(0 -1225.2)">anthéridien</text>
<text x="887" y="1289.7" text-anchor="middle" font-size="46" transform="translate(0 1289.7) scale(1 1.03) translate(0 -1289.7)">Spermatozoïdes se</text>
<text x="887.5" y="1340.7" text-anchor="middle" font-size="46" transform="translate(0 1340.7) scale(1 1.03) translate(0 -1340.7)">rendant aux archégones</text>
<text x="893.5" y="1391.6" text-anchor="middle" font-size="46" transform="translate(0 1391.6) scale(1 1.03) translate(0 -1391.6)">par les gouttes d'eau</text>
<text class="credit" x="233" y="1253.4" font-size="16.5" textLength="180" lengthAdjust="spacingAndGlyphs">Livingstone, © BIODIDAC</text>
</g>
</svg>
</body>
</html>
